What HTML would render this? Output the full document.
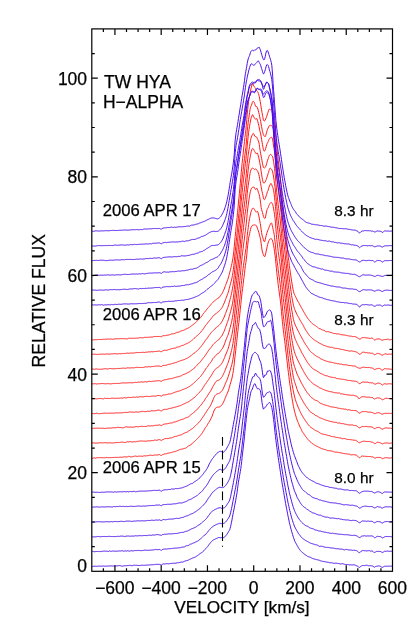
<!DOCTYPE html>
<html><head><meta charset="utf-8"><title>TW HYA H-ALPHA</title>
<style>html,body{margin:0;padding:0;background:#fff;}body{width:420px;height:630px;position:relative;overflow:hidden;font-family:"Liberation Sans",sans-serif;}</style>
</head><body>
<svg width="420" height="630" viewBox="0 0 420 630" style="position:absolute;left:0;top:0;will-change:transform">
<defs><clipPath id="c"><rect x="91.8" y="28.9" width="300.7" height="542.4"/></clipPath></defs>
<g clip-path="url(#c)" fill="none" stroke-width="1" stroke-linejoin="round">
<path d="M91.8,566.45 L92.3,566.53 L92.7,566.52 L93.2,566.38 L93.7,566.24 L94.1,566.18 L94.6,566.19 L95.0,566.21 L95.5,566.24 L96.0,566.29 L96.4,566.33 L96.9,566.32 L97.4,566.25 L97.8,566.18 L98.3,566.14 L98.7,566.14 L99.2,566.14 L99.7,566.14 L100.1,566.13 L100.6,566.13 L101.1,566.13 L101.5,566.13 L102.0,566.14 L102.4,566.12 L102.9,566.08 L103.4,566.04 L103.8,566.05 L104.3,566.12 L104.8,566.18 L105.2,566.19 L105.7,566.15 L106.1,566.11 L106.6,566.09 L107.1,566.10 L107.5,566.11 L108.0,566.08 L108.5,566.01 L108.9,565.93 L109.4,565.91 L109.8,565.93 L110.3,565.95 L110.8,565.97 L111.2,565.98 L111.7,565.99 L112.2,566.00 L112.6,566.02 L113.1,566.04 L113.5,566.03 L114.0,565.99 L114.5,565.95 L114.9,565.91 L115.4,565.89 L115.9,565.86 L116.3,565.85 L116.8,565.86 L117.2,565.87 L117.7,565.83 L118.2,565.73 L118.6,565.63 L119.1,565.58 L119.6,565.59 L120.0,565.59 L120.5,565.69 L120.9,565.90 L121.4,566.10 L121.9,566.19 L122.3,566.13 L122.8,566.08 L123.3,566.00 L123.7,565.89 L124.2,565.78 L124.6,565.73 L125.1,565.73 L125.6,565.74 L126.0,565.72 L126.5,565.68 L127.0,565.63 L127.4,565.60 L127.9,565.59 L128.3,565.58 L128.8,565.52 L129.3,565.40 L129.7,565.28 L130.2,565.30 L130.7,565.48 L131.1,565.65 L131.6,565.72 L132.0,565.67 L132.5,565.62 L133.0,565.52 L133.4,565.37 L133.9,565.22 L134.4,565.17 L134.8,565.24 L135.3,565.31 L135.7,565.34 L136.2,565.32 L136.7,565.31 L137.1,565.33 L137.6,565.38 L138.1,565.44 L138.5,565.49 L139.0,565.54 L139.4,565.59 L139.9,565.56 L140.4,565.44 L140.8,565.32 L141.3,565.24 L141.8,565.23 L142.2,565.21 L142.7,565.23 L143.2,565.29 L143.6,565.35 L144.1,565.35 L144.5,565.30 L145.0,565.25 L145.5,565.19 L145.9,565.13 L146.4,565.08 L146.9,565.06 L147.3,565.08 L147.8,565.11 L148.2,565.09 L148.7,565.02 L149.2,564.94 L149.6,564.89 L150.1,564.85 L150.6,564.81 L151.0,564.78 L151.5,564.76 L151.9,564.74 L152.4,564.72 L152.9,564.73 L153.3,564.73 L153.8,564.69 L154.3,564.60 L154.7,564.51 L155.2,564.44 L155.6,564.39 L156.1,564.34 L156.6,564.32 L157.0,564.32 L157.5,564.32 L158.0,564.34 L158.4,564.38 L158.9,564.42 L159.3,564.40 L159.8,564.37 L160.3,564.50 L160.7,564.80 L161.2,565.02 L161.7,564.88 L162.1,564.50 L162.6,564.15 L163.0,563.94 L163.5,563.90 L164.0,563.98 L164.4,564.06 L164.9,564.03 L165.4,563.89 L165.8,563.74 L166.3,563.67 L166.7,563.69 L167.2,563.71 L167.7,563.74 L168.1,563.78 L168.6,563.81 L169.1,563.79 L169.5,563.70 L170.0,563.61 L170.4,563.53 L170.9,563.47 L171.4,563.41 L171.8,563.35 L172.3,563.30 L172.8,563.24 L173.2,563.23 L173.7,563.25 L174.1,563.28 L174.6,563.27 L175.1,563.23 L175.5,563.18 L176.0,563.10 L176.5,562.97 L176.9,562.84 L177.4,562.76 L177.8,562.74 L178.3,562.71 L178.8,562.65 L179.2,562.55 L179.7,562.44 L180.2,562.33 L180.6,562.23 L181.1,562.11 L181.5,562.07 L182.0,562.10 L182.5,562.14 L182.9,562.04 L183.4,561.81 L183.9,561.58 L184.3,561.36 L184.8,561.16 L185.2,560.96 L185.7,560.82 L186.2,560.75 L186.6,560.67 L187.1,560.56 L187.6,560.42 L188.0,560.27 L188.5,560.06 L188.9,559.78 L189.4,559.50 L189.9,559.26 L190.3,559.09 L190.8,558.92 L191.3,558.71 L191.7,558.46 L192.2,558.21 L192.7,558.00 L193.1,557.85 L193.6,557.70 L194.0,557.55 L194.5,557.39 L195.0,557.22 L195.4,556.98 L195.9,556.65 L196.4,556.31 L196.8,556.00 L197.3,555.73 L197.7,555.45 L198.2,555.12 L198.7,554.73 L199.1,554.33 L199.6,553.97 L200.1,553.65 L200.5,553.32 L201.0,553.02 L201.4,552.75 L201.9,552.47 L202.4,552.13 L202.8,551.71 L203.3,551.28 L203.8,550.80 L204.2,550.27 L204.7,549.73 L205.1,549.24 L205.6,548.78 L206.1,548.28 L206.5,547.77 L207.0,547.27 L207.5,546.76 L207.9,546.17 L208.4,545.52 L208.8,544.87 L209.3,544.22 L209.8,543.60 L210.2,543.00 L210.7,542.44 L211.2,541.92 L211.6,541.45 L212.1,541.01 L212.5,540.61 L213.0,540.26 L213.5,539.95 L213.9,539.70 L214.4,539.46 L214.9,539.23 L215.3,539.01 L215.8,538.80 L216.2,538.59 L216.7,538.39 L217.2,538.20 L217.6,537.98 L218.1,537.73 L218.6,537.50 L219.0,537.43 L219.5,537.54 L219.9,537.70 L220.4,537.76 L220.9,537.68 L221.3,537.63 L221.8,537.63 L222.3,537.68 L222.7,537.68 L223.2,537.66 L223.6,537.60 L224.1,537.45 L224.6,537.13 L225.0,536.63 L225.5,536.05 L226.0,535.48 L226.4,534.94 L226.9,534.36 L227.3,533.69 L227.8,532.91 L228.3,532.12 L228.7,531.37 L229.2,530.67 L229.7,529.74 L230.1,528.35 L230.6,526.57 L231.0,524.50 L231.5,522.23 L232.0,519.80 L232.4,517.28 L232.9,514.78 L233.4,512.36 L233.8,510.05 L234.3,507.78 L234.7,505.43 L235.2,502.99 L235.7,500.45 L236.1,497.82 L236.6,495.11 L237.1,492.17 L237.5,488.86 L238.0,485.43 L238.4,482.21 L238.9,479.39 L239.4,476.78 L239.8,474.21 L240.3,471.53 L240.8,468.68 L241.2,465.46 L241.7,461.63 L242.1,457.36 L242.6,453.04 L243.1,448.97 L243.5,445.02 L244.0,440.93 L244.5,436.54 L244.9,431.72 L245.4,426.81 L245.9,422.38 L246.3,418.27 L246.8,414.26 L247.2,410.56 L247.7,407.46 L248.2,404.90 L248.6,402.74 L249.1,400.77 L249.6,398.65 L250.0,396.20 L250.5,393.73 L250.9,391.79 L251.4,390.66 L251.9,390.03 L252.3,389.07 L252.8,387.63 L253.3,386.27 L253.7,385.16 L254.2,384.34 L254.6,383.72 L255.1,383.90 L255.6,384.96 L256.0,386.18 L256.5,387.20 L257.0,387.96 L257.4,388.79 L257.9,389.09 L258.3,388.76 L258.8,388.59 L259.3,388.85 L259.7,389.52 L260.2,390.38 L260.7,392.09 L261.1,395.15 L261.6,398.89 L262.0,402.46 L262.5,405.43 L263.0,407.84 L263.4,409.05 L263.9,408.77 L264.4,408.01 L264.8,407.40 L265.3,407.18 L265.7,406.89 L266.2,406.25 L266.7,405.37 L267.1,404.57 L267.6,404.01 L268.1,403.61 L268.5,403.26 L269.0,402.91 L269.4,402.60 L269.9,402.63 L270.4,403.28 L270.8,404.46 L271.3,405.79 L271.8,407.51 L272.2,409.86 L272.7,412.72 L273.1,415.85 L273.6,419.42 L274.1,423.52 L274.5,427.93 L275.0,432.37 L275.5,436.59 L275.9,440.33 L276.4,443.83 L276.8,447.25 L277.3,450.68 L277.8,454.11 L278.2,457.46 L278.7,460.66 L279.2,463.71 L279.6,466.72 L280.1,469.77 L280.5,472.89 L281.0,475.98 L281.5,478.98 L281.9,481.90 L282.4,484.77 L282.9,487.52 L283.3,490.13 L283.8,492.71 L284.2,495.38 L284.7,498.17 L285.2,500.90 L285.6,503.52 L286.1,506.02 L286.6,508.47 L287.0,510.85 L287.5,513.18 L287.9,515.47 L288.4,517.76 L288.9,520.02 L289.3,522.21 L289.8,524.27 L290.3,526.17 L290.7,527.96 L291.2,529.65 L291.6,531.30 L292.1,532.91 L292.6,534.49 L293.0,536.02 L293.5,537.47 L294.0,538.86 L294.4,540.19 L294.9,541.39 L295.4,542.36 L295.8,543.13 L296.3,543.88 L296.7,544.69 L297.2,545.58 L297.7,546.44 L298.1,547.24 L298.6,547.99 L299.1,548.70 L299.5,549.37 L300.0,549.98 L300.4,550.56 L300.9,551.11 L301.4,551.60 L301.8,552.07 L302.3,552.46 L302.8,552.77 L303.2,553.05 L303.7,553.42 L304.1,553.91 L304.6,554.39 L305.1,554.74 L305.5,554.96 L306.0,555.17 L306.5,555.47 L306.9,555.87 L307.4,556.27 L307.8,556.53 L308.3,556.65 L308.8,556.77 L309.2,556.91 L309.7,557.08 L310.2,557.24 L310.6,557.45 L311.1,557.72 L311.5,557.98 L312.0,558.21 L312.5,558.42 L312.9,558.62 L313.4,558.78 L313.9,558.89 L314.3,559.00 L314.8,559.12 L315.2,559.24 L315.7,559.36 L316.2,559.49 L316.6,559.63 L317.1,559.77 L317.6,559.87 L318.0,559.92 L318.5,559.97 L318.9,560.10 L319.4,560.32 L319.9,560.53 L320.3,560.72 L320.8,560.88 L321.3,561.04 L321.7,561.16 L322.2,561.23 L322.6,561.31 L323.1,561.39 L323.6,561.49 L324.0,561.58 L324.5,561.67 L325.0,561.75 L325.4,561.82 L325.9,561.91 L326.3,562.00 L326.8,562.09 L327.3,562.17 L327.7,562.24 L328.2,562.30 L328.7,562.42 L329.1,562.59 L329.6,562.77 L330.0,562.83 L330.5,562.75 L331.0,562.67 L331.4,562.69 L331.9,562.83 L332.4,562.97 L332.8,563.09 L333.3,563.18 L333.7,563.27 L334.2,563.30 L334.7,563.25 L335.1,563.20 L335.6,563.18 L336.1,563.20 L336.5,563.21 L337.0,563.26 L337.4,563.36 L337.9,563.46 L338.4,563.55 L338.8,563.62 L339.3,563.69 L339.8,563.78 L340.2,563.89 L340.7,564.00 L341.1,563.98 L341.6,563.81 L342.1,563.64 L342.5,563.63 L343.0,563.79 L343.5,563.95 L343.9,564.11 L344.4,564.27 L344.9,564.43 L345.3,564.52 L345.8,564.54 L346.2,564.57 L346.7,564.57 L347.2,564.56 L347.6,564.55 L348.1,564.61 L348.6,564.74 L349.0,564.88 L349.5,564.92 L349.9,564.86 L350.4,564.79 L350.9,564.79 L351.3,564.86 L351.8,564.93 L352.3,564.94 L352.7,564.87 L353.2,564.81 L353.6,564.80 L354.1,564.84 L354.6,564.89 L355.0,565.03 L355.5,565.29 L356.0,565.58 L356.4,565.75 L356.9,565.80 L357.3,565.94 L357.8,566.28 L358.3,566.79 L358.7,567.25 L359.2,567.46 L359.7,567.32 L360.1,566.98 L360.6,566.59 L361.0,566.27 L361.5,565.98 L362.0,565.75 L362.4,565.56 L362.9,565.46 L363.4,565.45 L363.8,565.54 L364.3,565.64 L364.7,565.63 L365.2,565.48 L365.7,565.33 L366.1,565.25 L366.6,565.25 L367.1,565.26 L367.5,565.35 L368.0,565.54 L368.4,565.74 L368.9,565.81 L369.4,565.74 L369.8,565.67 L370.3,565.67 L370.8,565.75 L371.2,565.84 L371.7,565.89 L372.1,565.94 L372.6,566.05 L373.1,566.30 L373.5,566.67 L374.0,567.03 L374.5,567.18 L374.9,567.01 L375.4,566.67 L375.8,566.38 L376.3,566.27 L376.8,566.22 L377.2,566.17 L377.7,566.08 L378.2,566.02 L378.6,565.99 L379.1,565.97 L379.5,565.97 L380.0,566.09 L380.5,566.34 L380.9,566.67 L381.4,567.00 L381.9,567.23 L382.3,567.31 L382.8,567.22 L383.2,567.00 L383.7,566.73 L384.2,566.48 L384.6,566.29 L385.1,566.17 L385.6,566.15 L386.0,566.20 L386.5,566.26 L386.9,566.27 L387.4,566.24 L387.9,566.20 L388.3,566.17 L388.8,566.16 L389.3,566.15 L389.7,566.15 L390.2,566.16 L390.6,566.17 L391.1,566.17 L391.6,566.15 L392.0,566.12 L392.5,566.12" stroke="#4a10e8"/>
<path d="M91.8,551.30 L92.3,551.35 L92.7,551.39 L93.2,551.46 L93.7,551.58 L94.1,551.70 L94.6,551.78 L95.0,551.68 L95.5,551.58 L96.0,551.49 L96.4,551.52 L96.9,551.55 L97.4,551.56 L97.8,551.50 L98.3,551.45 L98.7,551.42 L99.2,551.51 L99.7,551.60 L100.1,551.66 L100.6,551.54 L101.1,551.43 L101.5,551.33 L102.0,551.32 L102.4,551.31 L102.9,551.29 L103.4,551.20 L103.8,551.11 L104.3,551.05 L104.8,551.11 L105.2,551.18 L105.7,551.22 L106.1,551.20 L106.6,551.18 L107.1,551.18 L107.5,551.29 L108.0,551.39 L108.5,551.44 L108.9,551.22 L109.4,550.99 L109.8,550.84 L110.3,551.07 L110.8,551.30 L111.2,551.46 L111.7,551.28 L112.2,551.10 L112.6,550.96 L113.1,551.03 L113.5,551.10 L114.0,551.17 L114.5,551.19 L114.9,551.21 L115.4,551.22 L115.9,551.20 L116.3,551.18 L116.8,551.16 L117.2,551.15 L117.7,551.14 L118.2,551.12 L118.6,551.05 L119.1,550.98 L119.6,550.93 L120.0,550.95 L120.5,550.97 L120.9,550.97 L121.4,550.87 L121.9,550.77 L122.3,550.72 L122.8,550.90 L123.3,551.08 L123.7,551.21 L124.2,551.10 L124.6,550.99 L125.1,550.90 L125.6,550.94 L126.0,550.98 L126.5,551.00 L127.0,550.90 L127.4,550.79 L127.9,550.73 L128.3,550.89 L128.8,551.05 L129.3,551.16 L129.7,551.05 L130.2,550.93 L130.7,550.83 L131.1,550.79 L131.6,550.75 L132.0,550.73 L132.5,550.82 L133.0,550.90 L133.4,550.95 L133.9,550.80 L134.4,550.64 L134.8,550.52 L135.3,550.55 L135.7,550.59 L136.2,550.61 L136.7,550.55 L137.1,550.48 L137.6,550.43 L138.1,550.42 L138.5,550.41 L139.0,550.42 L139.4,550.51 L139.9,550.61 L140.4,550.68 L140.8,550.65 L141.3,550.63 L141.8,550.59 L142.2,550.54 L142.7,550.49 L143.2,550.43 L143.6,550.36 L144.1,550.28 L144.5,550.21 L145.0,550.19 L145.5,550.16 L145.9,550.15 L146.4,550.21 L146.9,550.28 L147.3,550.33 L147.8,550.30 L148.2,550.27 L148.7,550.24 L149.2,550.23 L149.6,550.21 L150.1,550.19 L150.6,550.16 L151.0,550.12 L151.5,550.08 L151.9,550.03 L152.4,549.98 L152.9,549.94 L153.3,549.90 L153.8,549.87 L154.3,549.82 L154.7,549.66 L155.2,549.51 L155.6,549.40 L156.1,549.52 L156.6,549.63 L157.0,549.72 L157.5,549.68 L158.0,549.64 L158.4,549.59 L158.9,549.52 L159.3,549.47 L159.8,549.51 L160.3,549.81 L160.7,550.20 L161.2,550.41 L161.7,550.17 L162.1,549.76 L162.6,549.45 L163.0,549.30 L163.5,549.23 L164.0,549.17 L164.4,549.09 L164.9,549.02 L165.4,548.97 L165.8,549.06 L166.3,549.15 L166.7,549.19 L167.2,549.00 L167.7,548.81 L168.1,548.67 L168.6,548.73 L169.1,548.80 L169.5,548.84 L170.0,548.77 L170.4,548.70 L170.9,548.63 L171.4,548.55 L171.8,548.47 L172.3,548.40 L172.8,548.37 L173.2,548.34 L173.7,548.30 L174.1,548.23 L174.6,548.16 L175.1,548.10 L175.5,548.10 L176.0,548.10 L176.5,548.09 L176.9,548.04 L177.4,548.00 L177.8,547.94 L178.3,547.86 L178.8,547.78 L179.2,547.71 L179.7,547.72 L180.2,547.73 L180.6,547.69 L181.1,547.48 L181.5,547.26 L182.0,547.08 L182.5,547.08 L182.9,547.09 L183.4,547.07 L183.9,546.97 L184.3,546.86 L184.8,546.71 L185.2,546.38 L185.7,546.04 L186.2,545.74 L186.6,545.71 L187.1,545.67 L187.6,545.61 L188.0,545.49 L188.5,545.37 L188.9,545.21 L189.4,544.84 L189.9,544.47 L190.3,544.15 L190.8,544.08 L191.3,544.00 L191.7,543.88 L192.2,543.59 L192.7,543.29 L193.1,543.03 L193.6,542.92 L194.0,542.81 L194.5,542.67 L195.0,542.41 L195.4,542.15 L195.9,541.89 L196.4,541.71 L196.8,541.52 L197.3,541.31 L197.7,541.03 L198.2,540.74 L198.7,540.43 L199.1,540.05 L199.6,539.66 L200.1,539.27 L200.5,538.87 L201.0,538.45 L201.4,538.04 L201.9,537.61 L202.4,537.18 L202.8,536.74 L203.3,536.25 L203.8,535.76 L204.2,535.31 L204.7,535.10 L205.1,534.89 L205.6,534.57 L206.1,533.96 L206.5,533.31 L207.0,532.67 L207.5,532.19 L207.9,531.69 L208.4,531.16 L208.8,530.54 L209.3,529.93 L209.8,529.34 L210.2,528.87 L210.7,528.42 L211.2,527.99 L211.6,527.53 L212.1,527.13 L212.5,526.77 L213.0,526.42 L213.5,526.09 L213.9,525.79 L214.4,525.56 L214.9,525.34 L215.3,525.13 L215.8,524.84 L216.2,524.57 L216.7,524.33 L217.2,524.19 L217.6,524.07 L218.1,523.93 L218.6,523.69 L219.0,523.47 L219.5,523.31 L219.9,523.34 L220.4,523.42 L220.9,523.51 L221.3,523.58 L221.8,523.65 L222.3,523.70 L222.7,523.65 L223.2,523.54 L223.6,523.35 L224.1,523.16 L224.6,522.89 L225.0,522.54 L225.5,522.11 L226.0,521.61 L226.4,521.06 L226.9,520.44 L227.3,519.80 L227.8,519.13 L228.3,518.45 L228.7,517.74 L229.2,517.00 L229.7,515.95 L230.1,514.52 L230.6,512.77 L231.0,510.81 L231.5,508.65 L232.0,506.33 L232.4,503.94 L232.9,501.51 L233.4,499.12 L233.8,496.78 L234.3,494.47 L234.7,492.08 L235.2,489.70 L235.7,487.24 L236.1,484.69 L236.6,481.91 L237.1,479.05 L237.5,476.01 L238.0,473.07 L238.4,470.17 L238.9,467.37 L239.4,464.43 L239.8,461.56 L240.3,458.68 L240.8,455.95 L241.2,452.92 L241.7,449.37 L242.1,445.28 L242.6,441.07 L243.1,437.03 L243.5,433.07 L244.0,429.05 L244.5,424.87 L244.9,420.41 L245.4,415.77 L245.9,411.41 L246.3,407.31 L246.8,403.36 L247.2,399.74 L247.7,396.37 L248.2,393.43 L248.6,390.86 L249.1,389.00 L249.6,387.23 L250.0,385.42 L250.5,383.62 L250.9,382.03 L251.4,380.69 L251.9,379.23 L252.3,377.86 L252.8,376.73 L253.3,376.59 L253.7,376.60 L254.2,376.46 L254.6,375.05 L255.1,373.86 L255.6,373.15 L256.0,373.97 L256.5,374.92 L257.0,375.85 L257.4,376.32 L257.9,376.84 L258.3,377.29 L258.8,377.38 L259.3,377.73 L259.7,378.42 L260.2,379.84 L260.7,381.37 L261.1,383.54 L261.6,386.84 L262.0,390.40 L262.5,393.69 L263.0,395.90 L263.4,397.15 L263.9,397.17 L264.4,396.73 L264.8,396.10 L265.3,395.43 L265.7,394.67 L266.2,393.75 L266.7,392.90 L267.1,392.63 L267.6,392.58 L268.1,392.59 L268.5,392.22 L269.0,391.93 L269.4,391.74 L269.9,391.71 L270.4,392.09 L270.8,392.84 L271.3,394.16 L271.8,396.04 L272.2,398.67 L272.7,401.51 L273.1,404.51 L273.6,407.84 L274.1,411.82 L274.5,416.08 L275.0,420.41 L275.5,424.73 L275.9,428.63 L276.4,432.32 L276.8,435.69 L277.3,438.98 L277.8,442.26 L278.2,445.66 L278.7,448.98 L279.2,452.15 L279.6,454.92 L280.1,457.65 L280.5,460.38 L281.0,463.15 L281.5,465.90 L281.9,468.69 L282.4,471.72 L282.9,474.70 L283.3,477.57 L283.8,480.09 L284.2,482.57 L284.7,485.05 L285.2,487.62 L285.6,490.15 L286.1,492.63 L286.6,495.09 L287.0,497.50 L287.5,499.86 L287.9,502.13 L288.4,504.35 L288.9,506.50 L289.3,508.58 L289.8,510.55 L290.3,512.43 L290.7,514.24 L291.2,515.97 L291.6,517.66 L292.1,519.24 L292.6,520.76 L293.0,522.21 L293.5,523.61 L294.0,524.91 L294.4,526.10 L294.9,527.15 L295.4,528.06 L295.8,528.90 L296.3,529.72 L296.7,530.52 L297.2,531.31 L297.7,532.15 L298.1,532.97 L298.6,533.72 L299.1,534.30 L299.5,534.84 L300.0,535.39 L300.4,536.05 L300.9,536.69 L301.4,537.27 L301.8,537.71 L302.3,538.13 L302.8,538.51 L303.2,538.86 L303.7,539.17 L304.1,539.47 L304.6,539.80 L305.1,540.12 L305.5,540.42 L306.0,540.71 L306.5,540.98 L306.9,541.24 L307.4,541.47 L307.8,541.70 L308.3,541.92 L308.8,542.20 L309.2,542.47 L309.7,542.72 L310.2,542.94 L310.6,543.15 L311.1,543.34 L311.5,543.50 L312.0,543.66 L312.5,543.80 L312.9,543.91 L313.4,544.01 L313.9,544.12 L314.3,544.34 L314.8,544.55 L315.2,544.73 L315.7,544.75 L316.2,544.78 L316.6,544.83 L317.1,545.06 L317.6,545.28 L318.0,545.52 L318.5,545.82 L318.9,546.12 L319.4,546.37 L319.9,546.33 L320.3,546.30 L320.8,546.26 L321.3,546.25 L321.7,546.23 L322.2,546.25 L322.6,546.44 L323.1,546.64 L323.6,546.81 L324.0,546.93 L324.5,547.05 L325.0,547.16 L325.4,547.27 L325.9,547.38 L326.3,547.46 L326.8,547.41 L327.3,547.36 L327.7,547.34 L328.2,547.43 L328.7,547.52 L329.1,547.61 L329.6,547.69 L330.0,547.78 L330.5,547.86 L331.0,547.94 L331.4,548.01 L331.9,548.07 L332.4,548.07 L332.8,548.07 L333.3,548.08 L333.7,548.17 L334.2,548.26 L334.7,548.36 L335.1,548.53 L335.6,548.70 L336.1,548.84 L336.5,548.77 L337.0,548.71 L337.4,548.67 L337.9,548.76 L338.4,548.84 L338.8,548.92 L339.3,548.99 L339.8,549.05 L340.2,549.10 L340.7,549.10 L341.1,549.10 L341.6,549.11 L342.1,549.20 L342.5,549.29 L343.0,549.40 L343.5,549.61 L343.9,549.82 L344.4,549.97 L344.9,549.75 L345.3,549.53 L345.8,549.37 L346.2,549.44 L346.7,549.51 L347.2,549.58 L347.6,549.69 L348.1,549.79 L348.6,549.89 L349.0,549.94 L349.5,549.99 L349.9,550.03 L350.4,550.03 L350.9,550.03 L351.3,550.05 L351.8,550.17 L352.3,550.29 L352.7,550.38 L353.2,550.32 L353.6,550.26 L354.1,550.22 L354.6,550.28 L355.0,550.35 L355.5,550.42 L356.0,550.51 L356.4,550.64 L356.9,550.86 L357.3,551.19 L357.8,551.60 L358.3,552.04 L358.7,552.40 L359.2,552.61 L359.7,552.60 L360.1,552.31 L360.6,551.88 L361.0,551.41 L361.5,551.06 L362.0,550.79 L362.4,550.62 L362.9,550.59 L363.4,550.60 L363.8,550.64 L364.3,550.68 L364.7,550.72 L365.2,550.77 L365.7,550.84 L366.1,550.90 L366.6,550.94 L367.1,550.86 L367.5,550.79 L368.0,550.72 L368.4,550.68 L368.9,550.65 L369.4,550.65 L369.8,550.85 L370.3,551.05 L370.8,551.20 L371.2,551.06 L371.7,550.94 L372.1,550.92 L372.6,551.26 L373.1,551.69 L373.5,552.13 L374.0,552.32 L374.5,552.40 L374.9,552.32 L375.4,552.12 L375.8,551.80 L376.3,551.51 L376.8,551.41 L377.2,551.39 L377.7,551.42 L378.2,551.41 L378.6,551.42 L379.1,551.44 L379.5,551.40 L380.0,551.40 L380.5,551.50 L380.9,551.73 L381.4,551.99 L381.9,552.23 L382.3,552.41 L382.8,552.40 L383.2,552.21 L383.7,551.82 L384.2,551.46 L384.6,551.23 L385.1,551.26 L385.6,551.34 L386.0,551.41 L386.5,551.26 L386.9,551.12 L387.4,551.02 L387.9,551.12 L388.3,551.22 L388.8,551.30 L389.3,551.29 L389.7,551.29 L390.2,551.28 L390.6,551.26 L391.1,551.24 L391.6,551.23 L392.0,551.25 L392.5,551.26" stroke="#4a10e8"/>
<path d="M91.8,536.87 L92.3,536.90 L92.7,536.91 L93.2,536.88 L93.7,536.84 L94.1,536.82 L94.6,536.84 L95.0,536.86 L95.5,536.87 L96.0,536.80 L96.4,536.73 L96.9,536.66 L97.4,536.57 L97.8,536.49 L98.3,536.43 L98.7,536.52 L99.2,536.62 L99.7,536.70 L100.1,536.70 L100.6,536.70 L101.1,536.69 L101.5,536.61 L102.0,536.54 L102.4,536.47 L102.9,536.47 L103.4,536.47 L103.8,536.47 L104.3,536.47 L104.8,536.48 L105.2,536.49 L105.7,536.54 L106.1,536.59 L106.6,536.62 L107.1,536.56 L107.5,536.50 L108.0,536.44 L108.5,536.39 L108.9,536.34 L109.4,536.30 L109.8,536.41 L110.3,536.52 L110.8,536.60 L111.2,536.54 L111.7,536.48 L112.2,536.44 L112.6,536.51 L113.1,536.59 L113.5,536.64 L114.0,536.60 L114.5,536.55 L114.9,536.52 L115.4,536.54 L115.9,536.56 L116.3,536.57 L116.8,536.47 L117.2,536.36 L117.7,536.28 L118.2,536.33 L118.6,536.38 L119.1,536.42 L119.6,536.32 L120.0,536.22 L120.5,536.14 L120.9,536.13 L121.4,536.13 L121.9,536.13 L122.3,536.14 L122.8,536.15 L123.3,536.18 L123.7,536.31 L124.2,536.43 L124.6,536.53 L125.1,536.40 L125.6,536.28 L126.0,536.17 L126.5,536.13 L127.0,536.09 L127.4,536.06 L127.9,536.04 L128.3,536.02 L128.8,536.02 L129.3,536.10 L129.7,536.19 L130.2,536.25 L130.7,536.18 L131.1,536.11 L131.6,536.05 L132.0,536.07 L132.5,536.09 L133.0,536.10 L133.4,536.08 L133.9,536.06 L134.4,536.03 L134.8,535.91 L135.3,535.79 L135.7,535.69 L136.2,535.79 L136.7,535.88 L137.1,535.96 L137.6,535.90 L138.1,535.84 L138.5,535.78 L139.0,535.71 L139.4,535.65 L139.9,535.59 L140.4,535.66 L140.8,535.73 L141.3,535.78 L141.8,535.74 L142.2,535.69 L142.7,535.65 L143.2,535.61 L143.6,535.58 L144.1,535.55 L144.5,535.53 L145.0,535.51 L145.5,535.50 L145.9,535.56 L146.4,535.61 L146.9,535.64 L147.3,535.54 L147.8,535.44 L148.2,535.34 L148.7,535.24 L149.2,535.15 L149.6,535.08 L150.1,535.22 L150.6,535.36 L151.0,535.46 L151.5,535.30 L151.9,535.13 L152.4,534.99 L152.9,535.00 L153.3,535.02 L153.8,535.03 L154.3,535.05 L154.7,535.06 L155.2,535.05 L155.6,534.87 L156.1,534.69 L156.6,534.54 L157.0,534.58 L157.5,534.62 L158.0,534.66 L158.4,534.75 L158.9,534.83 L159.3,534.91 L159.8,534.90 L160.3,535.04 L160.7,535.29 L161.2,535.41 L161.7,535.17 L162.1,534.77 L162.6,534.54 L163.0,534.46 L163.5,534.44 L164.0,534.35 L164.4,534.27 L164.9,534.20 L165.4,534.21 L165.8,534.22 L166.3,534.23 L166.7,534.15 L167.2,534.07 L167.7,534.00 L168.1,533.92 L168.6,533.84 L169.1,533.78 L169.5,533.87 L170.0,533.95 L170.4,534.01 L170.9,533.92 L171.4,533.83 L171.8,533.75 L172.3,533.75 L172.8,533.74 L173.2,533.73 L173.7,533.65 L174.1,533.57 L174.6,533.50 L175.1,533.53 L175.5,533.55 L176.0,533.56 L176.5,533.47 L176.9,533.38 L177.4,533.29 L177.8,533.21 L178.3,533.12 L178.8,533.03 L179.2,532.90 L179.7,532.77 L180.2,532.65 L180.6,532.55 L181.1,532.46 L181.5,532.37 L182.0,532.41 L182.5,532.44 L182.9,532.45 L183.4,532.30 L183.9,532.14 L184.3,531.97 L184.8,531.74 L185.2,531.52 L185.7,531.31 L186.2,531.30 L186.6,531.29 L187.1,531.24 L187.6,530.98 L188.0,530.71 L188.5,530.45 L188.9,530.24 L189.4,530.03 L189.9,529.80 L190.3,529.52 L190.8,529.24 L191.3,528.97 L191.7,528.79 L192.2,528.61 L192.7,528.43 L193.1,528.27 L193.6,528.10 L194.0,527.93 L194.5,527.70 L195.0,527.48 L195.4,527.24 L195.9,526.98 L196.4,526.71 L196.8,526.42 L197.3,526.03 L197.7,525.63 L198.2,525.24 L198.7,525.03 L199.1,524.82 L199.6,524.57 L200.1,524.21 L200.5,523.85 L201.0,523.47 L201.4,523.06 L201.9,522.64 L202.4,522.22 L202.8,521.85 L203.3,521.47 L203.8,521.08 L204.2,520.68 L204.7,520.26 L205.1,519.84 L205.6,519.42 L206.1,518.96 L206.5,518.45 L207.0,517.82 L207.5,517.16 L207.9,516.50 L208.4,515.91 L208.8,515.31 L209.3,514.72 L209.8,514.03 L210.2,513.36 L210.7,512.73 L211.2,512.25 L211.6,511.80 L212.1,511.41 L212.5,511.07 L213.0,510.78 L213.5,510.50 L213.9,510.17 L214.4,509.86 L214.9,509.57 L215.3,509.39 L215.8,509.21 L216.2,509.03 L216.7,508.74 L217.2,508.46 L217.6,508.21 L218.1,508.10 L218.6,508.01 L219.0,507.93 L219.5,507.82 L219.9,507.75 L220.4,507.74 L220.9,507.90 L221.3,508.08 L221.8,508.24 L222.3,508.19 L222.7,508.11 L223.2,507.98 L223.6,507.95 L224.1,507.83 L224.6,507.62 L225.0,507.24 L225.5,506.78 L226.0,506.24 L226.4,505.53 L226.9,504.79 L227.3,504.03 L227.8,503.37 L228.3,502.70 L228.7,501.98 L229.2,501.15 L229.7,500.08 L230.1,498.59 L230.6,496.69 L231.0,494.51 L231.5,492.14 L232.0,489.89 L232.4,487.56 L232.9,485.17 L233.4,482.64 L233.8,480.22 L234.3,477.82 L234.7,475.28 L235.2,472.65 L235.7,469.94 L236.1,467.17 L236.6,464.33 L237.1,461.41 L237.5,458.33 L238.0,455.16 L238.4,452.01 L238.9,448.98 L239.4,446.16 L239.8,443.42 L240.3,440.54 L240.8,437.48 L241.2,434.12 L241.7,430.31 L242.1,426.05 L242.6,421.71 L243.1,417.71 L243.5,413.84 L244.0,409.91 L244.5,405.48 L244.9,400.61 L245.4,395.52 L245.9,390.86 L246.3,386.50 L246.8,382.33 L247.2,378.79 L247.7,375.89 L248.2,373.41 L248.6,370.70 L249.1,368.17 L249.6,365.77 L250.0,363.89 L250.5,362.03 L250.9,360.28 L251.4,358.15 L251.9,356.49 L252.3,355.02 L252.8,354.31 L253.3,353.71 L253.7,353.22 L254.2,352.70 L254.6,352.38 L255.1,352.31 L255.6,352.61 L256.0,353.07 L256.5,353.62 L257.0,353.95 L257.4,354.36 L257.9,354.92 L258.3,356.14 L258.8,357.50 L259.3,358.99 L259.7,359.96 L260.2,361.09 L260.7,362.33 L261.1,363.97 L261.6,366.38 L262.0,369.25 L262.5,372.87 L263.0,375.87 L263.4,377.69 L263.9,377.15 L264.4,376.11 L264.8,375.04 L265.3,375.08 L265.7,375.05 L266.2,374.72 L266.7,373.30 L267.1,371.96 L267.6,370.95 L268.1,370.99 L268.5,371.06 L269.0,371.13 L269.4,370.63 L269.9,370.48 L270.4,370.82 L270.8,371.95 L271.3,373.24 L271.8,375.14 L272.2,378.08 L272.7,381.49 L273.1,384.91 L273.6,387.86 L274.1,391.42 L274.5,395.40 L275.0,399.84 L275.5,404.06 L275.9,407.91 L276.4,411.81 L276.8,415.60 L277.3,419.27 L277.8,422.72 L278.2,426.10 L278.7,429.40 L279.2,432.61 L279.6,435.76 L280.1,438.88 L280.5,442.03 L281.0,445.14 L281.5,448.19 L281.9,450.99 L282.4,453.76 L282.9,456.54 L283.3,459.54 L283.8,462.48 L284.2,465.35 L284.7,468.04 L285.2,470.67 L285.6,473.26 L286.1,475.86 L286.6,478.40 L287.0,480.88 L287.5,483.28 L287.9,485.63 L288.4,487.95 L288.9,490.24 L289.3,492.44 L289.8,494.52 L290.3,496.32 L290.7,498.00 L291.2,499.62 L291.6,501.43 L292.1,503.19 L292.6,504.87 L293.0,506.36 L293.5,507.76 L294.0,509.08 L294.4,510.39 L294.9,511.58 L295.4,512.62 L295.8,513.56 L296.3,514.46 L296.7,515.33 L297.2,516.12 L297.7,516.87 L298.1,517.60 L298.6,518.33 L299.1,519.03 L299.5,519.70 L300.0,520.29 L300.4,520.85 L300.9,521.38 L301.4,521.93 L301.8,522.45 L302.3,522.93 L302.8,523.35 L303.2,523.74 L303.7,524.10 L304.1,524.49 L304.6,524.87 L305.1,525.23 L305.5,525.49 L306.0,525.74 L306.5,525.97 L306.9,526.10 L307.4,526.22 L307.8,526.37 L308.3,526.74 L308.8,527.12 L309.2,527.46 L309.7,527.71 L310.2,527.95 L310.6,528.16 L311.1,528.28 L311.5,528.40 L312.0,528.51 L312.5,528.63 L312.9,528.75 L313.4,528.88 L313.9,529.21 L314.3,529.54 L314.8,529.83 L315.2,529.91 L315.7,529.98 L316.2,530.07 L316.6,530.23 L317.1,530.39 L317.6,530.55 L318.0,530.74 L318.5,530.93 L318.9,531.09 L319.4,531.07 L319.9,531.04 L320.3,531.03 L320.8,531.19 L321.3,531.34 L321.7,531.48 L322.2,531.58 L322.6,531.68 L323.1,531.78 L323.6,531.93 L324.0,532.07 L324.5,532.19 L325.0,532.22 L325.4,532.23 L325.9,532.27 L326.3,532.41 L326.8,532.55 L327.3,532.68 L327.7,532.73 L328.2,532.78 L328.7,532.84 L329.1,532.97 L329.6,533.10 L330.0,533.21 L330.5,533.29 L331.0,533.36 L331.4,533.41 L331.9,533.32 L332.4,533.23 L332.8,533.17 L333.3,533.33 L333.7,533.50 L334.2,533.64 L334.7,533.65 L335.1,533.66 L335.6,533.68 L336.1,533.75 L336.5,533.82 L337.0,533.89 L337.4,533.97 L337.9,534.04 L338.4,534.12 L338.8,534.17 L339.3,534.23 L339.8,534.27 L340.2,534.26 L340.7,534.24 L341.1,534.24 L341.6,534.34 L342.1,534.44 L342.5,534.53 L343.0,534.57 L343.5,534.61 L343.9,534.64 L344.4,534.68 L344.9,534.71 L345.3,534.74 L345.8,534.71 L346.2,534.69 L346.7,534.68 L347.2,534.75 L347.6,534.81 L348.1,534.88 L348.6,534.94 L349.0,534.99 L349.5,535.05 L349.9,535.14 L350.4,535.23 L350.9,535.32 L351.3,535.40 L351.8,535.48 L352.3,535.54 L352.7,535.44 L353.2,535.34 L353.6,535.25 L354.1,535.28 L354.6,535.31 L355.0,535.36 L355.5,535.47 L356.0,535.61 L356.4,535.79 L356.9,535.96 L357.3,536.21 L357.8,536.56 L358.3,536.96 L358.7,537.32 L359.2,537.53 L359.7,537.55 L360.1,537.36 L360.6,537.03 L361.0,536.65 L361.5,536.30 L362.0,536.05 L362.4,535.97 L362.9,535.96 L363.4,535.98 L363.8,535.86 L364.3,535.76 L364.7,535.69 L365.2,535.87 L365.7,536.04 L366.1,536.18 L366.6,536.08 L367.1,535.97 L367.5,535.88 L368.0,535.92 L368.4,535.96 L368.9,535.99 L369.4,535.98 L369.8,535.98 L370.3,535.97 L370.8,535.93 L371.2,535.89 L371.7,535.89 L372.1,535.99 L372.6,536.16 L373.1,536.44 L373.5,536.89 L374.0,537.33 L374.5,537.66 L374.9,537.70 L375.4,537.57 L375.8,537.31 L376.3,536.89 L376.8,536.54 L377.2,536.31 L377.7,536.36 L378.2,536.45 L378.6,536.54 L379.1,536.51 L379.5,536.50 L380.0,536.55 L380.5,536.69 L380.9,536.91 L381.4,537.19 L381.9,537.58 L382.3,537.83 L382.8,537.87 L383.2,537.66 L383.7,537.40 L384.2,537.16 L384.6,536.85 L385.1,536.63 L385.6,536.47 L386.0,536.47 L386.5,536.48 L386.9,536.50 L387.4,536.52 L387.9,536.54 L388.3,536.56 L388.8,536.55 L389.3,536.53 L389.7,536.53 L390.2,536.58 L390.6,536.64 L391.1,536.69 L391.6,536.73 L392.0,536.77 L392.5,536.79" stroke="#4a10e8"/>
<path d="M91.8,522.12 L92.3,522.05 L92.7,521.98 L93.2,521.92 L93.7,521.94 L94.1,521.96 L94.6,521.97 L95.0,521.94 L95.5,521.91 L96.0,521.87 L96.4,521.82 L96.9,521.77 L97.4,521.73 L97.8,521.72 L98.3,521.71 L98.7,521.70 L99.2,521.71 L99.7,521.72 L100.1,521.74 L100.6,521.78 L101.1,521.82 L101.5,521.86 L102.0,521.87 L102.4,521.88 L102.9,521.88 L103.4,521.88 L103.8,521.87 L104.3,521.86 L104.8,521.82 L105.2,521.79 L105.7,521.75 L106.1,521.73 L106.6,521.70 L107.1,521.68 L107.5,521.72 L108.0,521.77 L108.5,521.80 L108.9,521.80 L109.4,521.80 L109.8,521.79 L110.3,521.70 L110.8,521.60 L111.2,521.54 L111.7,521.65 L112.2,521.77 L112.6,521.85 L113.1,521.75 L113.5,521.64 L114.0,521.54 L114.5,521.50 L114.9,521.45 L115.4,521.42 L115.9,521.50 L116.3,521.57 L116.8,521.63 L117.2,521.63 L117.7,521.63 L118.2,521.62 L118.6,521.59 L119.1,521.56 L119.6,521.52 L120.0,521.44 L120.5,521.35 L120.9,521.27 L121.4,521.31 L121.9,521.34 L122.3,521.39 L122.8,521.48 L123.3,521.57 L123.7,521.64 L124.2,521.55 L124.6,521.46 L125.1,521.36 L125.6,521.27 L126.0,521.18 L126.5,521.10 L127.0,521.09 L127.4,521.09 L127.9,521.08 L128.3,521.09 L128.8,521.10 L129.3,521.12 L129.7,521.16 L130.2,521.20 L130.7,521.24 L131.1,521.33 L131.6,521.41 L132.0,521.46 L132.5,521.34 L133.0,521.21 L133.4,521.10 L133.9,521.11 L134.4,521.12 L134.8,521.12 L135.3,521.09 L135.7,521.07 L136.2,521.03 L136.7,520.93 L137.1,520.83 L137.6,520.76 L138.1,520.82 L138.5,520.88 L139.0,520.94 L139.4,520.92 L139.9,520.89 L140.4,520.87 L140.8,520.83 L141.3,520.80 L141.8,520.77 L142.2,520.80 L142.7,520.83 L143.2,520.86 L143.6,520.86 L144.1,520.86 L144.5,520.86 L145.0,520.84 L145.5,520.83 L145.9,520.79 L146.4,520.69 L146.9,520.58 L147.3,520.48 L147.8,520.47 L148.2,520.46 L148.7,520.45 L149.2,520.49 L149.6,520.52 L150.1,520.53 L150.6,520.41 L151.0,520.29 L151.5,520.18 L151.9,520.21 L152.4,520.24 L152.9,520.27 L153.3,520.33 L153.8,520.39 L154.3,520.42 L154.7,520.28 L155.2,520.14 L155.6,520.02 L156.1,520.03 L156.6,520.04 L157.0,520.06 L157.5,520.09 L158.0,520.13 L158.4,520.14 L158.9,520.01 L159.3,519.89 L159.8,519.87 L160.3,520.13 L160.7,520.50 L161.2,520.68 L161.7,520.48 L162.1,520.10 L162.6,519.82 L163.0,519.63 L163.5,519.52 L164.0,519.46 L164.4,519.59 L164.9,519.71 L165.4,519.81 L165.8,519.73 L166.3,519.64 L166.7,519.55 L167.2,519.47 L167.7,519.38 L168.1,519.30 L168.6,519.23 L169.1,519.15 L169.5,519.08 L170.0,519.10 L170.4,519.11 L170.9,519.12 L171.4,519.09 L171.8,519.07 L172.3,519.04 L172.8,519.00 L173.2,518.95 L173.7,518.90 L174.1,518.80 L174.6,518.69 L175.1,518.59 L175.5,518.48 L176.0,518.38 L176.5,518.30 L176.9,518.36 L177.4,518.42 L177.8,518.47 L178.3,518.44 L178.8,518.41 L179.2,518.36 L179.7,518.18 L180.2,518.00 L180.6,517.83 L181.1,517.74 L181.5,517.65 L182.0,517.55 L182.5,517.46 L182.9,517.37 L183.4,517.26 L183.9,517.03 L184.3,516.80 L184.8,516.57 L185.2,516.40 L185.7,516.22 L186.2,516.05 L186.6,515.96 L187.1,515.85 L187.6,515.73 L188.0,515.52 L188.5,515.31 L188.9,515.08 L189.4,514.82 L189.9,514.55 L190.3,514.30 L190.8,514.13 L191.3,513.96 L191.7,513.78 L192.2,513.60 L192.7,513.41 L193.1,513.21 L193.6,512.88 L194.0,512.55 L194.5,512.24 L195.0,512.03 L195.4,511.81 L195.9,511.56 L196.4,511.19 L196.8,510.81 L197.3,510.42 L197.7,510.13 L198.2,509.83 L198.7,509.50 L199.1,509.10 L199.6,508.69 L200.1,508.27 L200.5,507.82 L201.0,507.35 L201.4,506.88 L201.9,506.48 L202.4,506.06 L202.8,505.63 L203.3,505.18 L203.8,504.73 L204.2,504.27 L204.7,503.79 L205.1,503.30 L205.6,502.74 L206.1,501.97 L206.5,501.16 L207.0,500.34 L207.5,499.66 L207.9,498.96 L208.4,498.27 L208.8,497.67 L209.3,497.08 L209.8,496.47 L210.2,495.73 L210.7,495.02 L211.2,494.32 L211.6,493.62 L212.1,492.96 L212.5,492.38 L213.0,491.99 L213.5,491.62 L213.9,491.25 L214.4,490.82 L214.9,490.39 L215.3,489.98 L215.8,489.56 L216.2,489.16 L216.7,488.77 L217.2,488.47 L217.6,488.19 L218.1,487.91 L218.6,487.64 L219.0,487.39 L219.5,487.32 L219.9,487.31 L220.4,487.35 L220.9,487.43 L221.3,487.50 L221.8,487.58 L222.3,487.63 L222.7,487.64 L223.2,487.56 L223.6,487.37 L224.1,487.04 L224.6,486.60 L225.0,486.08 L225.5,485.58 L226.0,484.99 L226.4,484.35 L226.9,483.69 L227.3,483.01 L227.8,482.29 L228.3,481.43 L228.7,480.56 L229.2,479.67 L229.7,478.63 L230.1,477.18 L230.6,475.36 L231.0,473.30 L231.5,471.00 L232.0,468.52 L232.4,465.78 L232.9,463.01 L233.4,460.28 L233.8,457.68 L234.3,455.10 L234.7,452.44 L235.2,449.85 L235.7,447.17 L236.1,444.38 L236.6,441.31 L237.1,438.14 L237.5,434.76 L238.0,431.47 L238.4,428.22 L238.9,425.13 L239.4,422.14 L239.8,419.23 L240.3,416.30 L240.8,413.31 L241.2,410.00 L241.7,406.07 L242.1,401.24 L242.6,396.25 L243.1,391.48 L243.5,387.39 L244.0,383.26 L244.5,378.92 L244.9,373.85 L245.4,368.54 L245.9,363.57 L246.3,359.29 L246.8,355.20 L247.2,351.55 L247.7,348.48 L248.2,345.93 L248.6,343.58 L249.1,340.59 L249.6,337.65 L250.0,334.78 L250.5,333.02 L250.9,331.48 L251.4,330.21 L251.9,328.34 L252.3,326.56 L252.8,325.01 L253.3,324.68 L253.7,324.51 L254.2,324.36 L254.6,323.41 L255.1,322.71 L255.6,322.40 L256.0,323.41 L256.5,324.56 L257.0,325.75 L257.4,326.66 L257.9,327.63 L258.3,328.47 L258.8,328.54 L259.3,328.89 L259.7,329.60 L260.2,331.32 L260.7,333.15 L261.1,335.52 L261.6,338.47 L262.0,341.73 L262.5,344.83 L263.0,347.13 L263.4,348.39 L263.9,348.40 L264.4,348.48 L264.8,348.37 L265.3,348.19 L265.7,347.62 L266.2,346.90 L266.7,346.13 L267.1,345.34 L267.6,344.78 L268.1,344.40 L268.5,344.20 L269.0,344.09 L269.4,344.12 L269.9,344.42 L270.4,345.15 L270.8,346.15 L271.3,347.20 L271.8,348.85 L272.2,351.40 L272.7,354.51 L273.1,357.80 L273.6,361.42 L274.1,365.59 L274.5,370.09 L275.0,374.67 L275.5,379.20 L275.9,383.29 L276.4,387.19 L276.8,390.78 L277.3,394.30 L277.8,397.77 L278.2,401.19 L278.7,404.55 L279.2,407.88 L279.6,411.33 L280.1,414.71 L280.5,418.02 L281.0,421.17 L281.5,424.30 L281.9,427.41 L282.4,430.63 L282.9,433.80 L283.3,436.90 L283.8,439.78 L284.2,442.61 L284.7,445.41 L285.2,448.21 L285.6,450.97 L286.1,453.67 L286.6,456.38 L287.0,459.04 L287.5,461.66 L287.9,464.22 L288.4,466.73 L288.9,469.15 L289.3,471.36 L289.8,473.47 L290.3,475.48 L290.7,477.41 L291.2,479.26 L291.6,481.08 L292.1,482.78 L292.6,484.44 L293.0,486.04 L293.5,487.73 L294.0,489.31 L294.4,490.76 L294.9,491.87 L295.4,492.84 L295.8,493.84 L296.3,495.12 L296.7,496.35 L297.2,497.51 L297.7,498.32 L298.1,499.10 L298.6,499.86 L299.1,500.70 L299.5,501.49 L300.0,502.25 L300.4,502.96 L300.9,503.63 L301.4,504.26 L301.8,504.86 L302.3,505.43 L302.8,505.95 L303.2,506.39 L303.7,506.80 L304.1,507.16 L304.6,507.44 L305.1,507.71 L305.5,508.00 L306.0,508.45 L306.5,508.89 L306.9,509.29 L307.4,509.53 L307.8,509.76 L308.3,510.00 L308.8,510.36 L309.2,510.71 L309.7,511.04 L310.2,511.29 L310.6,511.53 L311.1,511.78 L311.5,512.16 L312.0,512.52 L312.5,512.85 L312.9,512.92 L313.4,512.99 L313.9,513.06 L314.3,513.23 L314.8,513.39 L315.2,513.56 L315.7,513.83 L316.2,514.11 L316.6,514.36 L317.1,514.49 L317.6,514.62 L318.0,514.75 L318.5,514.91 L318.9,515.07 L319.4,515.21 L319.9,515.18 L320.3,515.15 L320.8,515.16 L321.3,515.47 L321.7,515.77 L322.2,516.05 L322.6,516.16 L323.1,516.27 L323.6,516.39 L324.0,516.61 L324.5,516.84 L325.0,517.04 L325.4,517.08 L325.9,517.12 L326.3,517.16 L326.8,517.15 L327.3,517.15 L327.7,517.17 L328.2,517.34 L328.7,517.52 L329.1,517.69 L329.6,517.85 L330.0,518.02 L330.5,518.16 L331.0,518.09 L331.4,518.03 L331.9,517.98 L332.4,518.02 L332.8,518.07 L333.3,518.12 L333.7,518.18 L334.2,518.24 L334.7,518.29 L335.1,518.35 L335.6,518.41 L336.1,518.48 L336.5,518.60 L337.0,518.72 L337.4,518.81 L337.9,518.68 L338.4,518.54 L338.8,518.46 L339.3,518.71 L339.8,518.97 L340.2,519.18 L340.7,519.18 L341.1,519.19 L341.6,519.21 L342.1,519.36 L342.5,519.51 L343.0,519.65 L343.5,519.66 L343.9,519.68 L344.4,519.71 L344.9,519.81 L345.3,519.91 L345.8,520.00 L346.2,519.95 L346.7,519.90 L347.2,519.86 L347.6,519.95 L348.1,520.03 L348.6,520.11 L349.0,520.19 L349.5,520.27 L349.9,520.35 L350.4,520.44 L350.9,520.54 L351.3,520.61 L351.8,520.51 L352.3,520.40 L352.7,520.31 L353.2,520.33 L353.6,520.35 L354.1,520.38 L354.6,520.41 L355.0,520.45 L355.5,520.51 L356.0,520.65 L356.4,520.83 L356.9,521.08 L357.3,521.34 L357.8,521.68 L358.3,522.06 L358.7,522.42 L359.2,522.64 L359.7,522.65 L360.1,522.49 L360.6,522.19 L361.0,521.83 L361.5,521.44 L362.0,521.13 L362.4,520.94 L362.9,520.95 L363.4,521.01 L363.8,521.08 L364.3,521.07 L364.7,521.06 L365.2,521.08 L365.7,521.19 L366.1,521.31 L366.6,521.39 L367.1,521.20 L367.5,521.01 L368.0,520.87 L368.4,521.05 L368.9,521.23 L369.4,521.38 L369.8,521.34 L370.3,521.29 L370.8,521.26 L371.2,521.27 L371.7,521.29 L372.1,521.37 L372.6,521.60 L373.1,521.92 L373.5,522.29 L374.0,522.54 L374.5,522.69 L374.9,522.66 L375.4,522.45 L375.8,522.14 L376.3,521.84 L376.8,521.68 L377.2,521.61 L377.7,521.59 L378.2,521.59 L378.6,521.61 L379.1,521.64 L379.5,521.70 L380.0,521.81 L380.5,522.00 L380.9,522.29 L381.4,522.62 L381.9,522.89 L382.3,522.96 L382.8,522.84 L383.2,522.58 L383.7,522.26 L384.2,521.98 L384.6,521.79 L385.1,521.69 L385.6,521.65 L386.0,521.63 L386.5,521.59 L386.9,521.56 L387.4,521.54 L387.9,521.61 L388.3,521.67 L388.8,521.73 L389.3,521.76 L389.7,521.80 L390.2,521.82 L390.6,521.74 L391.1,521.67 L391.6,521.61 L392.0,521.64 L392.5,521.66" stroke="#4a10e8"/>
<path d="M91.8,507.05 L92.3,507.09 L92.7,507.14 L93.2,507.13 L93.7,507.05 L94.1,506.96 L94.6,506.93 L95.0,506.98 L95.5,507.02 L96.0,507.01 L96.4,506.92 L96.9,506.82 L97.4,506.81 L97.8,506.90 L98.3,506.99 L98.7,507.06 L99.2,507.08 L99.7,507.10 L100.1,507.08 L100.6,507.01 L101.1,506.94 L101.5,506.89 L102.0,506.89 L102.4,506.89 L102.9,506.90 L103.4,506.94 L103.8,506.98 L104.3,506.99 L104.8,506.97 L105.2,506.96 L105.7,506.92 L106.1,506.86 L106.6,506.79 L107.1,506.75 L107.5,506.74 L108.0,506.73 L108.5,506.75 L108.9,506.81 L109.4,506.87 L109.8,506.89 L110.3,506.88 L110.8,506.86 L111.2,506.88 L111.7,506.95 L112.2,507.03 L112.6,506.98 L113.1,506.77 L113.5,506.56 L114.0,506.48 L114.5,506.58 L114.9,506.68 L115.4,506.70 L115.9,506.60 L116.3,506.50 L116.8,506.46 L117.2,506.50 L117.7,506.54 L118.2,506.53 L118.6,506.43 L119.1,506.34 L119.6,506.28 L120.0,506.30 L120.5,506.31 L120.9,506.35 L121.4,506.41 L121.9,506.47 L122.3,506.48 L122.8,506.40 L123.3,506.33 L123.7,506.33 L124.2,506.47 L124.6,506.60 L125.1,506.62 L125.6,506.48 L126.0,506.35 L126.5,506.33 L127.0,506.48 L127.4,506.62 L127.9,506.67 L128.3,506.55 L128.8,506.44 L129.3,506.35 L129.7,506.30 L130.2,506.25 L130.7,506.23 L131.1,506.27 L131.6,506.31 L132.0,506.34 L132.5,506.36 L133.0,506.39 L133.4,506.40 L133.9,506.42 L134.4,506.43 L134.8,506.42 L135.3,506.39 L135.7,506.35 L136.2,506.28 L136.7,506.19 L137.1,506.10 L137.6,506.04 L138.1,506.03 L138.5,506.03 L139.0,506.05 L139.4,506.10 L139.9,506.15 L140.4,506.19 L140.8,506.23 L141.3,506.27 L141.8,506.24 L142.2,506.11 L142.7,505.98 L143.2,505.94 L143.6,506.05 L144.1,506.15 L144.5,506.18 L145.0,506.10 L145.5,506.03 L145.9,505.98 L146.4,505.97 L146.9,505.95 L147.3,505.90 L147.8,505.79 L148.2,505.68 L148.7,505.62 L149.2,505.62 L149.6,505.62 L150.1,505.61 L150.6,505.57 L151.0,505.53 L151.5,505.50 L151.9,505.48 L152.4,505.46 L152.9,505.46 L153.3,505.49 L153.8,505.51 L154.3,505.49 L154.7,505.39 L155.2,505.29 L155.6,505.20 L156.1,505.12 L156.6,505.03 L157.0,505.01 L157.5,505.06 L158.0,505.11 L158.4,505.11 L158.9,505.04 L159.3,505.00 L159.8,505.05 L160.3,505.31 L160.7,505.66 L161.2,505.81 L161.7,505.53 L162.1,505.08 L162.6,504.78 L163.0,504.67 L163.5,504.63 L164.0,504.61 L164.4,504.56 L164.9,504.51 L165.4,504.49 L165.8,504.48 L166.3,504.48 L166.7,504.43 L167.2,504.32 L167.7,504.21 L168.1,504.17 L168.6,504.25 L169.1,504.33 L169.5,504.36 L170.0,504.31 L170.4,504.27 L170.9,504.23 L171.4,504.20 L171.8,504.17 L172.3,504.11 L172.8,503.99 L173.2,503.87 L173.7,503.81 L174.1,503.83 L174.6,503.85 L175.1,503.84 L175.5,503.78 L176.0,503.72 L176.5,503.63 L176.9,503.49 L177.4,503.35 L177.8,503.22 L178.3,503.13 L178.8,503.04 L179.2,502.96 L179.7,502.92 L180.2,502.88 L180.6,502.89 L181.1,502.98 L181.5,503.06 L182.0,503.02 L182.5,502.80 L182.9,502.58 L183.4,502.39 L183.9,502.25 L184.3,502.11 L184.8,501.96 L185.2,501.80 L185.7,501.64 L186.2,501.45 L186.6,501.22 L187.1,500.98 L187.6,500.70 L188.0,500.37 L188.5,500.04 L188.9,499.80 L189.4,499.70 L189.9,499.60 L190.3,499.45 L190.8,499.24 L191.3,499.02 L191.7,498.76 L192.2,498.43 L192.7,498.09 L193.1,497.80 L193.6,497.57 L194.0,497.34 L194.5,497.10 L195.0,496.82 L195.4,496.53 L195.9,496.25 L196.4,495.98 L196.8,495.70 L197.3,495.37 L197.7,494.97 L198.2,494.55 L198.7,494.13 L199.1,493.70 L199.6,493.26 L200.1,492.87 L200.5,492.57 L201.0,492.25 L201.4,491.86 L201.9,491.36 L202.4,490.86 L202.8,490.28 L203.3,489.62 L203.8,488.95 L204.2,488.33 L204.7,487.80 L205.1,487.26 L205.6,486.70 L206.1,486.12 L206.5,485.49 L207.0,484.81 L207.5,484.06 L207.9,483.30 L208.4,482.49 L208.8,481.63 L209.3,480.76 L209.8,479.95 L210.2,479.23 L210.7,478.53 L211.2,477.81 L211.6,477.08 L212.1,476.40 L212.5,475.76 L213.0,475.12 L213.5,474.50 L213.9,473.98 L214.4,473.60 L214.9,473.23 L215.3,472.81 L215.8,472.32 L216.2,471.83 L216.7,471.41 L217.2,471.08 L217.6,470.77 L218.1,470.42 L218.6,470.02 L219.0,469.66 L219.5,469.52 L219.9,469.43 L220.4,469.40 L220.9,469.50 L221.3,469.77 L221.8,470.04 L222.3,470.21 L222.7,470.19 L223.2,470.09 L223.6,469.89 L224.1,469.61 L224.6,469.23 L225.0,468.73 L225.5,468.12 L226.0,467.43 L226.4,466.65 L226.9,465.80 L227.3,464.91 L227.8,464.07 L228.3,463.28 L228.7,462.49 L229.2,461.70 L229.7,460.70 L230.1,459.27 L230.6,457.39 L231.0,455.08 L231.5,452.53 L232.0,449.85 L232.4,447.15 L232.9,444.42 L233.4,441.72 L233.8,439.11 L234.3,436.53 L234.7,433.77 L235.2,430.77 L235.7,427.67 L236.1,424.65 L236.6,421.82 L237.1,418.91 L237.5,415.63 L238.0,412.03 L238.4,408.46 L238.9,405.14 L239.4,402.17 L239.8,399.29 L240.3,396.27 L240.8,392.90 L241.2,389.18 L241.7,384.95 L242.1,380.38 L242.6,375.69 L243.1,371.19 L243.5,366.80 L244.0,362.36 L244.5,357.72 L244.9,352.62 L245.4,347.30 L245.9,342.20 L246.3,337.25 L246.8,332.45 L247.2,328.35 L247.7,325.38 L248.2,322.97 L248.6,320.68 L249.1,318.25 L249.6,315.91 L250.0,313.57 L250.5,311.34 L250.9,309.33 L251.4,307.38 L251.9,305.45 L252.3,303.62 L252.8,302.35 L253.3,301.94 L253.7,301.68 L254.2,301.49 L254.6,301.35 L255.1,301.45 L255.6,301.61 L256.0,301.67 L256.5,301.88 L257.0,301.91 L257.4,301.61 L257.9,301.38 L258.3,301.89 L258.8,303.57 L259.3,305.50 L259.7,307.21 L260.2,308.47 L260.7,309.86 L261.1,312.02 L261.6,315.21 L262.0,318.72 L262.5,322.09 L263.0,324.85 L263.4,326.51 L263.9,326.80 L264.4,326.59 L264.8,326.17 L265.3,325.63 L265.7,324.86 L266.2,323.92 L266.7,322.98 L267.1,322.20 L267.6,321.66 L268.1,321.46 L268.5,321.59 L269.0,321.82 L269.4,321.52 L269.9,320.59 L270.4,320.13 L270.8,320.66 L271.3,322.32 L271.8,324.61 L272.2,327.72 L272.7,331.25 L273.1,334.93 L273.6,338.90 L274.1,343.41 L274.5,348.23 L275.0,353.11 L275.5,357.76 L275.9,361.97 L276.4,365.88 L276.8,369.52 L277.3,373.09 L277.8,376.75 L278.2,380.54 L278.7,384.25 L279.2,387.81 L279.6,391.18 L280.1,394.51 L280.5,397.90 L281.0,401.40 L281.5,404.85 L281.9,408.13 L282.4,411.18 L282.9,414.21 L283.3,417.20 L283.8,420.16 L284.2,423.07 L284.7,426.05 L285.2,429.14 L285.6,432.17 L286.1,435.03 L286.6,437.69 L287.0,440.29 L287.5,442.91 L287.9,445.56 L288.4,448.16 L288.9,450.63 L289.3,452.95 L289.8,455.16 L290.3,457.28 L290.7,459.30 L291.2,461.24 L291.6,463.17 L292.1,465.10 L292.6,466.96 L293.0,468.75 L293.5,470.43 L294.0,472.01 L294.4,473.43 L294.9,474.68 L295.4,475.77 L295.8,476.91 L296.3,478.05 L296.7,479.15 L297.2,480.23 L297.7,481.28 L298.1,482.29 L298.6,483.22 L299.1,484.05 L299.5,484.85 L300.0,485.62 L300.4,486.40 L300.9,487.13 L301.4,487.85 L301.8,488.57 L302.3,489.25 L302.8,489.84 L303.2,490.31 L303.7,490.73 L304.1,491.06 L304.6,491.30 L305.1,491.53 L305.5,491.86 L306.0,492.36 L306.5,492.84 L306.9,493.28 L307.4,493.67 L307.8,494.04 L308.3,494.33 L308.8,494.50 L309.2,494.66 L309.7,494.94 L310.2,495.39 L310.6,495.84 L311.1,496.25 L311.5,496.62 L312.0,496.99 L312.5,497.28 L312.9,497.48 L313.4,497.67 L313.9,497.86 L314.3,498.05 L314.8,498.23 L315.2,498.38 L315.7,498.47 L316.2,498.55 L316.6,498.66 L317.1,498.79 L317.6,498.92 L318.0,499.14 L318.5,499.49 L318.9,499.83 L319.4,500.01 L319.9,499.98 L320.3,499.94 L320.8,500.03 L321.3,500.31 L321.7,500.58 L322.2,500.77 L322.6,500.81 L323.1,500.86 L323.6,500.93 L324.0,501.05 L324.5,501.16 L325.0,501.27 L325.4,501.39 L325.9,501.50 L326.3,501.62 L326.8,501.76 L327.3,501.89 L327.7,502.00 L328.2,502.09 L328.7,502.18 L329.1,502.29 L329.6,502.46 L330.0,502.63 L330.5,502.72 L331.0,502.73 L331.4,502.73 L331.9,502.74 L332.4,502.78 L332.8,502.81 L333.3,502.86 L333.7,502.94 L334.2,503.02 L334.7,503.05 L335.1,503.03 L335.6,503.00 L336.1,503.05 L336.5,503.21 L337.0,503.37 L337.4,503.49 L337.9,503.58 L338.4,503.67 L338.8,503.73 L339.3,503.74 L339.8,503.75 L340.2,503.82 L340.7,503.96 L341.1,504.11 L341.6,504.25 L342.1,504.40 L342.5,504.55 L343.0,504.68 L343.5,504.80 L343.9,504.91 L344.4,504.92 L344.9,504.77 L345.3,504.62 L345.8,504.57 L346.2,504.67 L346.7,504.76 L347.2,504.83 L347.6,504.86 L348.1,504.90 L348.6,504.96 L349.0,505.08 L349.5,505.20 L349.9,505.27 L350.4,505.27 L350.9,505.28 L351.3,505.26 L351.8,505.22 L352.3,505.17 L352.7,505.19 L353.2,505.32 L353.6,505.45 L354.1,505.58 L354.6,505.70 L355.0,505.83 L355.5,505.92 L356.0,505.96 L356.4,506.06 L356.9,506.20 L357.3,506.40 L357.8,506.68 L358.3,507.10 L358.7,507.62 L359.2,507.99 L359.7,508.14 L360.1,508.04 L360.6,507.81 L361.0,507.48 L361.5,507.12 L362.0,506.86 L362.4,506.67 L362.9,506.53 L363.4,506.45 L363.8,506.36 L364.3,506.25 L364.7,506.14 L365.2,506.11 L365.7,506.17 L366.1,506.23 L366.6,506.29 L367.1,506.36 L367.5,506.43 L368.0,506.49 L368.4,506.54 L368.9,506.59 L369.4,506.60 L369.8,506.55 L370.3,506.50 L370.8,506.48 L371.2,506.51 L371.7,506.56 L372.1,506.66 L372.6,506.83 L373.1,507.09 L373.5,507.40 L374.0,507.68 L374.5,507.85 L374.9,507.87 L375.4,507.74 L375.8,507.50 L376.3,507.19 L376.8,506.83 L377.2,506.57 L377.7,506.52 L378.2,506.75 L378.6,507.00 L379.1,507.11 L379.5,507.02 L380.0,506.99 L380.5,507.12 L380.9,507.45 L381.4,507.82 L381.9,508.07 L382.3,508.08 L382.8,507.90 L383.2,507.63 L383.7,507.39 L384.2,507.20 L384.6,507.05 L385.1,506.93 L385.6,506.85 L386.0,506.82 L386.5,506.81 L386.9,506.81 L387.4,506.81 L387.9,506.84 L388.3,506.86 L388.8,506.86 L389.3,506.82 L389.7,506.77 L390.2,506.81 L390.6,506.95 L391.1,507.08 L391.6,507.11 L392.0,506.98 L392.5,506.84" stroke="#4a10e8"/>
<path d="M91.8,492.23 L92.3,492.22 L92.7,492.19 L93.2,492.14 L93.7,492.08 L94.1,492.08 L94.6,492.20 L95.0,492.31 L95.5,492.38 L96.0,492.31 L96.4,492.25 L96.9,492.22 L97.4,492.26 L97.8,492.30 L98.3,492.35 L98.7,492.40 L99.2,492.45 L99.7,492.47 L100.1,492.42 L100.6,492.37 L101.1,492.31 L101.5,492.26 L102.0,492.20 L102.4,492.17 L102.9,492.22 L103.4,492.27 L103.8,492.29 L104.3,492.24 L104.8,492.19 L105.2,492.13 L105.7,492.04 L106.1,491.96 L106.6,491.90 L107.1,491.93 L107.5,491.95 L108.0,491.96 L108.5,491.95 L108.9,491.94 L109.4,491.93 L109.8,491.94 L110.3,491.94 L110.8,491.95 L111.2,491.97 L111.7,491.99 L112.2,492.03 L112.6,492.12 L113.1,492.20 L113.5,492.21 L114.0,492.04 L114.5,491.86 L114.9,491.78 L115.4,491.92 L115.9,492.05 L116.3,492.11 L116.8,492.00 L117.2,491.89 L117.7,491.82 L118.2,491.83 L118.6,491.84 L119.1,491.84 L119.6,491.82 L120.0,491.79 L120.5,491.77 L120.9,491.76 L121.4,491.74 L121.9,491.74 L122.3,491.77 L122.8,491.79 L123.3,491.78 L123.7,491.70 L124.2,491.63 L124.6,491.60 L125.1,491.72 L125.6,491.84 L126.0,491.88 L126.5,491.75 L127.0,491.62 L127.4,491.57 L127.9,491.71 L128.3,491.84 L128.8,491.88 L129.3,491.71 L129.7,491.53 L130.2,491.44 L130.7,491.52 L131.1,491.61 L131.6,491.65 L132.0,491.59 L132.5,491.53 L133.0,491.46 L133.4,491.39 L133.9,491.31 L134.4,491.32 L134.8,491.51 L135.3,491.71 L135.7,491.82 L136.2,491.70 L136.7,491.58 L137.1,491.47 L137.6,491.41 L138.1,491.34 L138.5,491.29 L139.0,491.25 L139.4,491.22 L139.9,491.18 L140.4,491.14 L140.8,491.09 L141.3,491.07 L141.8,491.09 L142.2,491.12 L142.7,491.13 L143.2,491.12 L143.6,491.10 L144.1,491.09 L144.5,491.09 L145.0,491.09 L145.5,491.08 L145.9,491.05 L146.4,491.02 L146.9,490.99 L147.3,490.98 L147.8,490.96 L148.2,490.93 L148.7,490.85 L149.2,490.77 L149.6,490.72 L150.1,490.74 L150.6,490.77 L151.0,490.76 L151.5,490.71 L151.9,490.65 L152.4,490.58 L152.9,490.50 L153.3,490.41 L153.8,490.35 L154.3,490.35 L154.7,490.34 L155.2,490.36 L155.6,490.41 L156.1,490.47 L156.6,490.50 L157.0,490.45 L157.5,490.40 L158.0,490.35 L158.4,490.27 L158.9,490.19 L159.3,490.17 L159.8,490.31 L160.3,490.60 L160.7,490.99 L161.2,491.20 L161.7,491.05 L162.1,490.71 L162.6,490.38 L163.0,490.21 L163.5,490.09 L164.0,489.96 L164.4,489.84 L164.9,489.76 L165.4,489.76 L165.8,489.77 L166.3,489.77 L166.7,489.74 L167.2,489.71 L167.7,489.66 L168.1,489.56 L168.6,489.46 L169.1,489.40 L169.5,489.47 L170.0,489.53 L170.4,489.50 L170.9,489.27 L171.4,489.03 L171.8,488.89 L172.3,488.97 L172.8,489.05 L173.2,489.10 L173.7,489.06 L174.1,489.03 L174.6,488.95 L175.1,488.76 L175.5,488.56 L176.0,488.46 L176.5,488.58 L176.9,488.69 L177.4,488.74 L177.8,488.64 L178.3,488.53 L178.8,488.43 L179.2,488.33 L179.7,488.23 L180.2,488.14 L180.6,488.10 L181.1,488.06 L181.5,487.97 L182.0,487.82 L182.5,487.66 L182.9,487.49 L183.4,487.29 L183.9,487.09 L184.3,486.91 L184.8,486.77 L185.2,486.62 L185.7,486.46 L186.2,486.29 L186.6,486.11 L187.1,485.90 L187.6,485.64 L188.0,485.37 L188.5,485.09 L188.9,484.81 L189.4,484.53 L189.9,484.26 L190.3,484.04 L190.8,483.81 L191.3,483.64 L191.7,483.59 L192.2,483.54 L192.7,483.36 L193.1,482.88 L193.6,482.41 L194.0,482.00 L194.5,481.74 L195.0,481.49 L195.4,481.22 L195.9,480.92 L196.4,480.61 L196.8,480.29 L197.3,480.00 L197.7,479.70 L198.2,479.35 L198.7,478.90 L199.1,478.44 L199.6,477.97 L200.1,477.49 L200.5,477.00 L201.0,476.53 L201.4,476.09 L201.9,475.65 L202.4,475.12 L202.8,474.43 L203.3,473.73 L203.8,473.06 L204.2,472.51 L204.7,471.94 L205.1,471.37 L205.6,470.76 L206.1,470.09 L206.5,469.38 L207.0,468.62 L207.5,467.83 L207.9,466.96 L208.4,465.95 L208.8,464.92 L209.3,463.94 L209.8,463.09 L210.2,462.27 L210.7,461.44 L211.2,460.61 L211.6,459.82 L212.1,459.11 L212.5,458.55 L213.0,458.04 L213.5,457.47 L213.9,456.74 L214.4,456.02 L214.9,455.42 L215.3,455.04 L215.8,454.68 L216.2,454.24 L216.7,453.61 L217.2,453.00 L217.6,452.50 L218.1,452.27 L218.6,452.06 L219.0,451.77 L219.5,451.54 L219.9,451.38 L220.4,451.33 L220.9,451.43 L221.3,451.57 L221.8,451.77 L222.3,452.04 L222.7,452.27 L223.2,452.32 L223.6,452.07 L224.1,451.69 L224.6,451.25 L225.0,450.79 L225.5,450.22 L226.0,449.55 L226.4,448.80 L226.9,448.01 L227.3,447.18 L227.8,446.30 L228.3,445.42 L228.7,444.55 L229.2,443.71 L229.7,442.65 L230.1,441.15 L230.6,439.22 L231.0,437.01 L231.5,434.60 L232.0,432.10 L232.4,429.50 L232.9,426.88 L233.4,424.32 L233.8,421.88 L234.3,419.47 L234.7,417.01 L235.2,414.47 L235.7,411.80 L236.1,408.98 L236.6,406.08 L237.1,403.04 L237.5,399.68 L238.0,396.20 L238.4,392.84 L238.9,389.92 L239.4,387.23 L239.8,384.56 L240.3,381.69 L240.8,378.63 L241.2,375.28 L241.7,371.45 L242.1,367.18 L242.6,362.73 L243.1,358.32 L243.5,354.01 L244.0,349.66 L244.5,345.19 L244.9,340.29 L245.4,335.18 L245.9,330.42 L246.3,325.99 L246.8,321.74 L247.2,317.95 L247.7,314.79 L248.2,312.08 L248.6,309.55 L249.1,307.21 L249.6,305.05 L250.0,303.07 L250.5,301.10 L250.9,299.19 L251.4,297.32 L251.9,295.93 L252.3,294.87 L252.8,294.41 L253.3,294.06 L253.7,293.60 L254.2,292.70 L254.6,291.99 L255.1,291.55 L255.6,291.40 L256.0,291.41 L256.5,291.80 L257.0,292.90 L257.4,294.06 L257.9,294.94 L258.3,295.04 L258.8,295.30 L259.3,296.04 L259.7,297.47 L260.2,299.06 L260.7,300.86 L261.1,303.42 L261.6,306.71 L262.0,310.19 L262.5,313.33 L263.0,315.90 L263.4,317.41 L263.9,317.56 L264.4,317.21 L264.8,316.63 L265.3,315.92 L265.7,315.14 L266.2,314.14 L266.7,312.99 L267.1,311.92 L267.6,311.17 L268.1,310.83 L268.5,310.54 L269.0,310.25 L269.4,309.93 L269.9,309.95 L270.4,310.41 L270.8,311.16 L271.3,312.09 L271.8,313.91 L272.2,317.22 L272.7,320.99 L273.1,324.80 L273.6,328.72 L274.1,333.18 L274.5,337.78 L275.0,342.16 L275.5,346.33 L275.9,350.16 L276.4,353.95 L276.8,357.65 L277.3,361.20 L277.8,364.51 L278.2,367.76 L278.7,371.01 L279.2,374.31 L279.6,377.54 L280.1,380.68 L280.5,383.67 L281.0,386.64 L281.5,389.72 L281.9,393.06 L282.4,396.35 L282.9,399.49 L283.3,402.34 L283.8,405.16 L284.2,407.96 L284.7,410.79 L285.2,413.56 L285.6,416.28 L286.1,418.93 L286.6,421.53 L287.0,424.07 L287.5,426.62 L287.9,429.12 L288.4,431.51 L288.9,433.70 L289.3,435.81 L289.8,437.91 L290.3,440.12 L290.7,442.20 L291.2,444.16 L291.6,445.98 L292.1,447.76 L292.6,449.48 L293.0,451.12 L293.5,452.68 L294.0,454.17 L294.4,455.60 L294.9,456.90 L295.4,458.04 L295.8,459.22 L296.3,460.35 L296.7,461.53 L297.2,462.85 L297.7,464.13 L298.1,465.30 L298.6,466.27 L299.1,467.18 L299.5,468.08 L300.0,468.99 L300.4,469.85 L300.9,470.66 L301.4,471.39 L301.8,472.07 L302.3,472.69 L302.8,473.25 L303.2,473.75 L303.7,474.26 L304.1,474.81 L304.6,475.35 L305.1,475.87 L305.5,476.38 L306.0,476.86 L306.5,477.28 L306.9,477.55 L307.4,477.81 L307.8,478.11 L308.3,478.53 L308.8,478.93 L309.2,479.28 L309.7,479.50 L310.2,479.71 L310.6,479.95 L311.1,480.26 L311.5,480.57 L312.0,480.82 L312.5,480.98 L312.9,481.12 L313.4,481.32 L313.9,481.65 L314.3,481.97 L314.8,482.28 L315.2,482.58 L315.7,482.87 L316.2,483.11 L316.6,483.24 L317.1,483.36 L317.6,483.49 L318.0,483.63 L318.5,483.77 L318.9,483.94 L319.4,484.16 L319.9,484.39 L320.3,484.60 L320.8,484.76 L321.3,484.93 L321.7,485.09 L322.2,485.25 L322.6,485.41 L323.1,485.57 L323.6,485.72 L324.0,485.86 L324.5,486.01 L325.0,486.17 L325.4,486.33 L325.9,486.44 L326.3,486.44 L326.8,486.43 L327.3,486.47 L327.7,486.63 L328.2,486.79 L328.7,486.96 L329.1,487.17 L329.6,487.37 L330.0,487.50 L330.5,487.45 L331.0,487.40 L331.4,487.41 L331.9,487.55 L332.4,487.70 L332.8,487.82 L333.3,487.89 L333.7,487.96 L334.2,488.03 L334.7,488.11 L335.1,488.20 L335.6,488.26 L336.1,488.28 L336.5,488.30 L337.0,488.39 L337.4,488.66 L337.9,488.93 L338.4,489.10 L338.8,489.05 L339.3,488.99 L339.8,488.96 L340.2,489.00 L340.7,489.04 L341.1,489.09 L341.6,489.20 L342.1,489.31 L342.5,489.43 L343.0,489.58 L343.5,489.73 L343.9,489.85 L344.4,489.89 L344.9,489.93 L345.3,489.94 L345.8,489.92 L346.2,489.89 L346.7,489.87 L347.2,489.85 L347.6,489.84 L348.1,489.90 L348.6,490.15 L349.0,490.39 L349.5,490.56 L349.9,490.53 L350.4,490.50 L350.9,490.48 L351.3,490.47 L351.8,490.47 L352.3,490.48 L352.7,490.53 L353.2,490.57 L353.6,490.61 L354.1,490.64 L354.6,490.66 L355.0,490.69 L355.5,490.71 L356.0,490.76 L356.4,490.88 L356.9,491.11 L357.3,491.44 L357.8,491.89 L358.3,492.44 L358.7,492.95 L359.2,493.25 L359.7,493.21 L360.1,492.96 L360.6,492.61 L361.0,492.28 L361.5,491.99 L362.0,491.76 L362.4,491.54 L362.9,491.40 L363.4,491.30 L363.8,491.21 L364.3,491.14 L364.7,491.10 L365.2,491.15 L365.7,491.20 L366.1,491.22 L366.6,491.17 L367.1,491.11 L367.5,491.10 L368.0,491.17 L368.4,491.25 L368.9,491.31 L369.4,491.34 L369.8,491.38 L370.3,491.41 L370.8,491.44 L371.2,491.47 L371.7,491.55 L372.1,491.73 L372.6,491.98 L373.1,492.28 L373.5,492.55 L374.0,492.82 L374.5,492.98 L374.9,492.95 L375.4,492.75 L375.8,492.45 L376.3,492.17 L376.8,491.96 L377.2,491.83 L377.7,491.79 L378.2,491.79 L378.6,491.83 L379.1,491.95 L379.5,492.09 L380.0,492.27 L380.5,492.46 L380.9,492.74 L381.4,493.05 L381.9,493.31 L382.3,493.42 L382.8,493.29 L383.2,492.88 L383.7,492.42 L384.2,492.09 L384.6,492.03 L385.1,492.06 L385.6,492.08 L386.0,492.02 L386.5,491.97 L386.9,491.95 L387.4,492.01 L387.9,492.06 L388.3,492.10 L388.8,492.12 L389.3,492.13 L389.7,492.14 L390.2,492.14 L390.6,492.15 L391.1,492.16 L391.6,492.17 L392.0,492.18 L392.5,492.17" stroke="#4a10e8"/>
<path d="M91.8,458.02 L92.3,458.15 L92.7,458.27 L93.2,458.13 L93.7,457.97 L94.1,457.81 L94.6,457.93 L95.0,458.07 L95.5,458.21 L96.0,458.06 L96.4,457.88 L96.9,457.69 L97.4,457.69 L97.8,457.70 L98.3,457.71 L98.7,457.69 L99.2,457.67 L99.7,457.65 L100.1,457.64 L100.6,457.63 L101.1,457.62 L101.5,457.64 L102.0,457.66 L102.4,457.68 L102.9,457.72 L103.4,457.75 L103.8,457.79 L104.3,457.77 L104.8,457.75 L105.2,457.72 L105.7,457.61 L106.1,457.50 L106.6,457.38 L107.1,457.47 L107.5,457.58 L108.0,457.69 L108.5,457.67 L108.9,457.63 L109.4,457.60 L109.8,457.61 L110.3,457.63 L110.8,457.64 L111.2,457.62 L111.7,457.59 L112.2,457.57 L112.6,457.54 L113.1,457.52 L113.5,457.49 L114.0,457.45 L114.5,457.40 L114.9,457.35 L115.4,457.37 L115.9,457.38 L116.3,457.40 L116.8,457.39 L117.2,457.37 L117.7,457.36 L118.2,457.35 L118.6,457.35 L119.1,457.34 L119.6,457.29 L120.0,457.23 L120.5,457.16 L120.9,457.21 L121.4,457.27 L121.9,457.33 L122.3,457.24 L122.8,457.14 L123.3,457.04 L123.7,456.94 L124.2,456.84 L124.6,456.75 L125.1,456.83 L125.6,456.92 L126.0,457.02 L126.5,456.97 L127.0,456.90 L127.4,456.84 L127.9,456.66 L128.3,456.47 L128.8,456.29 L129.3,456.45 L129.7,456.65 L130.2,456.84 L130.7,456.87 L131.1,456.88 L131.6,456.90 L132.0,456.81 L132.5,456.72 L133.0,456.63 L133.4,456.48 L133.9,456.32 L134.4,456.17 L134.8,456.12 L135.3,456.09 L135.7,456.05 L136.2,456.19 L136.7,456.36 L137.1,456.52 L137.6,456.41 L138.1,456.28 L138.5,456.15 L139.0,456.15 L139.4,456.15 L139.9,456.16 L140.4,456.17 L140.8,456.17 L141.3,456.18 L141.8,456.23 L142.2,456.28 L142.7,456.33 L143.2,456.15 L143.6,455.95 L144.1,455.75 L144.5,455.81 L145.0,455.89 L145.5,455.97 L145.9,455.89 L146.4,455.79 L146.9,455.69 L147.3,455.67 L147.8,455.65 L148.2,455.63 L148.7,455.50 L149.2,455.36 L149.6,455.23 L150.1,455.22 L150.6,455.22 L151.0,455.22 L151.5,455.31 L151.9,455.40 L152.4,455.49 L152.9,455.42 L153.3,455.32 L153.8,455.22 L154.3,455.11 L154.7,454.98 L155.2,454.86 L155.6,454.93 L156.1,455.02 L156.6,455.11 L157.0,455.02 L157.5,454.92 L158.0,454.81 L158.4,454.72 L158.9,454.64 L159.3,454.57 L159.8,454.71 L160.3,455.01 L160.7,455.41 L161.2,455.52 L161.7,455.26 L162.1,454.84 L162.6,454.56 L163.0,454.43 L163.5,454.38 L164.0,454.21 L164.4,454.03 L164.9,453.84 L165.4,453.81 L165.8,453.78 L166.3,453.75 L166.7,453.59 L167.2,453.42 L167.7,453.24 L168.1,453.18 L168.6,453.13 L169.1,453.07 L169.5,452.94 L170.0,452.80 L170.4,452.66 L170.9,452.58 L171.4,452.49 L171.8,452.41 L172.3,452.24 L172.8,452.06 L173.2,451.88 L173.7,451.79 L174.1,451.70 L174.6,451.61 L175.1,451.52 L175.5,451.42 L176.0,451.33 L176.5,451.07 L176.9,450.80 L177.4,450.53 L177.8,450.37 L178.3,450.23 L178.8,450.09 L179.2,449.87 L179.7,449.64 L180.2,449.40 L180.6,449.36 L181.1,449.33 L181.5,449.30 L182.0,449.16 L182.5,449.00 L182.9,448.84 L183.4,448.70 L183.9,448.55 L184.3,448.40 L184.8,448.32 L185.2,448.25 L185.7,448.16 L186.2,447.81 L186.6,447.43 L187.1,447.04 L187.6,446.68 L188.0,446.31 L188.5,445.94 L188.9,445.71 L189.4,445.49 L189.9,445.26 L190.3,445.03 L190.8,444.80 L191.3,444.55 L191.7,444.03 L192.2,443.48 L192.7,442.92 L193.1,442.58 L193.6,442.25 L194.0,441.91 L194.5,441.49 L195.0,441.05 L195.4,440.60 L195.9,440.15 L196.4,439.70 L196.8,439.24 L197.3,438.76 L197.7,438.26 L198.2,437.75 L198.7,437.22 L199.1,436.68 L199.6,436.14 L200.1,435.73 L200.5,435.32 L201.0,434.86 L201.4,434.16 L201.9,433.42 L202.4,432.65 L202.8,431.95 L203.3,431.24 L203.8,430.53 L204.2,429.71 L204.7,428.88 L205.1,428.05 L205.6,427.44 L206.1,426.87 L206.5,426.30 L207.0,425.47 L207.5,424.62 L207.9,423.76 L208.4,423.08 L208.8,422.41 L209.3,421.72 L209.8,420.88 L210.2,419.98 L210.7,419.01 L211.2,418.14 L211.6,417.21 L212.1,416.19 L212.5,414.90 L213.0,413.56 L213.5,412.23 L213.9,411.06 L214.4,409.99 L214.9,409.07 L215.3,408.41 L215.8,407.94 L216.2,407.67 L216.7,407.39 L217.2,407.22 L217.6,407.12 L218.1,407.13 L218.6,407.13 L219.0,407.06 L219.5,406.94 L219.9,406.75 L220.4,406.48 L220.9,406.08 L221.3,405.59 L221.8,405.00 L222.3,404.37 L222.7,403.64 L223.2,402.83 L223.6,401.86 L224.1,400.83 L224.6,399.69 L225.0,398.49 L225.5,397.29 L226.0,396.15 L226.4,395.17 L226.9,394.21 L227.3,393.21 L227.8,392.13 L228.3,390.92 L228.7,389.56 L229.2,387.89 L229.7,386.17 L230.1,384.44 L230.6,383.00 L231.0,381.54 L231.5,379.96 L232.0,378.06 L232.4,375.89 L232.9,373.43 L233.4,370.67 L233.8,367.44 L234.3,363.37 L234.7,359.00 L235.2,354.86 L235.7,350.80 L236.1,346.64 L236.6,342.45 L237.1,338.26 L237.5,334.26 L238.0,330.29 L238.4,326.34 L238.9,322.31 L239.4,318.22 L239.8,313.90 L240.3,309.34 L240.8,304.59 L241.2,300.20 L241.7,296.13 L242.1,292.26 L242.6,288.55 L243.1,284.75 L243.5,281.00 L244.0,277.28 L244.5,273.37 L244.9,269.39 L245.4,265.52 L245.9,262.46 L246.3,259.14 L246.8,254.98 L247.2,249.86 L247.7,245.29 L248.2,241.08 L248.6,238.20 L249.1,235.79 L249.6,233.72 L250.0,231.57 L250.5,229.55 L250.9,227.85 L251.4,226.90 L251.9,226.08 L252.3,225.54 L252.8,225.06 L253.3,225.02 L253.7,225.17 L254.2,225.05 L254.6,224.90 L255.1,224.65 L255.6,225.01 L256.0,225.46 L256.5,225.98 L257.0,226.97 L257.4,228.19 L257.9,229.68 L258.3,230.90 L258.8,232.40 L259.3,234.22 L259.7,235.88 L260.2,237.77 L260.7,239.91 L261.1,243.23 L261.6,246.66 L262.0,249.95 L262.5,252.03 L263.0,253.61 L263.4,254.63 L263.9,255.90 L264.4,256.59 L264.8,256.68 L265.3,255.31 L265.7,253.43 L266.2,251.24 L266.7,249.05 L267.1,246.82 L267.6,244.65 L268.1,243.03 L268.5,241.65 L269.0,240.53 L269.4,239.67 L269.9,239.10 L270.4,238.81 L270.8,238.65 L271.3,238.76 L271.8,239.19 L272.2,239.99 L272.7,241.09 L273.1,242.96 L273.6,245.54 L274.1,248.37 L274.5,251.61 L275.0,255.02 L275.5,258.84 L275.9,263.41 L276.4,268.32 L276.8,272.71 L277.3,276.85 L277.8,280.93 L278.2,284.82 L278.7,288.51 L279.2,292.00 L279.6,295.11 L280.1,298.37 L280.5,302.06 L281.0,306.68 L281.5,311.65 L281.9,316.43 L282.4,321.30 L282.9,325.96 L283.3,330.12 L283.8,333.76 L284.2,337.17 L284.7,340.76 L285.2,344.67 L285.6,348.84 L286.1,352.85 L286.6,356.82 L287.0,360.81 L287.5,364.86 L287.9,368.81 L288.4,372.54 L288.9,376.40 L289.3,380.15 L289.8,383.75 L290.3,386.91 L290.7,389.92 L291.2,392.88 L291.6,395.81 L292.1,398.68 L292.6,401.41 L293.0,404.16 L293.5,406.68 L294.0,408.90 L294.4,410.83 L294.9,412.64 L295.4,414.35 L295.8,415.92 L296.3,417.41 L296.7,418.80 L297.2,420.12 L297.7,421.37 L298.1,422.54 L298.6,423.72 L299.1,424.87 L299.5,425.97 L300.0,426.91 L300.4,427.79 L300.9,428.64 L301.4,429.67 L301.8,430.69 L302.3,431.68 L302.8,432.34 L303.2,432.94 L303.7,433.52 L304.1,434.22 L304.6,434.92 L305.1,435.61 L305.5,436.30 L306.0,436.97 L306.5,437.62 L306.9,438.20 L307.4,438.76 L307.8,439.29 L308.3,439.85 L308.8,440.38 L309.2,440.90 L309.7,441.30 L310.2,441.66 L310.6,442.00 L311.1,442.47 L311.5,442.93 L312.0,443.37 L312.5,443.68 L312.9,443.96 L313.4,444.23 L313.9,444.58 L314.3,444.93 L314.8,445.27 L315.2,445.51 L315.7,445.74 L316.2,445.97 L316.6,446.15 L317.1,446.33 L317.6,446.50 L318.0,446.79 L318.5,447.09 L318.9,447.39 L319.4,447.58 L319.9,447.76 L320.3,447.93 L320.8,448.16 L321.3,448.39 L321.7,448.62 L322.2,448.77 L322.6,448.92 L323.1,449.05 L323.6,449.19 L324.0,449.32 L324.5,449.44 L325.0,449.55 L325.4,449.64 L325.9,449.73 L326.3,450.01 L326.8,450.30 L327.3,450.59 L327.7,450.63 L328.2,450.64 L328.7,450.65 L329.1,450.69 L329.6,450.74 L330.0,450.78 L330.5,450.85 L331.0,450.92 L331.4,450.98 L331.9,451.07 L332.4,451.16 L332.8,451.25 L333.3,451.49 L333.7,451.74 L334.2,451.99 L334.7,452.04 L335.1,452.08 L335.6,452.11 L336.1,452.13 L336.5,452.15 L337.0,452.18 L337.4,452.24 L337.9,452.30 L338.4,452.36 L338.8,452.47 L339.3,452.60 L339.8,452.71 L340.2,452.80 L340.7,452.88 L341.1,452.96 L341.6,453.04 L342.1,453.12 L342.5,453.20 L343.0,453.34 L343.5,453.47 L343.9,453.61 L344.4,453.64 L344.9,453.66 L345.3,453.68 L345.8,453.72 L346.2,453.75 L346.7,453.79 L347.2,453.91 L347.6,454.05 L348.1,454.19 L348.6,454.18 L349.0,454.16 L349.5,454.14 L349.9,454.42 L350.4,454.71 L350.9,455.01 L351.3,454.96 L351.8,454.87 L352.3,454.79 L352.7,454.73 L353.2,454.68 L353.6,454.62 L354.1,454.71 L354.6,454.82 L355.0,454.93 L355.5,454.98 L356.0,455.05 L356.4,455.17 L356.9,455.47 L357.3,455.86 L357.8,456.34 L358.3,456.86 L358.7,457.33 L359.2,457.66 L359.7,457.68 L360.1,457.48 L360.6,457.14 L361.0,456.68 L361.5,456.25 L362.0,455.90 L362.4,455.94 L362.9,456.07 L363.4,456.26 L363.8,456.25 L364.3,456.24 L364.7,456.23 L365.2,456.30 L365.7,456.39 L366.1,456.48 L366.6,456.46 L367.1,456.44 L367.5,456.41 L368.0,456.44 L368.4,456.48 L368.9,456.51 L369.4,456.50 L369.8,456.48 L370.3,456.47 L370.8,456.58 L371.2,456.71 L371.7,456.86 L372.1,456.84 L372.6,456.86 L373.1,456.97 L373.5,457.34 L374.0,457.72 L374.5,458.00 L374.9,458.10 L375.4,458.02 L375.8,457.84 L376.3,457.62 L376.8,457.46 L377.2,457.39 L377.7,457.39 L378.2,457.42 L378.6,457.48 L379.1,457.44 L379.5,457.43 L380.0,457.46 L380.5,457.56 L380.9,457.74 L381.4,457.96 L381.9,458.33 L382.3,458.58 L382.8,458.63 L383.2,458.47 L383.7,458.25 L384.2,458.07 L384.6,457.87 L385.1,457.74 L385.6,457.67 L386.0,457.69 L386.5,457.73 L386.9,457.78 L387.4,457.82 L387.9,457.87 L388.3,457.91 L388.8,457.98 L389.3,458.05 L389.7,458.13 L390.2,458.05 L390.6,457.96 L391.1,457.87 L391.6,457.79 L392.0,457.72 L392.5,457.64" stroke="#ff1a1a"/>
<path d="M91.8,442.86 L92.3,442.83 L92.7,442.83 L93.2,442.84 L93.7,442.85 L94.1,442.90 L94.6,443.00 L95.0,443.09 L95.5,443.13 L96.0,443.10 L96.4,443.07 L96.9,443.06 L97.4,443.07 L97.8,443.07 L98.3,443.02 L98.7,442.92 L99.2,442.82 L99.7,442.78 L100.1,442.80 L100.6,442.82 L101.1,442.84 L101.5,442.88 L102.0,442.92 L102.4,442.91 L102.9,442.86 L103.4,442.82 L103.8,442.77 L104.3,442.72 L104.8,442.67 L105.2,442.67 L105.7,442.72 L106.1,442.76 L106.6,442.82 L107.1,442.89 L107.5,442.96 L108.0,442.96 L108.5,442.89 L108.9,442.82 L109.4,442.79 L109.8,442.80 L110.3,442.80 L110.8,442.84 L111.2,442.89 L111.7,442.94 L112.2,442.97 L112.6,442.99 L113.1,443.00 L113.5,442.93 L114.0,442.79 L114.5,442.65 L114.9,442.61 L115.4,442.67 L115.9,442.72 L116.3,442.69 L116.8,442.59 L117.2,442.49 L117.7,442.47 L118.2,442.52 L118.6,442.57 L119.1,442.54 L119.6,442.42 L120.0,442.31 L120.5,442.24 L120.9,442.21 L121.4,442.19 L121.9,442.18 L122.3,442.18 L122.8,442.19 L123.3,442.23 L123.7,442.30 L124.2,442.36 L124.6,442.41 L125.1,442.43 L125.6,442.46 L126.0,442.33 L126.5,442.07 L127.0,441.80 L127.4,441.73 L127.9,441.83 L128.3,441.94 L128.8,441.91 L129.3,441.77 L129.7,441.62 L130.2,441.61 L130.7,441.72 L131.1,441.83 L131.6,441.90 L132.0,441.93 L132.5,441.96 L133.0,441.92 L133.4,441.83 L133.9,441.74 L134.4,441.72 L134.8,441.76 L135.3,441.81 L135.7,441.78 L136.2,441.68 L136.7,441.58 L137.1,441.47 L137.6,441.35 L138.1,441.24 L138.5,441.19 L139.0,441.21 L139.4,441.22 L139.9,441.15 L140.4,441.00 L140.8,440.84 L141.3,440.84 L141.8,440.97 L142.2,441.10 L142.7,441.14 L143.2,441.12 L143.6,441.09 L144.1,441.10 L144.5,441.15 L145.0,441.19 L145.5,441.19 L145.9,441.17 L146.4,441.14 L146.9,441.07 L147.3,440.97 L147.8,440.87 L148.2,440.84 L148.7,440.87 L149.2,440.90 L149.6,440.88 L150.1,440.81 L150.6,440.74 L151.0,440.69 L151.5,440.65 L151.9,440.61 L152.4,440.59 L152.9,440.60 L153.3,440.60 L153.8,440.48 L154.3,440.23 L154.7,439.98 L155.2,439.97 L155.6,440.17 L156.1,440.36 L156.6,440.37 L157.0,440.20 L157.5,440.03 L158.0,439.89 L158.4,439.79 L158.9,439.70 L159.3,439.64 L159.8,439.67 L160.3,439.86 L160.7,440.19 L161.2,440.41 L161.7,440.27 L162.1,439.92 L162.6,439.66 L163.0,439.54 L163.5,439.37 L164.0,439.10 L164.4,438.83 L164.9,438.67 L165.4,438.62 L165.8,438.56 L166.3,438.54 L166.7,438.58 L167.2,438.61 L167.7,438.58 L168.1,438.49 L168.6,438.39 L169.1,438.29 L169.5,438.18 L170.0,438.06 L170.4,437.98 L170.9,437.94 L171.4,437.89 L171.8,437.76 L172.3,437.57 L172.8,437.38 L173.2,437.18 L173.7,436.98 L174.1,436.78 L174.6,436.62 L175.1,436.50 L175.5,436.38 L176.0,436.29 L176.5,436.25 L176.9,436.20 L177.4,436.04 L177.8,435.79 L178.3,435.54 L178.8,435.39 L179.2,435.33 L179.7,435.26 L180.2,435.17 L180.6,435.05 L181.1,434.93 L181.5,434.72 L182.0,434.43 L182.5,434.13 L182.9,433.88 L183.4,433.68 L183.9,433.47 L184.3,433.23 L184.8,432.98 L185.2,432.71 L185.7,432.54 L186.2,432.45 L186.6,432.35 L187.1,432.11 L187.6,431.75 L188.0,431.38 L188.5,431.07 L188.9,430.81 L189.4,430.54 L189.9,430.26 L190.3,429.95 L190.8,429.64 L191.3,429.32 L191.7,429.01 L192.2,428.69 L192.7,428.32 L193.1,427.93 L193.6,427.52 L194.0,427.09 L194.5,426.63 L195.0,426.16 L195.4,425.71 L195.9,425.28 L196.4,424.84 L196.8,424.43 L197.3,424.05 L197.7,423.67 L198.2,423.21 L198.7,422.68 L199.1,422.15 L199.6,421.61 L200.1,421.07 L200.5,420.50 L201.0,419.87 L201.4,419.19 L201.9,418.48 L202.4,417.79 L202.8,417.12 L203.3,416.44 L203.8,415.75 L204.2,415.06 L204.7,414.36 L205.1,413.67 L205.6,412.97 L206.1,412.30 L206.5,411.57 L207.0,410.78 L207.5,409.98 L207.9,409.31 L208.4,408.73 L208.8,408.15 L209.3,407.49 L209.8,406.75 L210.2,405.98 L210.7,405.13 L211.2,404.20 L211.6,403.19 L212.1,402.12 L212.5,400.98 L213.0,399.82 L213.5,398.71 L213.9,397.68 L214.4,396.74 L214.9,395.92 L215.3,395.25 L215.8,394.74 L216.2,394.36 L216.7,394.09 L217.2,393.93 L217.6,393.79 L218.1,393.66 L218.6,393.50 L219.0,393.33 L219.5,393.11 L219.9,392.82 L220.4,392.47 L220.9,392.06 L221.3,391.56 L221.8,391.01 L222.3,390.41 L222.7,389.70 L223.2,388.85 L223.6,387.87 L224.1,386.83 L224.6,385.67 L225.0,384.44 L225.5,383.21 L226.0,382.13 L226.4,381.21 L226.9,380.29 L227.3,379.20 L227.8,377.90 L228.3,376.47 L228.7,375.01 L229.2,373.58 L229.7,372.10 L230.1,370.56 L230.6,368.98 L231.0,367.36 L231.5,365.71 L232.0,363.94 L232.4,361.91 L232.9,359.43 L233.4,356.46 L233.8,352.99 L234.3,348.82 L234.7,344.46 L235.2,340.35 L235.7,336.25 L236.1,332.09 L236.6,327.93 L237.1,323.77 L237.5,319.60 L238.0,315.43 L238.4,311.25 L238.9,307.10 L239.4,302.90 L239.8,298.64 L240.3,294.06 L240.8,289.26 L241.2,284.65 L241.7,280.35 L242.1,276.24 L242.6,272.39 L243.1,268.76 L243.5,265.22 L244.0,261.87 L244.5,258.65 L244.9,255.44 L245.4,252.18 L245.9,248.78 L246.3,245.04 L246.8,240.49 L247.2,235.78 L247.7,231.74 L248.2,227.88 L248.6,224.37 L249.1,221.20 L249.6,218.47 L250.0,216.16 L250.5,214.00 L250.9,212.19 L251.4,210.83 L251.9,209.59 L252.3,208.57 L252.8,208.06 L253.3,208.04 L253.7,208.43 L254.2,209.13 L254.6,209.81 L255.1,210.52 L255.6,211.27 L256.0,212.03 L256.5,212.11 L257.0,211.62 L257.4,211.33 L257.9,212.08 L258.3,213.83 L258.8,215.89 L259.3,218.14 L259.7,220.55 L260.2,223.24 L260.7,226.21 L261.1,229.34 L261.6,232.50 L262.0,235.01 L262.5,236.78 L263.0,238.13 L263.4,239.61 L263.9,241.06 L264.4,241.88 L264.8,241.34 L265.3,239.59 L265.7,237.42 L266.2,235.52 L266.7,233.94 L267.1,232.31 L267.6,230.89 L268.1,229.74 L268.5,228.79 L269.0,227.59 L269.4,226.23 L269.9,225.15 L270.4,224.19 L270.8,223.37 L271.3,222.82 L271.8,223.49 L272.2,225.27 L272.7,227.33 L273.1,229.41 L273.6,231.64 L274.1,234.13 L274.5,237.44 L275.0,241.47 L275.5,245.88 L275.9,250.55 L276.4,254.96 L276.8,258.89 L277.3,262.66 L277.8,266.33 L278.2,269.84 L278.7,273.48 L279.2,277.06 L279.6,280.23 L280.1,283.41 L280.5,287.24 L281.0,292.01 L281.5,297.13 L281.9,302.06 L282.4,307.06 L282.9,311.84 L283.3,315.99 L283.8,319.61 L284.2,323.01 L284.7,326.49 L285.2,330.30 L285.6,334.33 L286.1,338.42 L286.6,342.48 L287.0,346.58 L287.5,350.75 L287.9,354.82 L288.4,358.79 L288.9,362.65 L289.3,366.35 L289.8,369.80 L290.3,373.01 L290.7,376.08 L291.2,378.97 L291.6,381.72 L292.1,384.39 L292.6,387.05 L293.0,389.63 L293.5,391.95 L294.0,394.03 L294.4,396.01 L294.9,397.87 L295.4,399.52 L295.8,400.97 L296.3,402.33 L296.7,403.62 L297.2,404.86 L297.7,406.03 L298.1,407.13 L298.6,408.20 L299.1,409.23 L299.5,410.26 L300.0,411.28 L300.4,412.27 L300.9,413.20 L301.4,414.07 L301.8,414.92 L302.3,415.76 L302.8,416.59 L303.2,417.39 L303.7,418.12 L304.1,418.78 L304.6,419.42 L305.1,420.12 L305.5,420.84 L306.0,421.56 L306.5,422.24 L306.9,422.88 L307.4,423.50 L307.8,424.10 L308.3,424.67 L308.8,425.22 L309.2,425.75 L309.7,426.26 L310.2,426.74 L310.6,427.14 L311.1,427.45 L311.5,427.74 L312.0,428.07 L312.5,428.43 L312.9,428.78 L313.4,429.10 L313.9,429.40 L314.3,429.68 L314.8,429.98 L315.2,430.27 L315.7,430.56 L316.2,430.80 L316.6,430.98 L317.1,431.16 L317.6,431.38 L318.0,431.64 L318.5,431.90 L318.9,432.19 L319.4,432.50 L319.9,432.81 L320.3,433.11 L320.8,433.41 L321.3,433.70 L321.7,433.88 L322.2,433.97 L322.6,434.05 L323.1,434.17 L323.6,434.32 L324.0,434.47 L324.5,434.56 L325.0,434.58 L325.4,434.60 L325.9,434.70 L326.3,434.87 L326.8,435.04 L327.3,435.20 L327.7,435.36 L328.2,435.51 L328.7,435.59 L329.1,435.61 L329.6,435.62 L330.0,435.77 L330.5,436.05 L331.0,436.32 L331.4,436.48 L331.9,436.53 L332.4,436.58 L332.8,436.63 L333.3,436.69 L333.7,436.74 L334.2,436.83 L334.7,436.97 L335.1,437.11 L335.6,437.22 L336.1,437.32 L336.5,437.41 L337.0,437.48 L337.4,437.53 L337.9,437.58 L338.4,437.67 L338.8,437.78 L339.3,437.90 L339.8,437.96 L340.2,437.96 L340.7,437.97 L341.1,438.11 L341.6,438.37 L342.1,438.63 L342.5,438.72 L343.0,438.66 L343.5,438.60 L343.9,438.57 L344.4,438.57 L344.9,438.57 L345.3,438.68 L345.8,438.89 L346.2,439.10 L346.7,439.24 L347.2,439.33 L347.6,439.41 L348.1,439.45 L348.6,439.45 L349.0,439.46 L349.5,439.50 L349.9,439.59 L350.4,439.67 L350.9,439.73 L351.3,439.77 L351.8,439.80 L352.3,439.88 L352.7,440.00 L353.2,440.11 L353.6,440.18 L354.1,440.19 L354.6,440.21 L355.0,440.23 L355.5,440.29 L356.0,440.36 L356.4,440.60 L356.9,441.00 L357.3,441.50 L357.8,441.92 L358.3,442.23 L358.7,442.49 L359.2,442.66 L359.7,442.68 L360.1,442.49 L360.6,442.22 L361.0,441.97 L361.5,441.76 L362.0,441.58 L362.4,441.45 L362.9,441.40 L363.4,441.33 L363.8,441.22 L364.3,441.13 L364.7,441.16 L365.2,441.30 L365.7,441.43 L366.1,441.49 L366.6,441.47 L367.1,441.46 L367.5,441.46 L368.0,441.47 L368.4,441.48 L368.9,441.51 L369.4,441.55 L369.8,441.59 L370.3,441.70 L370.8,441.89 L371.2,442.07 L371.7,442.15 L372.1,442.16 L372.6,442.22 L373.1,442.46 L373.5,442.83 L374.0,443.20 L374.5,443.48 L374.9,443.60 L375.4,443.55 L375.8,443.27 L376.3,442.87 L376.8,442.55 L377.2,442.37 L377.7,442.31 L378.2,442.28 L378.6,442.33 L379.1,442.45 L379.5,442.60 L380.0,442.73 L380.5,442.88 L380.9,443.10 L381.4,443.41 L381.9,443.69 L382.3,443.83 L382.8,443.77 L383.2,443.56 L383.7,443.30 L384.2,443.14 L384.6,443.10 L385.1,443.15 L385.6,443.11 L386.0,442.97 L386.5,442.85 L386.9,442.86 L387.4,442.99 L387.9,443.13 L388.3,443.21 L388.8,443.24 L389.3,443.27 L389.7,443.26 L390.2,443.23 L390.6,443.20 L391.1,443.13 L391.6,443.03 L392.0,442.93 L392.5,442.91" stroke="#ff1a1a"/>
<path d="M91.8,428.33 L92.3,428.32 L92.7,428.30 L93.2,428.29 L93.7,428.29 L94.1,428.31 L94.6,428.32 L95.0,428.29 L95.5,428.25 L96.0,428.22 L96.4,428.22 L96.9,428.24 L97.4,428.25 L97.8,428.22 L98.3,428.17 L98.7,428.13 L99.2,428.18 L99.7,428.24 L100.1,428.30 L100.6,428.29 L101.1,428.26 L101.5,428.23 L102.0,428.25 L102.4,428.26 L102.9,428.28 L103.4,428.32 L103.8,428.35 L104.3,428.39 L104.8,428.41 L105.2,428.43 L105.7,428.45 L106.1,428.33 L106.6,428.19 L107.1,428.05 L107.5,428.06 L108.0,428.10 L108.5,428.13 L108.9,428.13 L109.4,428.11 L109.8,428.09 L110.3,428.07 L110.8,428.05 L111.2,428.02 L111.7,427.96 L112.2,427.89 L112.6,427.82 L113.1,427.79 L113.5,427.76 L114.0,427.74 L114.5,427.72 L114.9,427.70 L115.4,427.68 L115.9,427.65 L116.3,427.62 L116.8,427.59 L117.2,427.47 L117.7,427.33 L118.2,427.20 L118.6,427.29 L119.1,427.42 L119.6,427.56 L120.0,427.57 L120.5,427.55 L120.9,427.54 L121.4,427.63 L121.9,427.75 L122.3,427.86 L122.8,427.83 L123.3,427.78 L123.7,427.72 L124.2,427.51 L124.6,427.26 L125.1,427.01 L125.6,426.93 L126.0,426.87 L126.5,426.82 L127.0,426.90 L127.4,427.01 L127.9,427.12 L128.3,427.14 L128.8,427.15 L129.3,427.16 L129.7,427.11 L130.2,427.05 L130.7,426.99 L131.1,427.09 L131.6,427.21 L132.0,427.34 L132.5,427.26 L133.0,427.15 L133.4,427.04 L133.9,427.00 L134.4,426.97 L134.8,426.93 L135.3,426.80 L135.7,426.66 L136.2,426.51 L136.7,426.60 L137.1,426.73 L137.6,426.86 L138.1,426.79 L138.5,426.69 L139.0,426.58 L139.4,426.52 L139.9,426.48 L140.4,426.43 L140.8,426.38 L141.3,426.33 L141.8,426.29 L142.2,426.33 L142.7,426.39 L143.2,426.45 L143.6,426.45 L144.1,426.43 L144.5,426.42 L145.0,426.47 L145.5,426.52 L145.9,426.58 L146.4,426.40 L146.9,426.18 L147.3,425.95 L147.8,425.89 L148.2,425.86 L148.7,425.82 L149.2,425.87 L149.6,425.93 L150.1,425.99 L150.6,425.93 L151.0,425.85 L151.5,425.77 L151.9,425.80 L152.4,425.85 L152.9,425.91 L153.3,425.82 L153.8,425.70 L154.3,425.59 L154.7,425.49 L155.2,425.39 L155.6,425.29 L156.1,425.29 L156.6,425.31 L157.0,425.33 L157.5,425.26 L158.0,425.18 L158.4,425.10 L158.9,424.99 L159.3,424.90 L159.8,424.89 L160.3,425.09 L160.7,425.42 L161.2,425.57 L161.7,425.40 L162.1,425.07 L162.6,424.84 L163.0,424.58 L163.5,424.37 L164.0,424.18 L164.4,424.08 L164.9,424.01 L165.4,423.92 L165.8,423.89 L166.3,423.85 L166.7,423.81 L167.2,423.75 L167.7,423.68 L168.1,423.61 L168.6,423.51 L169.1,423.40 L169.5,423.28 L170.0,423.16 L170.4,423.04 L170.9,422.91 L171.4,422.89 L171.8,422.89 L172.3,422.89 L172.8,422.66 L173.2,422.40 L173.7,422.13 L174.1,422.06 L174.6,422.04 L175.1,422.00 L175.5,421.83 L176.0,421.62 L176.5,421.42 L176.9,421.28 L177.4,421.14 L177.8,421.01 L178.3,420.84 L178.8,420.65 L179.2,420.46 L179.7,420.24 L180.2,420.00 L180.6,419.76 L181.1,419.65 L181.5,419.55 L182.0,419.44 L182.5,419.31 L182.9,419.16 L183.4,419.01 L183.9,418.78 L184.3,418.53 L184.8,418.28 L185.2,418.09 L185.7,417.90 L186.2,417.71 L186.6,417.56 L187.1,417.42 L187.6,417.28 L188.0,417.04 L188.5,416.78 L188.9,416.50 L189.4,416.14 L189.9,415.76 L190.3,415.37 L190.8,414.91 L191.3,414.42 L191.7,413.92 L192.2,413.65 L192.7,413.41 L193.1,413.15 L193.6,412.73 L194.0,412.28 L194.5,411.81 L195.0,411.35 L195.4,410.89 L195.9,410.41 L196.4,410.09 L196.8,409.78 L197.3,409.47 L197.7,408.89 L198.2,408.26 L198.7,407.62 L199.1,407.12 L199.6,406.65 L200.1,406.18 L200.5,405.66 L201.0,405.11 L201.4,404.51 L201.9,403.85 L202.4,403.16 L202.8,402.45 L203.3,401.89 L203.8,401.36 L204.2,400.82 L204.7,400.02 L205.1,399.19 L205.6,398.36 L206.1,397.75 L206.5,397.19 L207.0,396.62 L207.5,395.88 L207.9,395.09 L208.4,394.31 L208.8,393.64 L209.3,392.97 L209.8,392.30 L210.2,391.58 L210.7,390.83 L211.2,390.03 L211.6,389.12 L212.1,388.17 L212.5,387.20 L213.0,386.40 L213.5,385.65 L213.9,384.93 L214.4,384.07 L214.9,383.25 L215.3,382.52 L215.8,381.89 L216.2,381.34 L216.7,380.88 L217.2,380.64 L217.6,380.48 L218.1,380.33 L218.6,380.22 L219.0,380.08 L219.5,379.83 L219.9,379.38 L220.4,378.85 L220.9,378.27 L221.3,377.73 L221.8,377.13 L222.3,376.44 L222.7,375.60 L223.2,374.66 L223.6,373.66 L224.1,372.71 L224.6,371.68 L225.0,370.58 L225.5,369.30 L226.0,368.05 L226.4,366.86 L226.9,365.79 L227.3,364.70 L227.8,363.53 L228.3,362.27 L228.7,360.85 L229.2,359.33 L229.7,357.59 L230.1,355.82 L230.6,354.09 L231.0,352.39 L231.5,350.56 L232.0,348.51 L232.4,346.24 L232.9,343.66 L233.4,340.73 L233.8,337.50 L234.3,333.43 L234.7,329.05 L235.2,324.48 L235.7,319.91 L236.1,315.33 L236.6,310.94 L237.1,306.59 L237.5,302.24 L238.0,297.94 L238.4,293.67 L238.9,289.49 L239.4,285.20 L239.8,280.69 L240.3,275.66 L240.8,270.32 L241.2,265.33 L241.7,260.85 L242.1,256.61 L242.6,252.55 L243.1,248.62 L243.5,245.02 L244.0,241.52 L244.5,238.07 L244.9,234.22 L245.4,230.44 L245.9,226.72 L246.3,222.88 L246.8,218.17 L247.2,213.22 L247.7,208.99 L248.2,205.19 L248.6,201.99 L249.1,198.79 L249.6,195.85 L250.0,193.20 L250.5,191.25 L250.9,189.74 L251.4,188.72 L251.9,187.87 L252.3,187.33 L252.8,187.35 L253.3,187.22 L253.7,187.17 L254.2,187.29 L254.6,188.05 L255.1,188.82 L255.6,189.50 L256.0,189.15 L256.5,188.68 L257.0,188.34 L257.4,189.23 L257.9,190.56 L258.3,192.20 L258.8,193.50 L259.3,195.01 L259.7,196.80 L260.2,200.00 L260.7,203.62 L261.1,207.37 L261.6,209.43 L262.0,211.07 L262.5,212.44 L263.0,214.61 L263.4,216.44 L263.9,217.65 L264.4,218.34 L264.8,218.47 L265.3,218.07 L265.7,216.07 L266.2,213.56 L266.7,210.89 L267.1,209.60 L267.6,208.60 L268.1,207.72 L268.5,206.47 L269.0,205.38 L269.4,204.56 L269.9,203.70 L270.4,203.00 L270.8,202.56 L271.3,202.50 L271.8,202.79 L272.2,203.43 L272.7,204.41 L273.1,206.20 L273.6,208.84 L274.1,211.53 L274.5,214.65 L275.0,218.22 L275.5,223.11 L275.9,228.86 L276.4,234.63 L276.8,239.43 L277.3,243.88 L277.8,248.14 L278.2,251.79 L278.7,255.18 L279.2,258.27 L279.6,261.42 L280.1,264.82 L280.5,269.01 L281.0,274.00 L281.5,279.31 L281.9,284.43 L282.4,289.50 L282.9,294.34 L283.3,298.55 L283.8,302.21 L284.2,305.63 L284.7,309.15 L285.2,313.27 L285.6,317.70 L286.1,322.23 L286.6,326.57 L287.0,330.88 L287.5,335.23 L287.9,339.45 L288.4,343.42 L288.9,347.13 L289.3,350.73 L289.8,354.19 L290.3,357.49 L290.7,360.57 L291.2,363.57 L291.6,366.55 L292.1,369.56 L292.6,372.45 L293.0,375.12 L293.5,377.53 L294.0,379.58 L294.4,381.37 L294.9,382.81 L295.4,384.11 L295.8,385.33 L296.3,386.79 L296.7,388.24 L297.2,389.62 L297.7,390.84 L298.1,391.99 L298.6,393.09 L299.1,394.00 L299.5,394.86 L300.0,395.69 L300.4,396.64 L300.9,397.59 L301.4,398.51 L301.8,399.34 L302.3,400.15 L302.8,400.92 L303.2,401.74 L303.7,402.54 L304.1,403.32 L304.6,404.05 L305.1,404.76 L305.5,405.46 L306.0,406.15 L306.5,406.81 L306.9,407.46 L307.4,408.06 L307.8,408.63 L308.3,409.18 L308.8,409.89 L309.2,410.61 L309.7,411.30 L310.2,411.69 L310.6,412.00 L311.1,412.28 L311.5,412.66 L312.0,413.04 L312.5,413.40 L312.9,413.63 L313.4,413.83 L313.9,414.01 L314.3,414.43 L314.8,414.89 L315.2,415.33 L315.7,415.53 L316.2,415.68 L316.6,415.82 L317.1,416.06 L317.6,416.33 L318.0,416.59 L318.5,416.91 L318.9,417.25 L319.4,417.58 L319.9,417.76 L320.3,417.92 L320.8,418.07 L321.3,418.26 L321.7,418.46 L322.2,418.65 L322.6,418.83 L323.1,419.00 L323.6,419.16 L324.0,419.36 L324.5,419.55 L325.0,419.73 L325.4,419.93 L325.9,420.12 L326.3,420.32 L326.8,420.43 L327.3,420.52 L327.7,420.61 L328.2,420.78 L328.7,420.97 L329.1,421.15 L329.6,421.28 L330.0,421.41 L330.5,421.53 L331.0,421.61 L331.4,421.68 L331.9,421.75 L332.4,421.86 L332.8,421.97 L333.3,422.07 L333.7,422.17 L334.2,422.27 L334.7,422.37 L335.1,422.33 L335.6,422.28 L336.1,422.22 L336.5,422.45 L337.0,422.74 L337.4,423.02 L337.9,423.03 L338.4,422.99 L338.8,422.95 L339.3,423.02 L339.8,423.10 L340.2,423.18 L340.7,423.33 L341.1,423.51 L341.6,423.68 L342.1,423.65 L342.5,423.58 L343.0,423.51 L343.5,423.68 L343.9,423.90 L344.4,424.11 L344.9,424.15 L345.3,424.15 L345.8,424.16 L346.2,424.32 L346.7,424.50 L347.2,424.68 L347.6,424.75 L348.1,424.81 L348.6,424.86 L349.0,424.90 L349.5,424.93 L349.9,424.96 L350.4,424.97 L350.9,424.97 L351.3,424.97 L351.8,424.96 L352.3,424.95 L352.7,424.94 L353.2,425.12 L353.6,425.34 L354.1,425.56 L354.6,425.54 L355.0,425.49 L355.5,425.44 L356.0,425.60 L356.4,425.84 L356.9,426.15 L357.3,426.42 L357.8,426.75 L358.3,427.11 L358.7,427.50 L359.2,427.75 L359.7,427.79 L360.1,427.66 L360.6,427.39 L361.0,427.07 L361.5,426.76 L362.0,426.52 L362.4,426.38 L362.9,426.43 L363.4,426.55 L363.8,426.70 L364.3,426.63 L364.7,426.52 L365.2,426.41 L365.7,426.41 L366.1,426.42 L366.6,426.43 L367.1,426.53 L367.5,426.66 L368.0,426.78 L368.4,426.78 L368.9,426.77 L369.4,426.76 L369.8,426.79 L370.3,426.83 L370.8,426.88 L371.2,426.91 L371.7,426.95 L372.1,427.03 L372.6,427.30 L373.1,427.67 L373.5,428.11 L374.0,428.43 L374.5,428.63 L374.9,428.66 L375.4,428.45 L375.8,428.12 L376.3,427.80 L376.8,427.60 L377.2,427.50 L377.7,427.47 L378.2,427.45 L378.6,427.44 L379.1,427.44 L379.5,427.59 L380.0,427.82 L380.5,428.12 L380.9,428.41 L381.4,428.72 L381.9,428.97 L382.3,429.13 L382.8,429.10 L383.2,428.93 L383.7,428.64 L384.2,428.38 L384.6,428.20 L385.1,428.05 L385.6,427.93 L386.0,427.84 L386.5,427.91 L386.9,428.01 L387.4,428.11 L387.9,428.12 L388.3,428.11 L388.8,428.09 L389.3,428.14 L389.7,428.19 L390.2,428.24 L390.6,428.27 L391.1,428.30 L391.6,428.33 L392.0,428.33 L392.5,428.32" stroke="#ff1a1a"/>
<path d="M91.8,413.42 L92.3,413.43 L92.7,413.51 L93.2,413.58 L93.7,413.64 L94.1,413.71 L94.6,413.77 L95.0,413.69 L95.5,413.49 L96.0,413.28 L96.4,413.21 L96.9,413.27 L97.4,413.34 L97.8,413.44 L98.3,413.58 L98.7,413.72 L99.2,413.75 L99.7,413.68 L100.1,413.61 L100.6,413.56 L101.1,413.53 L101.5,413.49 L102.0,413.44 L102.4,413.38 L102.9,413.31 L103.4,413.25 L103.8,413.18 L104.3,413.11 L104.8,413.10 L105.2,413.15 L105.7,413.20 L106.1,413.24 L106.6,413.27 L107.1,413.30 L107.5,413.28 L108.0,413.21 L108.5,413.15 L108.9,413.13 L109.4,413.16 L109.8,413.19 L110.3,413.18 L110.8,413.14 L111.2,413.11 L111.7,413.11 L112.2,413.14 L112.6,413.18 L113.1,413.20 L113.5,413.22 L114.0,413.24 L114.5,413.17 L114.9,413.01 L115.4,412.85 L115.9,412.81 L116.3,412.89 L116.8,412.97 L117.2,412.98 L117.7,412.94 L118.2,412.89 L118.6,412.88 L119.1,412.90 L119.6,412.92 L120.0,412.92 L120.5,412.90 L120.9,412.87 L121.4,412.84 L121.9,412.81 L122.3,412.77 L122.8,412.72 L123.3,412.63 L123.7,412.55 L124.2,412.48 L124.6,412.43 L125.1,412.37 L125.6,412.35 L126.0,412.37 L126.5,412.38 L127.0,412.41 L127.4,412.45 L127.9,412.49 L128.3,412.40 L128.8,412.18 L129.3,411.97 L129.7,411.91 L130.2,412.00 L130.7,412.09 L131.1,412.12 L131.6,412.09 L132.0,412.06 L132.5,412.07 L133.0,412.14 L133.4,412.20 L133.9,412.21 L134.4,412.16 L134.8,412.12 L135.3,412.06 L135.7,411.99 L136.2,411.91 L136.7,411.93 L137.1,412.04 L137.6,412.15 L138.1,412.16 L138.5,412.08 L139.0,412.00 L139.4,411.91 L139.9,411.82 L140.4,411.72 L140.8,411.60 L141.3,411.46 L141.8,411.32 L142.2,411.29 L142.7,411.38 L143.2,411.47 L143.6,411.54 L144.1,411.59 L144.5,411.65 L145.0,411.67 L145.5,411.65 L145.9,411.63 L146.4,411.54 L146.9,411.38 L147.3,411.22 L147.8,411.18 L148.2,411.25 L148.7,411.32 L149.2,411.32 L149.6,411.26 L150.1,411.20 L150.6,411.08 L151.0,410.91 L151.5,410.74 L151.9,410.69 L152.4,410.76 L152.9,410.82 L153.3,410.84 L153.8,410.82 L154.3,410.80 L154.7,410.78 L155.2,410.76 L155.6,410.73 L156.1,410.63 L156.6,410.46 L157.0,410.29 L157.5,410.18 L158.0,410.13 L158.4,410.08 L158.9,410.09 L159.3,410.18 L159.8,410.34 L160.3,410.61 L160.7,410.94 L161.2,411.11 L161.7,410.86 L162.1,410.38 L162.6,410.01 L163.0,409.77 L163.5,409.60 L164.0,409.45 L164.4,409.37 L164.9,409.35 L165.4,409.33 L165.8,409.33 L166.3,409.35 L166.7,409.37 L167.2,409.28 L167.7,409.10 L168.1,408.91 L168.6,408.76 L169.1,408.63 L169.5,408.49 L170.0,408.40 L170.4,408.33 L170.9,408.26 L171.4,408.15 L171.8,408.02 L172.3,407.88 L172.8,407.75 L173.2,407.62 L173.7,407.50 L174.1,407.38 L174.6,407.27 L175.1,407.16 L175.5,407.04 L176.0,406.90 L176.5,406.77 L176.9,406.64 L177.4,406.54 L177.8,406.43 L178.3,406.29 L178.8,406.13 L179.2,405.97 L179.7,405.82 L180.2,405.69 L180.6,405.56 L181.1,405.34 L181.5,405.05 L182.0,404.75 L182.5,404.51 L182.9,404.32 L183.4,404.13 L183.9,403.95 L184.3,403.77 L184.8,403.59 L185.2,403.38 L185.7,403.14 L186.2,402.89 L186.6,402.66 L187.1,402.44 L187.6,402.22 L188.0,401.99 L188.5,401.77 L188.9,401.54 L189.4,401.24 L189.9,400.87 L190.3,400.50 L190.8,400.16 L191.3,399.85 L191.7,399.53 L192.2,399.18 L192.7,398.81 L193.1,398.42 L193.6,398.08 L194.0,397.79 L194.5,397.49 L195.0,397.08 L195.4,396.56 L195.9,396.04 L196.4,395.52 L196.8,395.02 L197.3,394.50 L197.7,394.03 L198.2,393.60 L198.7,393.17 L199.1,392.72 L199.6,392.25 L200.1,391.78 L200.5,391.29 L201.0,390.77 L201.4,390.21 L201.9,389.57 L202.4,388.86 L202.8,388.12 L203.3,387.34 L203.8,386.52 L204.2,385.69 L204.7,384.99 L205.1,384.42 L205.6,383.86 L206.1,383.20 L206.5,382.45 L207.0,381.70 L207.5,381.05 L207.9,380.48 L208.4,379.91 L208.8,379.25 L209.3,378.50 L209.8,377.74 L210.2,377.06 L210.7,376.44 L211.2,375.79 L211.6,375.04 L212.1,374.21 L212.5,373.37 L213.0,372.56 L213.5,371.80 L213.9,371.07 L214.4,370.40 L214.9,369.79 L215.3,369.24 L215.8,368.81 L216.2,368.48 L216.7,368.19 L217.2,367.88 L217.6,367.53 L218.1,367.20 L218.6,366.89 L219.0,366.61 L219.5,366.18 L219.9,365.70 L220.4,365.16 L220.9,364.57 L221.3,363.96 L221.8,363.31 L222.3,362.58 L222.7,361.75 L223.2,360.83 L223.6,359.84 L224.1,358.76 L224.6,357.55 L225.0,356.27 L225.5,355.06 L226.0,353.99 L226.4,352.97 L226.9,351.91 L227.3,350.75 L227.8,349.51 L228.3,348.14 L228.7,346.60 L229.2,344.94 L229.7,343.23 L230.1,341.52 L230.6,339.85 L231.0,338.16 L231.5,336.36 L232.0,334.35 L232.4,331.98 L232.9,329.23 L233.4,326.11 L233.8,322.57 L234.3,318.21 L234.7,313.52 L235.2,308.92 L235.7,304.23 L236.1,299.52 L236.6,295.00 L237.1,290.67 L237.5,286.36 L238.0,281.91 L238.4,277.34 L238.9,272.85 L239.4,268.49 L239.8,264.09 L240.3,259.20 L240.8,253.88 L241.2,248.74 L241.7,244.13 L242.1,239.74 L242.6,235.55 L243.1,231.49 L243.5,227.41 L244.0,223.27 L244.5,219.12 L244.9,215.24 L245.4,211.84 L245.9,208.53 L246.3,204.54 L246.8,199.25 L247.2,193.69 L247.7,189.28 L248.2,185.75 L248.6,182.89 L249.1,179.81 L249.6,176.48 L250.0,173.43 L250.5,171.22 L250.9,170.03 L251.4,169.34 L251.9,168.61 L252.3,168.01 L252.8,167.99 L253.3,168.34 L253.7,168.76 L254.2,169.36 L254.6,169.56 L255.1,169.29 L255.6,168.92 L256.0,169.00 L256.5,169.54 L257.0,170.20 L257.4,170.91 L257.9,171.74 L258.3,172.89 L258.8,174.48 L259.3,176.49 L259.7,178.79 L260.2,181.21 L260.7,183.75 L261.1,186.42 L261.6,189.03 L262.0,191.44 L262.5,193.58 L263.0,195.76 L263.4,197.81 L263.9,199.25 L264.4,199.72 L264.8,199.30 L265.3,198.36 L265.7,197.18 L266.2,195.84 L266.7,194.33 L267.1,192.86 L267.6,191.52 L268.1,190.30 L268.5,188.86 L269.0,187.31 L269.4,186.03 L269.9,184.98 L270.4,184.09 L270.8,183.46 L271.3,183.68 L271.8,184.77 L272.2,186.19 L272.7,187.19 L273.1,188.34 L273.6,190.38 L274.1,193.34 L274.5,197.31 L275.0,201.68 L275.5,206.28 L275.9,211.48 L276.4,216.78 L276.8,221.44 L277.3,225.79 L277.8,229.96 L278.2,234.06 L278.7,238.04 L279.2,241.67 L279.6,244.80 L280.1,248.05 L280.5,252.12 L281.0,257.13 L281.5,262.44 L281.9,267.55 L282.4,272.95 L282.9,278.27 L283.3,282.91 L283.8,286.84 L284.2,290.41 L284.7,294.06 L285.2,298.13 L285.6,302.55 L286.1,307.07 L286.6,311.45 L287.0,315.76 L287.5,320.11 L287.9,324.30 L288.4,328.17 L288.9,331.79 L289.3,335.42 L289.8,339.04 L290.3,342.50 L290.7,345.82 L291.2,349.06 L291.6,352.27 L292.1,355.33 L292.6,358.19 L293.0,360.82 L293.5,363.06 L294.0,364.83 L294.4,366.31 L294.9,367.76 L295.4,369.17 L295.8,370.50 L296.3,371.80 L296.7,373.07 L297.2,374.28 L297.7,375.33 L298.1,376.25 L298.6,377.13 L299.1,378.09 L299.5,379.10 L300.0,380.10 L300.4,381.04 L300.9,381.93 L301.4,382.80 L301.8,383.66 L302.3,384.50 L302.8,385.32 L303.2,386.11 L303.7,386.87 L304.1,387.61 L304.6,388.40 L305.1,389.23 L305.5,390.05 L306.0,390.82 L306.5,391.53 L306.9,392.23 L307.4,392.83 L307.8,393.35 L308.3,393.85 L308.8,394.42 L309.2,395.07 L309.7,395.69 L310.2,396.26 L310.6,396.79 L311.1,397.29 L311.5,397.68 L312.0,397.97 L312.5,398.25 L312.9,398.59 L313.4,398.97 L313.9,399.35 L314.3,399.66 L314.8,399.91 L315.2,400.15 L315.7,400.33 L316.2,400.43 L316.6,400.54 L317.1,400.76 L317.6,401.09 L318.0,401.43 L318.5,401.78 L318.9,402.16 L319.4,402.53 L319.9,402.86 L320.3,403.14 L320.8,403.42 L321.3,403.63 L321.7,403.78 L322.2,403.93 L322.6,404.13 L323.1,404.38 L323.6,404.63 L324.0,404.80 L324.5,404.91 L325.0,405.00 L325.4,405.12 L325.9,405.26 L326.3,405.40 L326.8,405.52 L327.3,405.63 L327.7,405.74 L328.2,405.87 L328.7,406.03 L329.1,406.19 L329.6,406.36 L330.0,406.55 L330.5,406.73 L331.0,406.84 L331.4,406.87 L331.9,406.90 L332.4,406.95 L332.8,407.04 L333.3,407.12 L333.7,407.20 L334.2,407.28 L334.7,407.36 L335.1,407.42 L335.6,407.45 L336.1,407.48 L336.5,407.61 L337.0,407.83 L337.4,408.04 L337.9,408.16 L338.4,408.20 L338.8,408.23 L339.3,408.30 L339.8,408.41 L340.2,408.52 L340.7,408.62 L341.1,408.72 L341.6,408.82 L342.1,408.86 L342.5,408.85 L343.0,408.85 L343.5,408.92 L343.9,409.07 L344.4,409.22 L344.9,409.26 L345.3,409.19 L345.8,409.11 L346.2,409.25 L346.7,409.58 L347.2,409.91 L347.6,409.98 L348.1,409.82 L348.6,409.66 L349.0,409.67 L349.5,409.84 L349.9,410.00 L350.4,410.15 L350.9,410.27 L351.3,410.39 L351.8,410.44 L352.3,410.42 L352.7,410.40 L353.2,410.42 L353.6,410.48 L354.1,410.55 L354.6,410.58 L355.0,410.60 L355.5,410.62 L356.0,410.70 L356.4,410.83 L356.9,411.05 L357.3,411.42 L357.8,411.95 L358.3,412.50 L358.7,412.93 L359.2,413.14 L359.7,413.14 L360.1,412.95 L360.6,412.63 L361.0,412.26 L361.5,411.94 L362.0,411.72 L362.4,411.59 L362.9,411.56 L363.4,411.58 L363.8,411.63 L364.3,411.63 L364.7,411.58 L365.2,411.52 L365.7,411.55 L366.1,411.65 L366.6,411.76 L367.1,411.88 L367.5,412.01 L368.0,412.15 L368.4,412.19 L368.9,412.14 L369.4,412.09 L369.8,412.10 L370.3,412.17 L370.8,412.24 L371.2,412.31 L371.7,412.38 L372.1,412.49 L372.6,412.63 L373.1,412.82 L373.5,413.08 L374.0,413.37 L374.5,413.60 L374.9,413.64 L375.4,413.52 L375.8,413.29 L376.3,413.06 L376.8,412.88 L377.2,412.77 L377.7,412.73 L378.2,412.72 L378.6,412.72 L379.1,412.74 L379.5,412.85 L380.0,413.07 L380.5,413.36 L380.9,413.66 L381.4,413.95 L381.9,414.18 L382.3,414.24 L382.8,414.11 L383.2,413.83 L383.7,413.58 L384.2,413.46 L384.6,413.41 L385.1,413.39 L385.6,413.36 L386.0,413.35 L386.5,413.37 L386.9,413.40 L387.4,413.43 L387.9,413.40 L388.3,413.33 L388.8,413.25 L389.3,413.27 L389.7,413.37 L390.2,413.48 L390.6,413.49 L391.1,413.41 L391.6,413.34 L392.0,413.35 L392.5,413.45" stroke="#ff1a1a"/>
<path d="M91.8,398.57 L92.3,398.59 L92.7,398.54 L93.2,398.50 L93.7,398.46 L94.1,398.53 L94.6,398.61 L95.0,398.69 L95.5,398.76 L96.0,398.84 L96.4,398.92 L96.9,398.83 L97.4,398.75 L97.8,398.66 L98.3,398.62 L98.7,398.58 L99.2,398.55 L99.7,398.54 L100.1,398.54 L100.6,398.53 L101.1,398.58 L101.5,398.63 L102.0,398.68 L102.4,398.75 L102.9,398.82 L103.4,398.90 L103.8,398.65 L104.3,398.40 L104.8,398.15 L105.2,398.26 L105.7,398.36 L106.1,398.47 L106.6,398.44 L107.1,398.40 L107.5,398.36 L108.0,398.41 L108.5,398.46 L108.9,398.51 L109.4,398.51 L109.8,398.51 L110.3,398.50 L110.8,398.41 L111.2,398.31 L111.7,398.21 L112.2,398.18 L112.6,398.15 L113.1,398.12 L113.5,398.21 L114.0,398.31 L114.5,398.40 L114.9,398.37 L115.4,398.33 L115.9,398.29 L116.3,398.28 L116.8,398.28 L117.2,398.27 L117.7,398.27 L118.2,398.27 L118.6,398.28 L119.1,398.24 L119.6,398.21 L120.0,398.17 L120.5,398.11 L120.9,398.04 L121.4,397.98 L121.9,398.05 L122.3,398.12 L122.8,398.19 L123.3,397.95 L123.7,397.70 L124.2,397.45 L124.6,397.63 L125.1,397.81 L125.6,397.99 L126.0,397.91 L126.5,397.83 L127.0,397.75 L127.4,397.60 L127.9,397.45 L128.3,397.30 L128.8,397.41 L129.3,397.51 L129.7,397.61 L130.2,397.56 L130.7,397.51 L131.1,397.46 L131.6,397.41 L132.0,397.35 L132.5,397.29 L133.0,397.21 L133.4,397.12 L133.9,397.03 L134.4,397.16 L134.8,397.28 L135.3,397.41 L135.7,397.25 L136.2,397.08 L136.7,396.92 L137.1,397.04 L137.6,397.16 L138.1,397.29 L138.5,397.09 L139.0,396.89 L139.4,396.69 L139.9,396.71 L140.4,396.72 L140.8,396.74 L141.3,396.75 L141.8,396.75 L142.2,396.76 L142.7,396.78 L143.2,396.81 L143.6,396.83 L144.1,396.69 L144.5,396.55 L145.0,396.42 L145.5,396.42 L145.9,396.43 L146.4,396.44 L146.9,396.39 L147.3,396.34 L147.8,396.29 L148.2,396.40 L148.7,396.51 L149.2,396.63 L149.6,396.52 L150.1,396.41 L150.6,396.29 L151.0,396.24 L151.5,396.18 L151.9,396.12 L152.4,396.06 L152.9,396.00 L153.3,395.94 L153.8,396.03 L154.3,396.11 L154.7,396.19 L155.2,396.15 L155.6,396.10 L156.1,396.05 L156.6,395.88 L157.0,395.70 L157.5,395.53 L158.0,395.53 L158.4,395.53 L158.9,395.54 L159.3,395.47 L159.8,395.48 L160.3,395.63 L160.7,396.00 L161.2,396.20 L161.7,396.05 L162.1,395.58 L162.6,395.21 L163.0,394.98 L163.5,394.96 L164.0,394.95 L164.4,394.94 L164.9,394.89 L165.4,394.83 L165.8,394.78 L166.3,394.70 L166.7,394.61 L167.2,394.53 L167.7,394.35 L168.1,394.16 L168.6,393.98 L169.1,393.99 L169.5,393.99 L170.0,394.00 L170.4,393.90 L170.9,393.79 L171.4,393.67 L171.8,393.50 L172.3,393.32 L172.8,393.14 L173.2,392.94 L173.7,392.74 L174.1,392.53 L174.6,392.37 L175.1,392.21 L175.5,392.05 L176.0,391.90 L176.5,391.76 L176.9,391.61 L177.4,391.45 L177.8,391.28 L178.3,391.11 L178.8,391.05 L179.2,390.98 L179.7,390.91 L180.2,390.75 L180.6,390.58 L181.1,390.41 L181.5,390.12 L182.0,389.83 L182.5,389.54 L182.9,389.45 L183.4,389.36 L183.9,389.27 L184.3,389.04 L184.8,388.81 L185.2,388.58 L185.7,388.43 L186.2,388.28 L186.6,388.12 L187.1,387.80 L187.6,387.47 L188.0,387.13 L188.5,386.96 L188.9,386.78 L189.4,386.58 L189.9,386.23 L190.3,385.87 L190.8,385.50 L191.3,385.15 L191.7,384.79 L192.2,384.42 L192.7,384.05 L193.1,383.67 L193.6,383.28 L194.0,382.84 L194.5,382.39 L195.0,381.93 L195.4,381.49 L195.9,381.05 L196.4,380.60 L196.8,380.15 L197.3,379.68 L197.7,379.21 L198.2,378.80 L198.7,378.37 L199.1,377.94 L199.6,377.49 L200.1,377.03 L200.5,376.55 L201.0,375.96 L201.4,375.33 L201.9,374.68 L202.4,374.05 L202.8,373.40 L203.3,372.74 L203.8,372.07 L204.2,371.40 L204.7,370.73 L205.1,369.91 L205.6,369.09 L206.1,368.30 L206.5,367.82 L207.0,367.35 L207.5,366.88 L207.9,366.13 L208.4,365.38 L208.8,364.63 L209.3,364.06 L209.8,363.49 L210.2,362.92 L210.7,362.33 L211.2,361.72 L211.6,361.11 L212.1,360.20 L212.5,359.30 L213.0,358.41 L213.5,357.91 L213.9,357.46 L214.4,357.04 L214.9,356.55 L215.3,356.10 L215.8,355.69 L216.2,355.07 L216.7,354.47 L217.2,353.89 L217.6,353.68 L218.1,353.48 L218.6,353.29 L219.0,352.91 L219.5,352.37 L219.9,351.82 L220.4,351.20 L220.9,350.54 L221.3,349.84 L221.8,349.31 L222.3,348.71 L222.7,348.02 L223.2,347.10 L223.6,346.10 L224.1,345.05 L224.6,343.77 L225.0,342.43 L225.5,341.08 L226.0,339.91 L226.4,338.80 L226.9,337.71 L227.3,336.64 L227.8,335.48 L228.3,334.18 L228.7,332.68 L229.2,331.06 L229.7,329.39 L230.1,327.68 L230.6,326.00 L231.0,324.28 L231.5,322.30 L232.0,320.09 L232.4,317.59 L232.9,314.85 L233.4,311.72 L233.8,308.06 L234.3,303.53 L234.7,298.65 L235.2,294.04 L235.7,289.56 L236.1,285.10 L236.6,280.64 L237.1,276.11 L237.5,271.59 L238.0,267.06 L238.4,262.82 L238.9,258.69 L239.4,254.52 L239.8,249.60 L240.3,244.13 L240.8,238.37 L241.2,233.32 L241.7,228.81 L242.1,224.54 L242.6,220.08 L243.1,215.72 L243.5,211.44 L244.0,207.80 L244.5,204.19 L244.9,200.59 L245.4,196.78 L245.9,193.04 L246.3,188.91 L246.8,183.88 L247.2,178.59 L247.7,174.03 L248.2,169.85 L248.6,166.27 L249.1,163.09 L249.6,160.31 L250.0,157.85 L250.5,155.57 L250.9,153.19 L251.4,151.29 L251.9,149.49 L252.3,148.70 L252.8,148.53 L253.3,148.90 L253.7,149.61 L254.2,150.54 L254.6,151.45 L255.1,152.28 L255.6,153.00 L256.0,153.73 L256.5,153.39 L257.0,153.15 L257.4,153.11 L257.9,154.37 L258.3,155.96 L258.8,157.85 L259.3,160.02 L259.7,162.46 L260.2,165.17 L260.7,168.07 L261.1,171.11 L261.6,174.16 L262.0,177.03 L262.5,179.64 L263.0,181.83 L263.4,182.77 L263.9,183.10 L264.4,182.83 L264.8,182.58 L265.3,181.84 L265.7,180.68 L266.2,179.51 L266.7,178.18 L267.1,176.78 L267.6,175.16 L268.1,173.65 L268.5,172.32 L269.0,170.72 L269.4,169.39 L269.9,168.34 L270.4,168.28 L270.8,168.50 L271.3,168.97 L271.8,169.64 L272.2,170.64 L272.7,171.96 L273.1,174.07 L273.6,177.02 L274.1,180.22 L274.5,183.36 L275.0,186.96 L275.5,191.04 L275.9,196.29 L276.4,201.65 L276.8,206.42 L277.3,211.22 L277.8,215.80 L278.2,220.16 L278.7,224.17 L279.2,227.83 L279.6,231.06 L280.1,233.91 L280.5,237.61 L281.0,242.37 L281.5,247.87 L281.9,253.17 L282.4,258.55 L282.9,263.65 L283.3,268.08 L283.8,271.94 L284.2,275.63 L284.7,279.39 L285.2,283.51 L285.6,288.07 L286.1,292.73 L286.6,297.34 L287.0,301.54 L287.5,305.79 L287.9,309.93 L288.4,314.12 L288.9,318.03 L289.3,321.78 L289.8,325.14 L290.3,328.34 L290.7,331.38 L291.2,334.54 L291.6,337.65 L292.1,340.65 L292.6,343.45 L293.0,346.01 L293.5,348.27 L294.0,350.15 L294.4,351.71 L294.9,353.18 L295.4,354.47 L295.8,355.68 L296.3,356.82 L296.7,357.88 L297.2,358.89 L297.7,359.85 L298.1,360.85 L298.6,361.84 L299.1,362.81 L299.5,363.66 L300.0,364.50 L300.4,365.33 L300.9,366.31 L301.4,367.27 L301.8,368.22 L302.3,369.05 L302.8,369.87 L303.2,370.67 L303.7,371.52 L304.1,372.36 L304.6,373.20 L305.1,373.96 L305.5,374.72 L306.0,375.46 L306.5,376.18 L306.9,376.88 L307.4,377.56 L307.8,378.24 L308.3,378.90 L308.8,379.53 L309.2,380.00 L309.7,380.44 L310.2,380.84 L310.6,381.30 L311.1,381.72 L311.5,382.12 L312.0,382.65 L312.5,383.16 L312.9,383.65 L313.4,383.99 L313.9,384.31 L314.3,384.62 L314.8,384.84 L315.2,385.05 L315.7,385.24 L316.2,385.56 L316.6,385.88 L317.1,386.19 L317.6,386.45 L318.0,386.70 L318.5,386.95 L318.9,387.31 L319.4,387.67 L319.9,388.03 L320.3,388.10 L320.8,388.17 L321.3,388.23 L321.7,388.54 L322.2,388.85 L322.6,389.15 L323.1,389.36 L323.6,389.56 L324.0,389.75 L324.5,389.96 L325.0,390.17 L325.4,390.36 L325.9,390.50 L326.3,390.64 L326.8,390.77 L327.3,390.90 L327.7,391.03 L328.2,391.16 L328.7,391.29 L329.1,391.42 L329.6,391.54 L330.0,391.62 L330.5,391.70 L331.0,391.77 L331.4,391.84 L331.9,391.91 L332.4,391.98 L332.8,392.16 L333.3,392.34 L333.7,392.51 L334.2,392.58 L334.7,392.65 L335.1,392.72 L335.6,392.75 L336.1,392.78 L336.5,392.82 L337.0,392.92 L337.4,393.02 L337.9,393.13 L338.4,393.06 L338.8,392.99 L339.3,392.92 L339.8,393.24 L340.2,393.56 L340.7,393.88 L341.1,393.87 L341.6,393.86 L342.1,393.85 L342.5,393.98 L343.0,394.12 L343.5,394.25 L343.9,394.32 L344.4,394.39 L344.9,394.46 L345.3,394.53 L345.8,394.60 L346.2,394.68 L346.7,394.75 L347.2,394.82 L347.6,394.90 L348.1,394.92 L348.6,394.94 L349.0,394.95 L349.5,395.05 L349.9,395.14 L350.4,395.23 L350.9,395.26 L351.3,395.28 L351.8,395.31 L352.3,395.26 L352.7,395.21 L353.2,395.16 L353.6,395.32 L354.1,395.49 L354.6,395.66 L355.0,395.79 L355.5,395.93 L356.0,396.09 L356.4,396.17 L356.9,396.32 L357.3,396.56 L357.8,397.20 L358.3,397.88 L358.7,398.52 L359.2,398.53 L359.7,398.33 L360.1,397.93 L360.6,397.59 L361.0,397.22 L361.5,396.88 L362.0,396.75 L362.4,396.72 L362.9,396.77 L363.4,396.74 L363.8,396.75 L364.3,396.76 L364.7,396.83 L365.2,396.91 L365.7,396.99 L366.1,397.08 L366.6,397.17 L367.1,397.26 L367.5,397.21 L368.0,397.15 L368.4,397.10 L368.9,397.15 L369.4,397.20 L369.8,397.25 L370.3,397.35 L370.8,397.44 L371.2,397.54 L371.7,397.51 L372.1,397.52 L372.6,397.60 L373.1,397.98 L373.5,398.44 L374.0,398.89 L374.5,398.99 L374.9,398.91 L375.4,398.65 L375.8,398.41 L376.3,398.18 L376.8,398.01 L377.2,397.92 L377.7,397.90 L378.2,397.91 L378.6,397.95 L379.1,398.00 L379.5,398.08 L380.0,398.21 L380.5,398.42 L380.9,398.72 L381.4,399.13 L381.9,399.50 L382.3,399.72 L382.8,399.71 L383.2,399.55 L383.7,399.33 L384.2,398.97 L384.6,398.69 L385.1,398.49 L385.6,398.38 L386.0,398.30 L386.5,398.22 L386.9,398.32 L387.4,398.41 L387.9,398.51 L388.3,398.52 L388.8,398.52 L389.3,398.53 L389.7,398.54 L390.2,398.56 L390.6,398.58 L391.1,398.59 L391.6,398.61 L392.0,398.62 L392.5,398.64" stroke="#ff1a1a"/>
<path d="M91.8,383.83 L92.3,383.79 L92.7,383.78 L93.2,383.80 L93.7,383.82 L94.1,383.80 L94.6,383.73 L95.0,383.66 L95.5,383.71 L96.0,383.86 L96.4,384.01 L96.9,384.01 L97.4,383.88 L97.8,383.76 L98.3,383.72 L98.7,383.76 L99.2,383.80 L99.7,383.77 L100.1,383.69 L100.6,383.62 L101.1,383.58 L101.5,383.57 L102.0,383.56 L102.4,383.56 L102.9,383.57 L103.4,383.58 L103.8,383.63 L104.3,383.70 L104.8,383.77 L105.2,383.80 L105.7,383.78 L106.1,383.77 L106.6,383.74 L107.1,383.68 L107.5,383.63 L108.0,383.62 L108.5,383.65 L108.9,383.67 L109.4,383.72 L109.8,383.79 L110.3,383.86 L110.8,383.87 L111.2,383.83 L111.7,383.79 L112.2,383.71 L112.6,383.59 L113.1,383.47 L113.5,383.46 L114.0,383.52 L114.5,383.59 L114.9,383.59 L115.4,383.53 L115.9,383.48 L116.3,383.43 L116.8,383.40 L117.2,383.37 L117.7,383.38 L118.2,383.44 L118.6,383.50 L119.1,383.49 L119.6,383.41 L120.0,383.34 L120.5,383.23 L120.9,383.11 L121.4,382.99 L121.9,382.92 L122.3,382.90 L122.8,382.87 L123.3,382.87 L123.7,382.90 L124.2,382.93 L124.6,382.93 L125.1,382.90 L125.6,382.88 L126.0,382.87 L126.5,382.89 L127.0,382.91 L127.4,382.90 L127.9,382.86 L128.3,382.82 L128.8,382.77 L129.3,382.70 L129.7,382.64 L130.2,382.66 L130.7,382.77 L131.1,382.88 L131.6,382.89 L132.0,382.80 L132.5,382.71 L133.0,382.66 L133.4,382.63 L133.9,382.60 L134.4,382.54 L134.8,382.45 L135.3,382.36 L135.7,382.36 L136.2,382.44 L136.7,382.52 L137.1,382.45 L137.6,382.26 L138.1,382.06 L138.5,382.04 L139.0,382.16 L139.4,382.29 L139.9,382.24 L140.4,382.06 L140.8,381.87 L141.3,381.84 L141.8,381.93 L142.2,382.02 L142.7,382.04 L143.2,382.00 L143.6,381.97 L144.1,381.89 L144.5,381.77 L145.0,381.66 L145.5,381.69 L145.9,381.86 L146.4,382.02 L146.9,382.00 L147.3,381.83 L147.8,381.66 L148.2,381.53 L148.7,381.44 L149.2,381.35 L149.6,381.37 L150.1,381.48 L150.6,381.59 L151.0,381.57 L151.5,381.44 L151.9,381.30 L152.4,381.26 L152.9,381.29 L153.3,381.32 L153.8,381.27 L154.3,381.14 L154.7,381.01 L155.2,380.96 L155.6,380.98 L156.1,381.00 L156.6,380.94 L157.0,380.81 L157.5,380.68 L158.0,380.64 L158.4,380.67 L158.9,380.71 L159.3,380.73 L159.8,380.77 L160.3,380.97 L160.7,381.26 L161.2,381.37 L161.7,381.12 L162.1,380.74 L162.6,380.48 L163.0,380.36 L163.5,380.22 L164.0,380.02 L164.4,379.81 L164.9,379.71 L165.4,379.68 L165.8,379.65 L166.3,379.57 L166.7,379.45 L167.2,379.33 L167.7,379.23 L168.1,379.14 L168.6,379.05 L169.1,378.94 L169.5,378.82 L170.0,378.69 L170.4,378.65 L170.9,378.67 L171.4,378.69 L171.8,378.59 L172.3,378.38 L172.8,378.17 L173.2,378.02 L173.7,377.91 L174.1,377.80 L174.6,377.67 L175.1,377.52 L175.5,377.37 L176.0,377.22 L176.5,377.08 L176.9,376.93 L177.4,376.83 L177.8,376.77 L178.3,376.71 L178.8,376.60 L179.2,376.44 L179.7,376.28 L180.2,376.14 L180.6,376.03 L181.1,375.91 L181.5,375.65 L182.0,375.29 L182.5,374.92 L182.9,374.69 L183.4,374.57 L183.9,374.44 L184.3,374.30 L184.8,374.14 L185.2,373.98 L185.7,373.75 L186.2,373.48 L186.6,373.19 L187.1,372.96 L187.6,372.77 L188.0,372.56 L188.5,372.32 L188.9,372.05 L189.4,371.77 L189.9,371.45 L190.3,371.10 L190.8,370.75 L191.3,370.40 L191.7,370.04 L192.2,369.68 L192.7,369.33 L193.1,368.99 L193.6,368.65 L194.0,368.28 L194.5,367.89 L195.0,367.50 L195.4,367.04 L195.9,366.55 L196.4,366.04 L196.8,365.48 L197.3,364.89 L197.7,364.28 L198.2,363.84 L198.7,363.53 L199.1,363.21 L199.6,362.75 L200.1,362.18 L200.5,361.58 L201.0,360.99 L201.4,360.41 L201.9,359.80 L202.4,359.21 L202.8,358.63 L203.3,358.05 L203.8,357.45 L204.2,356.86 L204.7,356.26 L205.1,355.59 L205.6,354.87 L206.1,354.17 L206.5,353.48 L207.0,352.81 L207.5,352.14 L207.9,351.47 L208.4,350.80 L208.8,350.13 L209.3,349.53 L209.8,348.97 L210.2,348.42 L210.7,347.86 L211.2,347.27 L211.6,346.70 L212.1,346.04 L212.5,345.32 L213.0,344.62 L213.5,344.09 L213.9,343.70 L214.4,343.33 L214.9,342.94 L215.3,342.52 L215.8,342.11 L216.2,341.68 L216.7,341.22 L217.2,340.77 L217.6,340.43 L218.1,340.16 L218.6,339.91 L219.0,339.49 L219.5,338.74 L219.9,338.01 L220.4,337.45 L220.9,337.03 L221.3,336.56 L221.8,335.91 L222.3,335.06 L222.7,334.13 L223.2,333.20 L223.6,332.29 L224.1,331.31 L224.6,330.14 L225.0,328.83 L225.5,327.52 L226.0,326.24 L226.4,324.99 L226.9,323.76 L227.3,322.52 L227.8,321.23 L228.3,319.79 L228.7,318.23 L229.2,316.60 L229.7,314.92 L230.1,313.22 L230.6,311.55 L231.0,309.84 L231.5,308.06 L232.0,306.12 L232.4,303.89 L232.9,301.10 L233.4,297.72 L233.8,293.79 L234.3,289.17 L234.7,284.41 L235.2,279.93 L235.7,275.40 L236.1,270.75 L236.6,266.09 L237.1,261.48 L237.5,256.90 L238.0,252.32 L238.4,247.76 L238.9,243.29 L239.4,238.77 L239.8,234.13 L240.3,229.08 L240.8,223.79 L241.2,218.69 L241.7,213.91 L242.1,209.34 L242.6,204.98 L243.1,200.78 L243.5,196.66 L244.0,192.82 L244.5,189.20 L244.9,185.58 L245.4,181.83 L245.9,177.90 L246.3,173.56 L246.8,168.44 L247.2,163.25 L247.7,158.82 L248.2,154.96 L248.6,151.86 L249.1,149.20 L249.6,146.37 L250.0,143.38 L250.5,140.54 L250.9,138.42 L251.4,137.10 L251.9,135.90 L252.3,134.66 L252.8,133.72 L253.3,133.32 L253.7,133.73 L254.2,134.88 L254.6,136.01 L255.1,136.52 L255.6,136.50 L256.0,136.50 L256.5,136.91 L257.0,137.75 L257.4,138.76 L257.9,139.75 L258.3,140.81 L258.8,142.18 L259.3,144.51 L259.7,147.68 L260.2,151.10 L260.7,153.87 L261.1,156.04 L261.6,158.25 L262.0,160.85 L262.5,163.60 L263.0,165.95 L263.4,167.41 L263.9,167.98 L264.4,167.95 L264.8,167.74 L265.3,167.33 L265.7,166.50 L266.2,165.19 L266.7,163.54 L267.1,161.84 L267.6,160.22 L268.1,158.75 L268.5,157.47 L269.0,156.33 L269.4,155.38 L269.9,154.71 L270.4,154.41 L270.8,154.57 L271.3,155.00 L271.8,155.46 L272.2,156.01 L272.7,156.89 L273.1,158.79 L273.6,161.72 L274.1,164.90 L274.5,168.52 L275.0,172.55 L275.5,177.03 L275.9,182.34 L276.4,187.78 L276.8,192.63 L277.3,196.98 L277.8,200.97 L278.2,204.79 L278.7,208.61 L279.2,212.24 L279.6,215.45 L280.1,218.79 L280.5,222.93 L281.0,228.10 L281.5,233.58 L281.9,238.79 L282.4,244.10 L282.9,249.31 L283.3,253.96 L283.8,258.02 L284.2,261.70 L284.7,265.37 L285.2,269.40 L285.6,273.77 L286.1,278.30 L286.6,282.79 L287.0,287.20 L287.5,291.58 L287.9,295.84 L288.4,299.90 L288.9,303.73 L289.3,307.40 L289.8,310.91 L290.3,314.26 L290.7,317.45 L291.2,320.50 L291.6,323.47 L292.1,326.32 L292.6,329.00 L293.0,331.43 L293.5,333.57 L294.0,335.33 L294.4,336.82 L294.9,338.20 L295.4,339.41 L295.8,340.46 L296.3,341.45 L296.7,342.46 L297.2,343.48 L297.7,344.47 L298.1,345.42 L298.6,346.34 L299.1,347.27 L299.5,348.14 L300.0,348.96 L300.4,349.77 L300.9,350.72 L301.4,351.77 L301.8,352.81 L302.3,353.69 L302.8,354.44 L303.2,355.17 L303.7,355.96 L304.1,356.79 L304.6,357.62 L305.1,358.42 L305.5,359.21 L306.0,359.99 L306.5,360.74 L306.9,361.46 L307.4,362.17 L307.8,362.88 L308.3,363.58 L308.8,364.27 L309.2,364.84 L309.7,365.31 L310.2,365.74 L310.6,366.27 L311.1,366.88 L311.5,367.46 L312.0,367.93 L312.5,368.31 L312.9,368.68 L313.4,369.02 L313.9,369.33 L314.3,369.63 L314.8,369.88 L315.2,370.06 L315.7,370.24 L316.2,370.51 L316.6,370.84 L317.1,371.18 L317.6,371.47 L318.0,371.73 L318.5,371.99 L318.9,372.31 L319.4,372.67 L319.9,373.03 L320.3,373.30 L320.8,373.48 L321.3,373.66 L321.7,373.85 L322.2,374.05 L322.6,374.24 L323.1,374.48 L323.6,374.75 L324.0,375.02 L324.5,375.24 L325.0,375.44 L325.4,375.62 L325.9,375.71 L326.3,375.71 L326.8,375.72 L327.3,375.86 L327.7,376.14 L328.2,376.41 L328.7,376.59 L329.1,376.70 L329.6,376.80 L330.0,376.91 L330.5,377.04 L331.0,377.16 L331.4,377.25 L331.9,377.30 L332.4,377.34 L332.8,377.43 L333.3,377.54 L333.7,377.65 L334.2,377.71 L334.7,377.72 L335.1,377.72 L335.6,377.88 L336.1,378.17 L336.5,378.45 L337.0,378.60 L337.4,378.63 L337.9,378.65 L338.4,378.70 L338.8,378.76 L339.3,378.82 L339.8,378.89 L340.2,378.97 L340.7,379.05 L341.1,379.13 L341.6,379.19 L342.1,379.25 L342.5,379.30 L343.0,379.35 L343.5,379.39 L343.9,379.46 L344.4,379.56 L344.9,379.65 L345.3,379.73 L345.8,379.81 L346.2,379.88 L346.7,380.02 L347.2,380.20 L347.6,380.39 L348.1,380.48 L348.6,380.47 L349.0,380.47 L349.5,380.49 L349.9,380.52 L350.4,380.55 L350.9,380.65 L351.3,380.80 L351.8,380.94 L352.3,380.99 L352.7,380.95 L353.2,380.91 L353.6,380.96 L354.1,381.08 L354.6,381.20 L355.0,381.27 L355.5,381.29 L356.0,381.34 L356.4,381.45 L356.9,381.65 L357.3,381.94 L357.8,382.35 L358.3,382.82 L358.7,383.25 L359.2,383.54 L359.7,383.64 L360.1,383.53 L360.6,383.24 L361.0,382.85 L361.5,382.50 L362.0,382.25 L362.4,382.11 L362.9,382.05 L363.4,382.03 L363.8,382.03 L364.3,382.04 L364.7,382.09 L365.2,382.15 L365.7,382.22 L366.1,382.22 L366.6,382.16 L367.1,382.11 L367.5,382.15 L368.0,382.28 L368.4,382.41 L368.9,382.52 L369.4,382.61 L369.8,382.71 L370.3,382.78 L370.8,382.84 L371.2,382.91 L371.7,382.88 L372.1,382.80 L372.6,382.78 L373.1,382.99 L373.5,383.38 L374.0,383.76 L374.5,384.05 L374.9,384.17 L375.4,384.12 L375.8,383.92 L376.3,383.70 L376.8,383.54 L377.2,383.38 L377.7,383.22 L378.2,383.09 L378.6,383.08 L379.1,383.16 L379.5,383.27 L380.0,383.43 L380.5,383.66 L380.9,383.98 L381.4,384.36 L381.9,384.72 L382.3,384.93 L382.8,384.83 L383.2,384.48 L383.7,384.08 L384.2,383.82 L384.6,383.75 L385.1,383.75 L385.6,383.85 L386.0,384.00 L386.5,384.16 L386.9,384.15 L387.4,384.00 L387.9,383.85 L388.3,383.78 L388.8,383.80 L389.3,383.81 L389.7,383.82 L390.2,383.82 L390.6,383.82 L391.1,383.86 L391.6,383.93 L392.0,383.99 L392.5,384.05" stroke="#ff1a1a"/>
<path d="M91.8,369.13 L92.3,369.10 L92.7,369.07 L93.2,369.05 L93.7,369.15 L94.1,369.25 L94.6,369.32 L95.0,369.17 L95.5,369.03 L96.0,368.91 L96.4,368.96 L96.9,369.01 L97.4,369.07 L97.8,369.13 L98.3,369.20 L98.7,369.25 L99.2,369.26 L99.7,369.26 L100.1,369.26 L100.6,369.25 L101.1,369.24 L101.5,369.22 L102.0,369.17 L102.4,369.13 L102.9,369.08 L103.4,368.96 L103.8,368.84 L104.3,368.73 L104.8,368.74 L105.2,368.74 L105.7,368.76 L106.1,368.83 L106.6,368.90 L107.1,368.96 L107.5,368.95 L108.0,368.93 L108.5,368.90 L108.9,368.75 L109.4,368.59 L109.8,368.46 L110.3,368.51 L110.8,368.56 L111.2,368.61 L111.7,368.69 L112.2,368.78 L112.6,368.84 L113.1,368.79 L113.5,368.74 L114.0,368.70 L114.5,368.70 L114.9,368.70 L115.4,368.69 L115.9,368.65 L116.3,368.60 L116.8,368.55 L117.2,368.49 L117.7,368.43 L118.2,368.38 L118.6,368.43 L119.1,368.47 L119.6,368.50 L120.0,368.45 L120.5,368.39 L120.9,368.33 L121.4,368.30 L121.9,368.26 L122.3,368.23 L122.8,368.19 L123.3,368.16 L123.7,368.14 L124.2,368.19 L124.6,368.25 L125.1,368.29 L125.6,368.25 L126.0,368.20 L126.5,368.14 L127.0,367.99 L127.4,367.84 L127.9,367.72 L128.3,367.83 L128.8,367.93 L129.3,368.01 L129.7,367.97 L130.2,367.94 L130.7,367.90 L131.1,367.85 L131.6,367.81 L132.0,367.77 L132.5,367.81 L133.0,367.84 L133.4,367.86 L133.9,367.83 L134.4,367.79 L134.8,367.74 L135.3,367.60 L135.7,367.46 L136.2,367.33 L136.7,367.33 L137.1,367.32 L137.6,367.34 L138.1,367.45 L138.5,367.56 L139.0,367.64 L139.4,367.55 L139.9,367.45 L140.4,367.38 L140.8,367.43 L141.3,367.48 L141.8,367.52 L142.2,367.51 L142.7,367.50 L143.2,367.47 L143.6,367.35 L144.1,367.24 L144.5,367.12 L145.0,367.00 L145.5,366.89 L145.9,366.80 L146.4,366.86 L146.9,366.92 L147.3,366.96 L147.8,366.83 L148.2,366.71 L148.7,366.62 L149.2,366.73 L149.6,366.84 L150.1,366.92 L150.6,366.82 L151.0,366.71 L151.5,366.61 L151.9,366.57 L152.4,366.54 L152.9,366.50 L153.3,366.45 L153.8,366.41 L154.3,366.35 L154.7,366.26 L155.2,366.16 L155.6,366.07 L156.1,366.04 L156.6,366.02 L157.0,366.00 L157.5,366.01 L158.0,366.03 L158.4,366.04 L158.9,366.03 L159.3,366.05 L159.8,366.13 L160.3,366.27 L160.7,366.52 L161.2,366.60 L161.7,366.34 L162.1,365.91 L162.6,365.58 L163.0,365.46 L163.5,365.41 L164.0,365.37 L164.4,365.36 L164.9,365.35 L165.4,365.33 L165.8,365.27 L166.3,365.20 L166.7,365.11 L167.2,364.88 L167.7,364.64 L168.1,364.42 L168.6,364.35 L169.1,364.28 L169.5,364.21 L170.0,364.15 L170.4,364.08 L170.9,364.00 L171.4,363.82 L171.8,363.63 L172.3,363.46 L172.8,363.32 L173.2,363.19 L173.7,363.06 L174.1,362.96 L174.6,362.87 L175.1,362.76 L175.5,362.64 L176.0,362.50 L176.5,362.36 L176.9,362.12 L177.4,361.88 L177.8,361.66 L178.3,361.53 L178.8,361.39 L179.2,361.25 L179.7,361.06 L180.2,360.87 L180.6,360.68 L181.1,360.54 L181.5,360.40 L182.0,360.25 L182.5,360.12 L182.9,359.98 L183.4,359.84 L183.9,359.69 L184.3,359.53 L184.8,359.36 L185.2,359.14 L185.7,358.92 L186.2,358.70 L186.6,358.48 L187.1,358.26 L187.6,358.02 L188.0,357.73 L188.5,357.42 L188.9,357.11 L189.4,356.81 L189.9,356.50 L190.3,356.18 L190.8,355.80 L191.3,355.41 L191.7,355.02 L192.2,354.65 L192.7,354.28 L193.1,353.91 L193.6,353.61 L194.0,353.29 L194.5,352.96 L195.0,352.53 L195.4,352.09 L195.9,351.65 L196.4,351.31 L196.8,350.96 L197.3,350.59 L197.7,350.11 L198.2,349.62 L198.7,349.13 L199.1,348.68 L199.6,348.23 L200.1,347.76 L200.5,347.18 L201.0,346.56 L201.4,345.93 L201.9,345.36 L202.4,344.76 L202.8,344.14 L203.3,343.49 L203.8,342.84 L204.2,342.17 L204.7,341.46 L205.1,340.75 L205.6,340.09 L206.1,339.57 L206.5,339.06 L207.0,338.53 L207.5,337.82 L207.9,337.11 L208.4,336.42 L208.8,335.78 L209.3,335.16 L209.8,334.53 L210.2,333.90 L210.7,333.26 L211.2,332.64 L211.6,332.19 L212.1,331.75 L212.5,331.31 L213.0,330.74 L213.5,330.20 L213.9,329.71 L214.4,329.37 L214.9,329.05 L215.3,328.70 L215.8,328.11 L216.2,327.52 L216.7,326.98 L217.2,326.68 L217.6,326.40 L218.1,326.11 L218.6,325.73 L219.0,325.35 L219.5,324.77 L219.9,324.30 L220.4,323.82 L220.9,323.30 L221.3,322.59 L221.8,321.82 L222.3,320.98 L222.7,320.13 L223.2,319.21 L223.6,318.22 L224.1,317.17 L224.6,316.01 L225.0,314.77 L225.5,313.49 L226.0,312.27 L226.4,311.11 L226.9,309.96 L227.3,308.76 L227.8,307.48 L228.3,306.06 L228.7,304.47 L229.2,302.76 L229.7,301.05 L230.1,299.34 L230.6,297.64 L231.0,295.66 L231.5,293.55 L232.0,291.24 L232.4,288.87 L232.9,286.17 L233.4,283.07 L233.8,279.34 L234.3,274.65 L234.7,269.60 L235.2,264.82 L235.7,260.14 L236.1,255.47 L236.6,250.82 L237.1,246.17 L237.5,241.52 L238.0,236.83 L238.4,232.15 L238.9,227.57 L239.4,222.87 L239.8,217.93 L240.3,212.46 L240.8,206.87 L241.2,201.68 L241.7,197.02 L242.1,192.29 L242.6,187.73 L243.1,183.35 L243.5,179.50 L244.0,175.72 L244.5,171.90 L244.9,167.60 L245.4,163.45 L245.9,159.46 L246.3,155.68 L246.8,150.94 L247.2,145.89 L247.7,140.92 L248.2,136.37 L248.6,132.46 L249.1,129.15 L249.6,126.19 L250.0,123.56 L250.5,121.05 L250.9,118.91 L251.4,117.29 L251.9,115.96 L252.3,114.94 L252.8,114.63 L253.3,115.52 L253.7,116.64 L254.2,117.91 L254.6,118.44 L255.1,118.86 L255.6,119.09 L256.0,118.83 L256.5,118.63 L257.0,118.74 L257.4,120.13 L257.9,121.77 L258.3,123.67 L258.8,125.66 L259.3,127.95 L259.7,130.35 L260.2,132.04 L260.7,133.97 L261.1,136.16 L261.6,139.18 L262.0,142.08 L262.5,144.76 L263.0,147.37 L263.4,149.46 L263.9,150.86 L264.4,151.09 L264.8,150.78 L265.3,149.94 L265.7,148.41 L266.2,146.59 L266.7,144.74 L267.1,143.67 L267.6,142.62 L268.1,141.62 L268.5,140.43 L269.0,139.46 L269.4,138.74 L269.9,138.23 L270.4,137.82 L270.8,137.62 L271.3,137.33 L271.8,137.39 L272.2,137.97 L272.7,139.89 L273.1,142.63 L273.6,146.04 L274.1,148.71 L274.5,151.87 L275.0,155.57 L275.5,160.16 L275.9,165.54 L276.4,171.00 L276.8,175.77 L277.3,180.27 L277.8,184.59 L278.2,188.72 L278.7,192.64 L279.2,196.22 L279.6,199.48 L280.1,202.92 L280.5,207.18 L281.0,212.36 L281.5,217.92 L281.9,223.28 L282.4,228.79 L282.9,234.06 L283.3,238.62 L283.8,242.51 L284.2,246.15 L284.7,249.93 L285.2,254.40 L285.6,259.12 L286.1,263.88 L286.6,268.23 L287.0,272.58 L287.5,276.99 L287.9,281.39 L288.4,285.52 L288.9,289.38 L289.3,293.17 L289.8,296.77 L290.3,300.17 L290.7,303.18 L291.2,306.10 L291.6,309.00 L292.1,311.96 L292.6,314.74 L293.0,317.28 L293.5,319.56 L294.0,321.42 L294.4,322.87 L294.9,324.05 L295.4,325.15 L295.8,326.17 L296.3,327.16 L296.7,328.09 L297.2,329.00 L297.7,329.94 L298.1,330.86 L298.6,331.77 L299.1,332.69 L299.5,333.62 L300.0,334.53 L300.4,335.34 L300.9,336.14 L301.4,336.95 L301.8,337.83 L302.3,338.70 L302.8,339.57 L303.2,340.46 L303.7,341.34 L304.1,342.19 L304.6,342.94 L305.1,343.69 L305.5,344.42 L306.0,345.10 L306.5,345.76 L306.9,346.42 L307.4,347.13 L307.8,347.82 L308.3,348.51 L308.8,349.26 L309.2,349.98 L309.7,350.66 L310.2,351.18 L310.6,351.67 L311.1,352.11 L311.5,352.44 L312.0,352.74 L312.5,353.05 L312.9,353.48 L313.4,353.89 L313.9,354.29 L314.3,354.66 L314.8,355.01 L315.2,355.35 L315.7,355.68 L316.2,355.99 L316.6,356.29 L317.1,356.55 L317.6,356.79 L318.0,357.04 L318.5,357.27 L318.9,357.49 L319.4,357.74 L319.9,358.18 L320.3,358.62 L320.8,359.00 L321.3,359.06 L321.7,359.12 L322.2,359.20 L322.6,359.52 L323.1,359.83 L323.6,360.12 L324.0,360.34 L324.5,360.54 L325.0,360.73 L325.4,360.85 L325.9,360.97 L326.3,361.09 L326.8,361.26 L327.3,361.42 L327.7,361.58 L328.2,361.70 L328.7,361.82 L329.1,361.93 L329.6,361.99 L330.0,362.04 L330.5,362.11 L331.0,362.24 L331.4,362.37 L331.9,362.49 L332.4,362.51 L332.8,362.53 L333.3,362.58 L333.7,362.81 L334.2,363.05 L334.7,363.25 L335.1,363.21 L335.6,363.17 L336.1,363.16 L336.5,363.36 L337.0,363.56 L337.4,363.74 L337.9,363.75 L338.4,363.76 L338.8,363.78 L339.3,363.89 L339.8,364.01 L340.2,364.10 L340.7,364.12 L341.1,364.13 L341.6,364.16 L342.1,364.37 L342.5,364.57 L343.0,364.75 L343.5,364.75 L343.9,364.76 L344.4,364.76 L344.9,364.75 L345.3,364.74 L345.8,364.75 L346.2,364.84 L346.7,364.93 L347.2,365.02 L347.6,365.18 L348.1,365.34 L348.6,365.48 L349.0,365.49 L349.5,365.49 L349.9,365.51 L350.4,365.56 L350.9,365.60 L351.3,365.66 L351.8,365.75 L352.3,365.84 L352.7,365.93 L353.2,365.95 L353.6,365.97 L354.1,365.99 L354.6,366.06 L355.0,366.14 L355.5,366.25 L356.0,366.54 L356.4,366.88 L356.9,367.24 L357.3,367.40 L357.8,367.64 L358.3,367.92 L358.7,368.15 L359.2,368.23 L359.7,368.17 L360.1,368.23 L360.6,368.15 L361.0,367.99 L361.5,367.68 L362.0,367.44 L362.4,367.31 L362.9,367.23 L363.4,367.20 L363.8,367.21 L364.3,367.30 L364.7,367.38 L365.2,367.46 L365.7,367.48 L366.1,367.50 L366.6,367.52 L367.1,367.55 L367.5,367.57 L368.0,367.59 L368.4,367.51 L368.9,367.43 L369.4,367.39 L369.8,367.56 L370.3,367.73 L370.8,367.87 L371.2,367.88 L371.7,367.90 L372.1,367.97 L372.6,368.19 L373.1,368.49 L373.5,368.85 L374.0,369.21 L374.5,369.47 L374.9,369.54 L375.4,369.38 L375.8,369.12 L376.3,368.86 L376.8,368.70 L377.2,368.63 L377.7,368.60 L378.2,368.46 L378.6,368.35 L379.1,368.28 L379.5,368.45 L380.0,368.67 L380.5,368.97 L380.9,369.32 L381.4,369.72 L381.9,370.03 L382.3,370.08 L382.8,369.93 L383.2,369.62 L383.7,369.24 L384.2,368.89 L384.6,368.65 L385.1,368.67 L385.6,368.76 L386.0,368.85 L386.5,368.88 L386.9,368.92 L387.4,368.95 L387.9,368.96 L388.3,368.96 L388.8,368.96 L389.3,369.02 L389.7,369.08 L390.2,369.13 L390.6,369.18 L391.1,369.23 L391.6,369.26 L392.0,369.14 L392.5,369.02" stroke="#ff1a1a"/>
<path d="M91.8,354.16 L92.3,354.15 L92.7,354.17 L93.2,354.18 L93.7,354.19 L94.1,354.20 L94.6,354.21 L95.0,354.25 L95.5,354.30 L96.0,354.35 L96.4,354.38 L96.9,354.41 L97.4,354.44 L97.8,354.40 L98.3,354.31 L98.7,354.22 L99.2,354.22 L99.7,354.26 L100.1,354.30 L100.6,354.26 L101.1,354.18 L101.5,354.09 L102.0,354.07 L102.4,354.10 L102.9,354.13 L103.4,354.16 L103.8,354.21 L104.3,354.25 L104.8,354.22 L105.2,354.15 L105.7,354.08 L106.1,354.03 L106.6,354.00 L107.1,353.96 L107.5,353.96 L108.0,353.97 L108.5,353.99 L108.9,354.03 L109.4,354.07 L109.8,354.11 L110.3,354.08 L110.8,354.01 L111.2,353.93 L111.7,353.89 L112.2,353.88 L112.6,353.86 L113.1,353.82 L113.5,353.78 L114.0,353.74 L114.5,353.72 L114.9,353.71 L115.4,353.71 L115.9,353.75 L116.3,353.83 L116.8,353.91 L117.2,353.91 L117.7,353.87 L118.2,353.82 L118.6,353.76 L119.1,353.67 L119.6,353.59 L120.0,353.63 L120.5,353.74 L120.9,353.85 L121.4,353.79 L121.9,353.62 L122.3,353.45 L122.8,353.44 L123.3,353.51 L123.7,353.58 L124.2,353.57 L124.6,353.52 L125.1,353.48 L125.6,353.38 L126.0,353.25 L126.5,353.12 L127.0,353.11 L127.4,353.17 L127.9,353.23 L128.3,353.25 L128.8,353.24 L129.3,353.23 L129.7,353.19 L130.2,353.14 L130.7,353.08 L131.1,353.06 L131.6,353.06 L132.0,353.05 L132.5,353.06 L133.0,353.06 L133.4,353.07 L133.9,353.03 L134.4,352.95 L134.8,352.88 L135.3,352.76 L135.7,352.63 L136.2,352.50 L136.7,352.47 L137.1,352.52 L137.6,352.56 L138.1,352.58 L138.5,352.58 L139.0,352.58 L139.4,352.57 L139.9,352.56 L140.4,352.54 L140.8,352.50 L141.3,352.44 L141.8,352.38 L142.2,352.35 L142.7,352.33 L143.2,352.31 L143.6,352.34 L144.1,352.40 L144.5,352.46 L145.0,352.41 L145.5,352.30 L145.9,352.19 L146.4,352.15 L146.9,352.15 L147.3,352.14 L147.8,352.06 L148.2,351.93 L148.7,351.80 L149.2,351.80 L149.6,351.88 L150.1,351.95 L150.6,351.90 L151.0,351.78 L151.5,351.66 L151.9,351.67 L152.4,351.77 L152.9,351.87 L153.3,351.82 L153.8,351.69 L154.3,351.56 L154.7,351.52 L155.2,351.53 L155.6,351.54 L156.1,351.52 L156.6,351.48 L157.0,351.44 L157.5,351.34 L158.0,351.19 L158.4,351.04 L158.9,351.02 L159.3,351.10 L159.8,351.24 L160.3,351.44 L160.7,351.68 L161.2,351.76 L161.7,351.53 L162.1,351.16 L162.6,350.89 L163.0,350.71 L163.5,350.56 L164.0,350.43 L164.4,350.35 L164.9,350.29 L165.4,350.22 L165.8,350.24 L166.3,350.30 L166.7,350.36 L167.2,350.22 L167.7,349.96 L168.1,349.70 L168.6,349.59 L169.1,349.56 L169.5,349.53 L170.0,349.35 L170.4,349.09 L170.9,348.82 L171.4,348.69 L171.8,348.63 L172.3,348.57 L172.8,348.46 L173.2,348.33 L173.7,348.19 L174.1,348.17 L174.6,348.22 L175.1,348.27 L175.5,348.05 L176.0,347.67 L176.5,347.29 L176.9,347.12 L177.4,347.07 L177.8,347.02 L178.3,346.96 L178.8,346.89 L179.2,346.81 L179.7,346.63 L180.2,346.37 L180.6,346.12 L181.1,345.89 L181.5,345.66 L182.0,345.43 L182.5,345.34 L182.9,345.32 L183.4,345.30 L183.9,345.08 L184.3,344.73 L184.8,344.38 L185.2,344.16 L185.7,344.03 L186.2,343.88 L186.6,343.69 L187.1,343.47 L187.6,343.24 L188.0,342.99 L188.5,342.71 L188.9,342.43 L189.4,342.15 L189.9,341.87 L190.3,341.59 L190.8,341.24 L191.3,340.85 L191.7,340.45 L192.2,340.07 L192.7,339.71 L193.1,339.34 L193.6,338.93 L194.0,338.50 L194.5,338.05 L195.0,337.62 L195.4,337.19 L195.9,336.75 L196.4,336.37 L196.8,336.03 L197.3,335.69 L197.7,335.23 L198.2,334.69 L198.7,334.15 L199.1,333.74 L199.6,333.39 L200.1,333.04 L200.5,332.52 L201.0,331.88 L201.4,331.20 L201.9,330.63 L202.4,330.10 L202.8,329.55 L203.3,328.92 L203.8,328.23 L204.2,327.53 L204.7,326.82 L205.1,326.11 L205.6,325.41 L206.1,324.82 L206.5,324.30 L207.0,323.78 L207.5,323.17 L207.9,322.51 L208.4,321.85 L208.8,321.31 L209.3,320.84 L209.8,320.38 L210.2,319.82 L210.7,319.21 L211.2,318.59 L211.6,317.96 L212.1,317.33 L212.5,316.73 L213.0,316.16 L213.5,315.64 L213.9,315.15 L214.4,314.81 L214.9,314.57 L215.3,314.35 L215.8,313.95 L216.2,313.43 L216.7,312.92 L217.2,312.57 L217.6,312.30 L218.1,312.05 L218.6,311.69 L219.0,311.27 L219.5,310.58 L219.9,310.07 L220.4,309.64 L220.9,309.19 L221.3,308.62 L221.8,307.94 L222.3,307.18 L222.7,306.30 L223.2,305.31 L223.6,304.25 L224.1,303.20 L224.6,302.09 L225.0,300.91 L225.5,299.62 L226.0,298.34 L226.4,297.12 L226.9,295.96 L227.3,294.80 L227.8,293.54 L228.3,292.08 L228.7,290.42 L229.2,288.63 L229.7,286.87 L230.1,285.17 L230.6,283.50 L231.0,281.81 L231.5,280.00 L232.0,277.95 L232.4,275.55 L232.9,272.78 L233.4,269.62 L233.8,265.89 L234.3,261.20 L234.7,256.16 L235.2,251.44 L235.7,246.86 L236.1,242.29 L236.6,237.68 L237.1,233.04 L237.5,228.39 L238.0,223.50 L238.4,218.46 L238.9,213.47 L239.4,208.86 L239.8,204.30 L240.3,199.23 L240.8,193.53 L241.2,187.98 L241.7,182.96 L242.1,178.51 L242.6,174.48 L243.1,170.62 L243.5,166.65 L244.0,162.59 L244.5,158.54 L244.9,154.64 L245.4,151.04 L245.9,147.54 L246.3,143.10 L246.8,137.30 L247.2,131.17 L247.7,126.44 L248.2,122.58 L248.6,119.40 L249.1,116.02 L249.6,112.61 L250.0,109.51 L250.5,107.40 L250.9,106.16 L251.4,105.45 L251.9,104.03 L252.3,102.41 L252.8,101.39 L253.3,101.28 L253.7,101.60 L254.2,102.23 L254.6,103.47 L255.1,104.93 L255.6,106.29 L256.0,106.69 L256.5,106.61 L257.0,106.64 L257.4,107.52 L257.9,109.03 L258.3,110.84 L258.8,112.68 L259.3,114.66 L259.7,116.92 L260.2,119.16 L260.7,121.48 L261.1,123.94 L261.6,126.53 L262.0,129.07 L262.5,131.35 L263.0,133.28 L263.4,134.73 L263.9,135.60 L264.4,136.29 L264.8,136.66 L265.3,136.55 L265.7,135.52 L266.2,133.91 L266.7,132.14 L267.1,130.61 L267.6,129.28 L268.1,128.05 L268.5,127.02 L269.0,126.23 L269.4,125.68 L269.9,125.46 L270.4,125.34 L270.8,125.46 L271.3,125.54 L271.8,125.79 L272.2,126.38 L272.7,126.92 L273.1,128.09 L273.6,130.19 L274.1,133.74 L274.5,138.37 L275.0,143.37 L275.5,148.08 L275.9,153.19 L276.4,158.43 L276.8,163.25 L277.3,167.88 L277.8,172.31 L278.2,176.25 L278.7,179.84 L279.2,183.10 L279.6,186.10 L280.1,189.39 L280.5,193.52 L281.0,198.78 L281.5,204.44 L281.9,209.88 L282.4,215.32 L282.9,220.49 L283.3,224.98 L283.8,229.03 L284.2,232.91 L284.7,236.86 L285.2,240.96 L285.6,245.23 L286.1,249.62 L286.6,254.17 L287.0,258.83 L287.5,263.51 L287.9,267.85 L288.4,271.79 L288.9,275.47 L289.3,279.07 L289.8,282.56 L290.3,285.88 L290.7,289.10 L291.2,292.27 L291.6,295.39 L292.1,298.24 L292.6,300.83 L293.0,303.16 L293.5,305.31 L294.0,307.11 L294.4,308.52 L294.9,309.79 L295.4,310.93 L295.8,312.00 L296.3,313.00 L296.7,313.95 L297.2,314.85 L297.7,315.71 L298.1,316.54 L298.6,317.37 L299.1,318.21 L299.5,319.07 L300.0,319.93 L300.4,320.76 L300.9,321.56 L301.4,322.36 L301.8,323.12 L302.3,323.86 L302.8,324.59 L303.2,325.44 L303.7,326.36 L304.1,327.27 L304.6,328.12 L305.1,328.93 L305.5,329.74 L306.0,330.46 L306.5,331.12 L306.9,331.76 L307.4,332.47 L307.8,333.21 L308.3,333.92 L308.8,334.56 L309.2,335.14 L309.7,335.70 L310.2,336.22 L310.6,336.71 L311.1,337.16 L311.5,337.60 L312.0,338.02 L312.5,338.41 L312.9,338.84 L313.4,339.27 L313.9,339.69 L314.3,340.03 L314.8,340.33 L315.2,340.62 L315.7,340.87 L316.2,341.10 L316.6,341.32 L317.1,341.62 L317.6,341.97 L318.0,342.32 L318.5,342.61 L318.9,342.87 L319.4,343.13 L319.9,343.36 L320.3,343.58 L320.8,343.80 L321.3,344.02 L321.7,344.25 L322.2,344.47 L322.6,344.72 L323.1,344.97 L323.6,345.21 L324.0,345.39 L324.5,345.52 L325.0,345.65 L325.4,345.81 L325.9,346.00 L326.3,346.18 L326.8,346.38 L327.3,346.59 L327.7,346.80 L328.2,346.89 L328.7,346.90 L329.1,346.91 L329.6,347.04 L330.0,347.24 L330.5,347.44 L331.0,347.44 L331.4,347.32 L331.9,347.19 L332.4,347.31 L332.8,347.57 L333.3,347.82 L333.7,348.00 L334.2,348.13 L334.7,348.25 L335.1,348.31 L335.6,348.34 L336.1,348.36 L336.5,348.41 L337.0,348.46 L337.4,348.51 L337.9,348.59 L338.4,348.67 L338.8,348.75 L339.3,348.88 L339.8,349.04 L340.2,349.19 L340.7,349.27 L341.1,349.31 L341.6,349.35 L342.1,349.43 L342.5,349.53 L343.0,349.63 L343.5,349.74 L343.9,349.85 L344.4,349.96 L344.9,350.11 L345.3,350.28 L345.8,350.45 L346.2,350.50 L346.7,350.48 L347.2,350.47 L347.6,350.60 L348.1,350.82 L348.6,351.04 L349.0,351.10 L349.5,351.07 L349.9,351.04 L350.4,350.99 L350.9,350.93 L351.3,350.86 L351.8,350.92 L352.3,351.05 L352.7,351.18 L353.2,351.27 L353.6,351.34 L354.1,351.41 L354.6,351.51 L355.0,351.62 L355.5,351.74 L356.0,351.87 L356.4,352.02 L356.9,352.25 L357.3,352.56 L357.8,352.96 L358.3,353.39 L358.7,353.81 L359.2,354.10 L359.7,354.18 L360.1,354.07 L360.6,353.82 L361.0,353.52 L361.5,353.11 L362.0,352.69 L362.4,352.37 L362.9,352.22 L363.4,352.17 L363.8,352.16 L364.3,352.27 L364.7,352.44 L365.2,352.61 L365.7,352.65 L366.1,352.62 L366.6,352.58 L367.1,352.66 L367.5,352.82 L368.0,352.98 L368.4,353.00 L368.9,352.95 L369.4,352.90 L369.8,352.98 L370.3,353.12 L370.8,353.26 L371.2,353.26 L371.7,353.20 L372.1,353.17 L372.6,353.33 L373.1,353.63 L373.5,354.00 L374.0,354.39 L374.5,354.68 L374.9,354.79 L375.4,354.61 L375.8,354.26 L376.3,353.91 L376.8,353.64 L377.2,353.48 L377.7,353.38 L378.2,353.43 L378.6,353.55 L379.1,353.69 L379.5,353.80 L380.0,353.93 L380.5,354.14 L380.9,354.43 L381.4,354.75 L381.9,355.02 L382.3,355.13 L382.8,355.06 L383.2,354.84 L383.7,354.52 L384.2,354.23 L384.6,354.01 L385.1,353.91 L385.6,353.89 L386.0,353.89 L386.5,354.03 L386.9,354.24 L387.4,354.46 L387.9,354.43 L388.3,354.26 L388.8,354.09 L389.3,354.09 L389.7,354.18 L390.2,354.28 L390.6,354.26 L391.1,354.16 L391.6,354.07 L392.0,354.09 L392.5,354.17" stroke="#ff1a1a"/>
<path d="M91.8,339.88 L92.3,339.88 L92.7,339.88 L93.2,339.85 L93.7,339.81 L94.1,339.78 L94.6,339.74 L95.0,339.70 L95.5,339.66 L96.0,339.64 L96.4,339.63 L96.9,339.62 L97.4,339.60 L97.8,339.58 L98.3,339.56 L98.7,339.53 L99.2,339.51 L99.7,339.49 L100.1,339.50 L100.6,339.53 L101.1,339.56 L101.5,339.52 L102.0,339.46 L102.4,339.40 L102.9,339.35 L103.4,339.31 L103.8,339.27 L104.3,339.26 L104.8,339.27 L105.2,339.28 L105.7,339.24 L106.1,339.19 L106.6,339.15 L107.1,339.09 L107.5,339.02 L108.0,338.95 L108.5,339.04 L108.9,339.16 L109.4,339.29 L109.8,339.21 L110.3,339.07 L110.8,338.93 L111.2,339.01 L111.7,339.15 L112.2,339.29 L112.6,339.26 L113.1,339.19 L113.5,339.12 L114.0,339.04 L114.5,338.97 L114.9,338.89 L115.4,338.85 L115.9,338.81 L116.3,338.78 L116.8,338.79 L117.2,338.81 L117.7,338.83 L118.2,338.82 L118.6,338.80 L119.1,338.77 L119.6,338.73 L120.0,338.67 L120.5,338.61 L120.9,338.64 L121.4,338.69 L121.9,338.73 L122.3,338.70 L122.8,338.64 L123.3,338.59 L123.7,338.62 L124.2,338.67 L124.6,338.73 L125.1,338.76 L125.6,338.79 L126.0,338.81 L126.5,338.83 L127.0,338.84 L127.4,338.85 L127.9,338.67 L128.3,338.44 L128.8,338.20 L129.3,338.17 L129.7,338.20 L130.2,338.22 L130.7,338.26 L131.1,338.31 L131.6,338.35 L132.0,338.35 L132.5,338.33 L133.0,338.32 L133.4,338.29 L133.9,338.26 L134.4,338.23 L134.8,338.24 L135.3,338.25 L135.7,338.26 L136.2,338.23 L136.7,338.18 L137.1,338.14 L137.6,338.09 L138.1,338.04 L138.5,337.99 L139.0,337.89 L139.4,337.78 L139.9,337.66 L140.4,337.65 L140.8,337.67 L141.3,337.68 L141.8,337.75 L142.2,337.83 L142.7,337.91 L143.2,337.78 L143.6,337.60 L144.1,337.42 L144.5,337.37 L145.0,337.35 L145.5,337.34 L145.9,337.35 L146.4,337.36 L146.9,337.37 L147.3,337.35 L147.8,337.32 L148.2,337.30 L148.7,337.24 L149.2,337.19 L149.6,337.13 L150.1,337.10 L150.6,337.08 L151.0,337.06 L151.5,337.07 L151.9,337.08 L152.4,337.09 L152.9,336.94 L153.3,336.75 L153.8,336.55 L154.3,336.52 L154.7,336.52 L155.2,336.53 L155.6,336.52 L156.1,336.50 L156.6,336.48 L157.0,336.49 L157.5,336.51 L158.0,336.53 L158.4,336.51 L158.9,336.47 L159.3,336.46 L159.8,336.42 L160.3,336.49 L160.7,336.67 L161.2,336.79 L161.7,336.60 L162.1,336.23 L162.6,335.93 L163.0,335.76 L163.5,335.67 L164.0,335.67 L164.4,335.69 L164.9,335.71 L165.4,335.61 L165.8,335.48 L166.3,335.34 L166.7,335.30 L167.2,335.28 L167.7,335.26 L168.1,335.15 L168.6,335.00 L169.1,334.86 L169.5,334.72 L170.0,334.59 L170.4,334.45 L170.9,334.27 L171.4,334.07 L171.8,333.86 L172.3,333.81 L172.8,333.81 L173.2,333.80 L173.7,333.71 L174.1,333.59 L174.6,333.48 L175.1,333.27 L175.5,333.03 L176.0,332.79 L176.5,332.62 L176.9,332.46 L177.4,332.31 L177.8,332.26 L178.3,332.24 L178.8,332.21 L179.2,332.00 L179.7,331.72 L180.2,331.45 L180.6,331.24 L181.1,331.04 L181.5,330.84 L182.0,330.73 L182.5,330.64 L182.9,330.54 L183.4,330.35 L183.9,330.13 L184.3,329.91 L184.8,329.67 L185.2,329.42 L185.7,329.17 L186.2,328.95 L186.6,328.73 L187.1,328.50 L187.6,328.30 L188.0,328.09 L188.5,327.87 L188.9,327.62 L189.4,327.34 L189.9,327.05 L190.3,326.72 L190.8,326.37 L191.3,326.01 L191.7,325.65 L192.2,325.29 L192.7,324.91 L193.1,324.58 L193.6,324.25 L194.0,323.91 L194.5,323.54 L195.0,323.17 L195.4,322.79 L195.9,322.32 L196.4,321.82 L196.8,321.31 L197.3,320.85 L197.7,320.39 L198.2,319.93 L198.7,319.46 L199.1,318.99 L199.6,318.52 L200.1,318.10 L200.5,317.69 L201.0,317.23 L201.4,316.60 L201.9,315.89 L202.4,315.16 L202.8,314.47 L203.3,313.78 L203.8,313.08 L204.2,312.56 L204.7,312.09 L205.1,311.63 L205.6,311.00 L206.1,310.34 L206.5,309.69 L207.0,309.08 L207.5,308.49 L207.9,307.90 L208.4,307.44 L208.8,307.02 L209.3,306.61 L209.8,306.01 L210.2,305.37 L210.7,304.72 L211.2,304.18 L211.6,303.68 L212.1,303.20 L212.5,302.67 L213.0,302.15 L213.5,301.67 L213.9,301.29 L214.4,300.95 L214.9,300.64 L215.3,300.27 L215.8,299.89 L216.2,299.52 L216.7,299.17 L217.2,298.84 L217.6,298.51 L218.1,298.23 L218.6,297.96 L219.0,297.71 L219.5,297.07 L219.9,296.42 L220.4,295.76 L220.9,295.20 L221.3,294.64 L221.8,294.02 L222.3,293.23 L222.7,292.31 L223.2,291.31 L223.6,290.29 L224.1,289.21 L224.6,288.01 L225.0,286.76 L225.5,285.50 L226.0,284.31 L226.4,283.16 L226.9,282.01 L227.3,280.82 L227.8,279.49 L228.3,278.00 L228.7,276.33 L229.2,274.59 L229.7,272.81 L230.1,271.03 L230.6,269.25 L231.0,267.42 L231.5,265.44 L232.0,263.34 L232.4,260.98 L232.9,258.29 L233.4,255.04 L233.8,251.18 L234.3,246.34 L234.7,241.23 L235.2,236.43 L235.7,231.72 L236.1,226.97 L236.6,222.20 L237.1,217.43 L237.5,212.63 L238.0,207.81 L238.4,203.02 L238.9,198.29 L239.4,193.49 L239.8,188.43 L240.3,183.17 L240.8,177.76 L241.2,172.80 L241.7,168.04 L242.1,163.40 L242.6,158.93 L243.1,154.46 L243.5,150.03 L244.0,145.63 L244.5,141.55 L244.9,137.53 L245.4,133.70 L245.9,129.67 L246.3,125.13 L246.8,119.55 L247.2,114.03 L247.7,109.39 L248.2,105.22 L248.6,101.71 L249.1,98.63 L249.6,95.95 L250.0,93.37 L250.5,90.92 L250.9,88.84 L251.4,86.98 L251.9,85.15 L252.3,83.63 L252.8,83.73 L253.3,84.68 L253.7,85.86 L254.2,86.65 L254.6,87.22 L255.1,87.67 L255.6,88.46 L256.0,89.39 L256.5,90.38 L257.0,90.89 L257.4,91.41 L257.9,92.18 L258.3,93.35 L258.8,94.84 L259.3,96.63 L259.7,98.92 L260.2,101.53 L260.7,104.35 L261.1,107.11 L261.6,109.83 L262.0,112.45 L262.5,115.26 L263.0,117.81 L263.4,119.86 L263.9,120.78 L264.4,120.97 L264.8,120.65 L265.3,120.01 L265.7,119.03 L266.2,117.77 L266.7,116.40 L267.1,115.00 L267.6,113.62 L268.1,112.04 L268.5,110.54 L269.0,109.27 L269.4,109.19 L269.9,109.64 L270.4,110.12 L270.8,109.67 L271.3,109.14 L271.8,108.97 L272.2,109.73 L272.7,110.99 L273.1,113.10 L273.6,116.50 L274.1,120.25 L274.5,124.42 L275.0,128.44 L275.5,132.76 L275.9,137.90 L276.4,143.07 L276.8,147.66 L277.3,151.98 L277.8,156.18 L278.2,160.20 L278.7,164.01 L279.2,167.87 L279.6,171.38 L280.1,175.06 L280.5,179.27 L281.0,184.46 L281.5,190.03 L281.9,195.40 L282.4,200.87 L282.9,206.10 L283.3,210.76 L283.8,214.85 L284.2,218.68 L284.7,222.41 L285.2,226.46 L285.6,230.79 L286.1,235.27 L286.6,239.72 L287.0,244.17 L287.5,248.81 L287.9,253.37 L288.4,257.64 L288.9,261.57 L289.3,265.31 L289.8,268.87 L290.3,272.13 L290.7,275.19 L291.2,278.16 L291.6,281.15 L292.1,284.05 L292.6,286.75 L293.0,289.27 L293.5,291.48 L294.0,293.24 L294.4,294.37 L294.9,295.36 L295.4,296.26 L295.8,297.23 L296.3,298.18 L296.7,299.08 L297.2,299.98 L297.7,300.86 L298.1,301.72 L298.6,302.54 L299.1,303.36 L299.5,304.19 L300.0,305.03 L300.4,305.88 L300.9,306.73 L301.4,307.58 L301.8,308.44 L302.3,309.28 L302.8,310.09 L303.2,310.88 L303.7,311.66 L304.1,312.51 L304.6,313.37 L305.1,314.23 L305.5,314.98 L306.0,315.68 L306.5,316.37 L306.9,317.09 L307.4,317.80 L307.8,318.49 L308.3,319.11 L308.8,319.68 L309.2,320.23 L309.7,320.80 L310.2,321.37 L310.6,321.90 L311.1,322.39 L311.5,322.86 L312.0,323.30 L312.5,323.71 L312.9,324.09 L313.4,324.46 L313.9,324.74 L314.3,324.98 L314.8,325.21 L315.2,325.55 L315.7,325.92 L316.2,326.28 L316.6,326.60 L317.1,326.91 L317.6,327.21 L318.0,327.59 L318.5,328.00 L318.9,328.40 L319.4,328.57 L319.9,328.66 L320.3,328.75 L320.8,329.03 L321.3,329.37 L321.7,329.70 L322.2,329.88 L322.6,330.00 L323.1,330.11 L323.6,330.28 L324.0,330.46 L324.5,330.62 L325.0,330.95 L325.4,331.31 L325.9,331.67 L326.3,331.72 L326.8,331.67 L327.3,331.62 L327.7,331.65 L328.2,331.70 L328.7,331.74 L329.1,331.94 L329.6,332.18 L330.0,332.42 L330.5,332.48 L331.0,332.48 L331.4,332.47 L331.9,332.68 L332.4,332.96 L332.8,333.23 L333.3,333.35 L333.7,333.42 L334.2,333.50 L334.7,333.52 L335.1,333.53 L335.6,333.53 L336.1,333.66 L336.5,333.83 L337.0,334.00 L337.4,333.99 L337.9,333.94 L338.4,333.89 L338.8,333.96 L339.3,334.07 L339.8,334.18 L340.2,334.35 L340.7,334.55 L341.1,334.74 L341.6,334.79 L342.1,334.81 L342.5,334.83 L343.0,334.86 L343.5,334.89 L343.9,334.93 L344.4,335.01 L344.9,335.11 L345.3,335.20 L345.8,335.27 L346.2,335.34 L346.7,335.40 L347.2,335.52 L347.6,335.66 L348.1,335.79 L348.6,335.90 L349.0,335.99 L349.5,336.08 L349.9,336.10 L350.4,336.09 L350.9,336.08 L351.3,336.22 L351.8,336.41 L352.3,336.59 L352.7,336.61 L353.2,336.58 L353.6,336.55 L354.1,336.57 L354.6,336.60 L355.0,336.63 L355.5,336.77 L356.0,336.96 L356.4,337.19 L356.9,337.43 L357.3,337.73 L357.8,338.12 L358.3,338.48 L358.7,338.76 L359.2,338.90 L359.7,339.01 L360.1,338.98 L360.6,338.81 L361.0,338.45 L361.5,338.09 L362.0,337.81 L362.4,337.67 L362.9,337.62 L363.4,337.61 L363.8,337.61 L364.3,337.63 L364.7,337.64 L365.2,337.73 L365.7,337.84 L366.1,337.95 L366.6,337.95 L367.1,337.93 L367.5,337.91 L368.0,338.01 L368.4,338.15 L368.9,338.29 L369.4,338.37 L369.8,338.43 L370.3,338.50 L370.8,338.37 L371.2,338.19 L371.7,338.03 L372.1,338.10 L372.6,338.30 L373.1,338.59 L373.5,339.07 L374.0,339.58 L374.5,339.99 L374.9,340.01 L375.4,339.79 L375.8,339.47 L376.3,339.22 L376.8,339.08 L377.2,339.01 L377.7,338.95 L378.2,338.91 L378.6,338.90 L379.1,338.93 L379.5,338.99 L380.0,339.11 L380.5,339.34 L380.9,339.66 L381.4,340.01 L381.9,340.21 L382.3,340.22 L382.8,340.05 L383.2,339.92 L383.7,339.79 L384.2,339.70 L384.6,339.59 L385.1,339.54 L385.6,339.54 L386.0,339.48 L386.5,339.41 L386.9,339.34 L387.4,339.29 L387.9,339.25 L388.3,339.21 L388.8,339.39 L389.3,339.65 L389.7,339.90 L390.2,339.81 L390.6,339.63 L391.1,339.44 L391.6,339.44 L392.0,339.48 L392.5,339.53" stroke="#ff1a1a"/>
<path d="M91.8,304.75 L92.3,304.77 L92.7,304.89 L93.2,305.02 L93.7,305.06 L94.1,304.95 L94.6,304.84 L95.0,304.80 L95.5,304.90 L96.0,305.00 L96.4,305.06 L96.9,305.01 L97.4,304.97 L97.8,304.92 L98.3,304.85 L98.7,304.78 L99.2,304.76 L99.7,304.83 L100.1,304.90 L100.6,304.90 L101.1,304.73 L101.5,304.57 L102.0,304.55 L102.4,304.82 L102.9,305.09 L103.4,305.22 L103.8,305.08 L104.3,304.94 L104.8,304.86 L105.2,304.87 L105.7,304.89 L106.1,304.89 L106.6,304.84 L107.1,304.80 L107.5,304.75 L108.0,304.72 L108.5,304.69 L108.9,304.70 L109.4,304.78 L109.8,304.87 L110.3,304.86 L110.8,304.69 L111.2,304.52 L111.7,304.45 L112.2,304.57 L112.6,304.69 L113.1,304.73 L113.5,304.61 L114.0,304.49 L114.5,304.40 L114.9,304.36 L115.4,304.32 L115.9,304.33 L116.3,304.43 L116.8,304.54 L117.2,304.56 L117.7,304.41 L118.2,304.27 L118.6,304.18 L119.1,304.21 L119.6,304.25 L120.0,304.27 L120.5,304.29 L120.9,304.31 L121.4,304.29 L121.9,304.20 L122.3,304.12 L122.8,304.04 L123.3,303.98 L123.7,303.92 L124.2,303.87 L124.6,303.87 L125.1,303.86 L125.6,303.87 L126.0,303.91 L126.5,303.95 L127.0,303.98 L127.4,304.00 L127.9,304.02 L128.3,304.03 L128.8,304.03 L129.3,304.02 L129.7,303.99 L130.2,303.89 L130.7,303.79 L131.1,303.73 L131.6,303.75 L132.0,303.77 L132.5,303.79 L133.0,303.81 L133.4,303.82 L133.9,303.83 L134.4,303.82 L134.8,303.81 L135.3,303.80 L135.7,303.79 L136.2,303.79 L136.7,303.78 L137.1,303.74 L137.6,303.71 L138.1,303.66 L138.5,303.57 L139.0,303.48 L139.4,303.44 L139.9,303.49 L140.4,303.54 L140.8,303.57 L141.3,303.56 L141.8,303.55 L142.2,303.52 L142.7,303.47 L143.2,303.42 L143.6,303.38 L144.1,303.37 L144.5,303.36 L145.0,303.34 L145.5,303.32 L145.9,303.29 L146.4,303.22 L146.9,303.08 L147.3,302.94 L147.8,302.81 L148.2,302.73 L148.7,302.64 L149.2,302.60 L149.6,302.68 L150.1,302.75 L150.6,302.79 L151.0,302.73 L151.5,302.68 L151.9,302.64 L152.4,302.64 L152.9,302.64 L153.3,302.61 L153.8,302.53 L154.3,302.46 L154.7,302.42 L155.2,302.49 L155.6,302.55 L156.1,302.55 L156.6,302.44 L157.0,302.33 L157.5,302.22 L158.0,302.11 L158.4,302.00 L158.9,301.96 L159.3,302.09 L159.8,302.29 L160.3,302.58 L160.7,302.85 L161.2,302.95 L161.7,302.71 L162.1,302.32 L162.6,302.04 L163.0,301.92 L163.5,301.91 L164.0,301.91 L164.4,301.86 L164.9,301.74 L165.4,301.61 L165.8,301.53 L166.3,301.55 L166.7,301.58 L167.2,301.55 L167.7,301.42 L168.1,301.29 L168.6,301.22 L169.1,301.27 L169.5,301.32 L170.0,301.35 L170.4,301.35 L170.9,301.35 L171.4,301.34 L171.8,301.33 L172.3,301.31 L172.8,301.29 L173.2,301.27 L173.7,301.26 L174.1,301.20 L174.6,301.05 L175.1,300.91 L175.5,300.81 L176.0,300.83 L176.5,300.84 L176.9,300.80 L177.4,300.66 L177.8,300.51 L178.3,300.42 L178.8,300.47 L179.2,300.51 L179.7,300.52 L180.2,300.44 L180.6,300.37 L181.1,300.30 L181.5,300.24 L182.0,300.19 L182.5,300.16 L182.9,300.21 L183.4,300.25 L183.9,300.22 L184.3,300.04 L184.8,299.85 L185.2,299.71 L185.7,299.66 L186.2,299.61 L186.6,299.56 L187.1,299.53 L187.6,299.49 L188.0,299.42 L188.5,299.28 L188.9,299.14 L189.4,298.99 L189.9,298.84 L190.3,298.68 L190.8,298.53 L191.3,298.40 L191.7,298.27 L192.2,298.13 L192.7,297.97 L193.1,297.81 L193.6,297.65 L194.0,297.49 L194.5,297.32 L195.0,297.14 L195.4,296.91 L195.9,296.68 L196.4,296.48 L196.8,296.34 L197.3,296.18 L197.7,295.98 L198.2,295.72 L198.7,295.45 L199.1,295.17 L199.6,294.87 L200.1,294.56 L200.5,294.24 L201.0,293.89 L201.4,293.55 L201.9,293.24 L202.4,292.99 L202.8,292.74 L203.3,292.47 L203.8,292.18 L204.2,291.89 L204.7,291.57 L205.1,291.23 L205.6,290.89 L206.1,290.49 L206.5,290.00 L207.0,289.51 L207.5,289.08 L207.9,288.79 L208.4,288.49 L208.8,288.15 L209.3,287.71 L209.8,287.27 L210.2,286.87 L210.7,286.54 L211.2,286.21 L211.6,285.87 L212.1,285.51 L212.5,285.14 L213.0,284.73 L213.5,284.23 L213.9,283.71 L214.4,283.22 L214.9,282.78 L215.3,282.35 L215.8,281.88 L216.2,281.35 L216.7,280.79 L217.2,280.26 L217.6,279.84 L218.1,279.34 L218.6,278.62 L219.0,277.60 L219.5,276.97 L219.9,276.27 L220.4,275.51 L220.9,274.64 L221.3,273.73 L221.8,272.87 L222.3,271.94 L222.7,270.87 L223.2,269.58 L223.6,268.22 L224.1,266.85 L224.6,265.51 L225.0,264.06 L225.5,262.47 L226.0,260.70 L226.4,258.80 L226.9,256.70 L227.3,254.32 L227.8,251.69 L228.3,248.81 L228.7,245.67 L229.2,242.44 L229.7,239.24 L230.1,236.17 L230.6,233.23 L231.0,230.43 L231.5,227.71 L232.0,224.90 L232.4,221.87 L232.9,218.48 L233.4,214.71 L233.8,210.37 L234.3,205.26 L234.7,197.18 L235.2,189.27 L235.7,184.77 L236.1,181.10 L236.6,178.02 L237.1,175.34 L237.5,172.70 L238.0,169.70 L238.4,166.24 L238.9,162.81 L239.4,159.55 L239.8,156.64 L240.3,153.76 L240.8,150.79 L241.2,147.69 L241.7,144.62 L242.1,141.51 L242.6,138.27 L243.1,134.99 L243.5,131.75 L244.0,128.66 L244.5,125.40 L244.9,122.04 L245.4,118.66 L245.9,115.51 L246.3,112.34 L246.8,108.87 L247.2,105.61 L247.7,102.95 L248.2,101.04 L248.6,99.32 L249.1,97.76 L249.6,96.33 L250.0,95.11 L250.5,93.90 L250.9,92.72 L251.4,91.99 L251.9,91.63 L252.3,91.81 L252.8,92.01 L253.3,92.27 L253.7,92.59 L254.2,92.88 L254.6,92.78 L255.1,91.93 L255.6,91.00 L256.0,89.90 L256.5,89.07 L257.0,88.57 L257.4,88.70 L257.9,88.82 L258.3,88.98 L258.8,89.08 L259.3,89.19 L259.7,89.26 L260.2,89.16 L260.7,89.03 L261.1,89.22 L261.6,89.81 L262.0,90.95 L262.5,92.53 L263.0,93.90 L263.4,94.29 L263.9,93.83 L264.4,92.95 L264.8,92.38 L265.3,92.02 L265.7,91.63 L266.2,91.04 L266.7,90.72 L267.1,90.92 L267.6,91.16 L268.1,91.44 L268.5,91.99 L269.0,93.55 L269.4,95.46 L269.9,97.53 L270.4,100.06 L270.8,102.86 L271.3,105.97 L271.8,109.40 L272.2,113.67 L272.7,119.98 L273.1,127.35 L273.6,134.85 L274.1,141.60 L274.5,148.56 L275.0,155.52 L275.5,162.22 L275.9,168.39 L276.4,173.63 L276.8,177.84 L277.3,181.24 L277.8,184.33 L278.2,187.46 L278.7,190.94 L279.2,194.35 L279.6,197.62 L280.1,200.69 L280.5,203.93 L281.0,207.33 L281.5,210.91 L281.9,214.47 L282.4,217.95 L282.9,221.29 L283.3,224.51 L283.8,227.55 L284.2,230.51 L284.7,233.47 L285.2,236.39 L285.6,239.21 L286.1,241.90 L286.6,244.46 L287.0,246.87 L287.5,249.02 L287.9,250.87 L288.4,252.51 L288.9,254.07 L289.3,255.47 L289.8,256.69 L290.3,257.82 L290.7,258.96 L291.2,260.20 L291.6,261.36 L292.1,262.40 L292.6,263.25 L293.0,264.05 L293.5,264.90 L294.0,265.85 L294.4,266.80 L294.9,267.70 L295.4,268.56 L295.8,269.40 L296.3,270.22 L296.7,271.01 L297.2,271.79 L297.7,272.56 L298.1,273.30 L298.6,274.03 L299.1,274.77 L299.5,275.53 L300.0,276.28 L300.4,277.13 L300.9,278.04 L301.4,278.94 L301.8,279.82 L302.3,280.69 L302.8,281.54 L303.2,282.38 L303.7,283.25 L304.1,284.08 L304.6,284.91 L305.1,285.76 L305.5,286.57 L306.0,287.30 L306.5,287.88 L306.9,288.43 L307.4,289.00 L307.8,289.61 L308.3,290.19 L308.8,290.71 L309.2,291.17 L309.7,291.58 L310.2,292.02 L310.6,292.56 L311.1,293.08 L311.5,293.48 L312.0,293.65 L312.5,293.81 L312.9,294.00 L313.4,294.26 L313.9,294.51 L314.3,294.77 L314.8,295.04 L315.2,295.31 L315.7,295.53 L316.2,295.66 L316.6,295.78 L317.1,295.97 L317.6,296.33 L318.0,296.68 L318.5,296.94 L318.9,297.01 L319.4,297.07 L319.9,297.17 L320.3,297.34 L320.8,297.50 L321.3,297.64 L321.7,297.72 L322.2,297.81 L322.6,297.95 L323.1,298.21 L323.6,298.47 L324.0,298.68 L324.5,298.77 L325.0,298.87 L325.4,298.99 L325.9,299.17 L326.3,299.35 L326.8,299.49 L327.3,299.59 L327.7,299.68 L328.2,299.78 L328.7,299.87 L329.1,299.97 L329.6,300.08 L330.0,300.24 L330.5,300.38 L331.0,300.51 L331.4,300.59 L331.9,300.66 L332.4,300.74 L332.8,300.83 L333.3,300.91 L333.7,300.98 L334.2,301.00 L334.7,301.03 L335.1,301.12 L335.6,301.35 L336.1,301.58 L336.5,301.72 L337.0,301.69 L337.4,301.66 L337.9,301.70 L338.4,301.89 L338.8,302.07 L339.3,302.21 L339.8,302.25 L340.2,302.30 L340.7,302.35 L341.1,302.43 L341.6,302.51 L342.1,302.55 L342.5,302.51 L343.0,302.46 L343.5,302.49 L343.9,302.65 L344.4,302.82 L344.9,302.89 L345.3,302.79 L345.8,302.69 L346.2,302.69 L346.7,302.87 L347.2,303.04 L347.6,303.17 L348.1,303.20 L348.6,303.23 L349.0,303.29 L349.5,303.42 L349.9,303.54 L350.4,303.62 L350.9,303.62 L351.3,303.61 L351.8,303.67 L352.3,303.85 L352.7,304.03 L353.2,304.13 L353.6,304.10 L354.1,304.06 L354.6,304.06 L355.0,304.14 L355.5,304.24 L356.0,304.31 L356.4,304.32 L356.9,304.41 L357.3,304.70 L357.8,305.28 L358.3,305.89 L358.7,306.43 L359.2,306.79 L359.7,306.94 L360.1,306.75 L360.6,306.13 L361.0,305.46 L361.5,304.96 L362.0,304.81 L362.4,304.75 L362.9,304.74 L363.4,304.73 L363.8,304.76 L364.3,304.76 L364.7,304.68 L365.2,304.61 L365.7,304.57 L366.1,304.61 L366.6,304.65 L367.1,304.70 L367.5,304.77 L368.0,304.84 L368.4,304.91 L368.9,304.98 L369.4,305.05 L369.8,305.06 L370.3,304.93 L370.8,304.80 L371.2,304.75 L371.7,304.85 L372.1,304.99 L372.6,305.20 L373.1,305.50 L373.5,305.86 L374.0,306.17 L374.5,306.31 L374.9,306.26 L375.4,306.05 L375.8,305.74 L376.3,305.42 L376.8,305.20 L377.2,305.11 L377.7,305.10 L378.2,305.10 L378.6,305.08 L379.1,305.08 L379.5,305.08 L380.0,305.07 L380.5,305.14 L380.9,305.35 L381.4,305.75 L381.9,306.08 L382.3,306.22 L382.8,306.05 L383.2,305.73 L383.7,305.39 L384.2,305.17 L384.6,305.03 L385.1,305.00 L385.6,305.09 L386.0,305.20 L386.5,305.25 L386.9,305.15 L387.4,305.05 L387.9,304.99 L388.3,305.02 L388.8,305.04 L389.3,305.10 L389.7,305.22 L390.2,305.33 L390.6,305.38 L391.1,305.30 L391.6,305.21 L392.0,305.17 L392.5,305.20" stroke="#4a10e8"/>
<path d="M91.8,289.98 L92.3,289.99 L92.7,290.00 L93.2,290.06 L93.7,290.12 L94.1,290.18 L94.6,290.17 L95.0,290.15 L95.5,290.13 L96.0,290.21 L96.4,290.29 L96.9,290.37 L97.4,290.32 L97.8,290.27 L98.3,290.22 L98.7,290.17 L99.2,290.11 L99.7,290.06 L100.1,290.03 L100.6,289.99 L101.1,289.96 L101.5,290.03 L102.0,290.11 L102.4,290.19 L102.9,290.19 L103.4,290.18 L103.8,290.17 L104.3,290.08 L104.8,289.99 L105.2,289.91 L105.7,289.88 L106.1,289.85 L106.6,289.83 L107.1,289.91 L107.5,290.01 L108.0,290.10 L108.5,290.01 L108.9,289.92 L109.4,289.82 L109.8,289.75 L110.3,289.68 L110.8,289.60 L111.2,289.66 L111.7,289.72 L112.2,289.78 L112.6,289.72 L113.1,289.66 L113.5,289.59 L114.0,289.56 L114.5,289.54 L114.9,289.52 L115.4,289.60 L115.9,289.68 L116.3,289.77 L116.8,289.74 L117.2,289.71 L117.7,289.67 L118.2,289.71 L118.6,289.74 L119.1,289.78 L119.6,289.75 L120.0,289.72 L120.5,289.69 L120.9,289.62 L121.4,289.55 L121.9,289.48 L122.3,289.41 L122.8,289.34 L123.3,289.27 L123.7,289.26 L124.2,289.25 L124.6,289.24 L125.1,289.28 L125.6,289.32 L126.0,289.35 L126.5,289.41 L127.0,289.46 L127.4,289.52 L127.9,289.41 L128.3,289.29 L128.8,289.17 L129.3,289.09 L129.7,289.02 L130.2,288.95 L130.7,288.95 L131.1,288.97 L131.6,288.98 L132.0,288.95 L132.5,288.92 L133.0,288.89 L133.4,288.79 L133.9,288.68 L134.4,288.58 L134.8,288.58 L135.3,288.59 L135.7,288.60 L136.2,288.67 L136.7,288.75 L137.1,288.82 L137.6,288.92 L138.1,289.01 L138.5,289.11 L139.0,288.90 L139.4,288.68 L139.9,288.46 L140.4,288.52 L140.8,288.60 L141.3,288.67 L141.8,288.60 L142.2,288.51 L142.7,288.43 L143.2,288.48 L143.6,288.53 L144.1,288.59 L144.5,288.49 L145.0,288.39 L145.5,288.29 L145.9,288.32 L146.4,288.36 L146.9,288.40 L147.3,288.31 L147.8,288.20 L148.2,288.09 L148.7,288.12 L149.2,288.16 L149.6,288.19 L150.1,288.15 L150.6,288.09 L151.0,288.04 L151.5,288.03 L151.9,288.02 L152.4,288.01 L152.9,287.91 L153.3,287.80 L153.8,287.70 L154.3,287.67 L154.7,287.64 L155.2,287.62 L155.6,287.58 L156.1,287.55 L156.6,287.51 L157.0,287.54 L157.5,287.57 L158.0,287.61 L158.4,287.53 L158.9,287.46 L159.3,287.40 L159.8,287.51 L160.3,287.77 L160.7,288.14 L161.2,288.24 L161.7,287.99 L162.1,287.57 L162.6,287.25 L163.0,287.09 L163.5,287.00 L164.0,286.97 L164.4,286.94 L164.9,286.91 L165.4,286.80 L165.8,286.68 L166.3,286.57 L166.7,286.61 L167.2,286.65 L167.7,286.70 L168.1,286.69 L168.6,286.68 L169.1,286.68 L169.5,286.68 L170.0,286.67 L170.4,286.67 L170.9,286.57 L171.4,286.47 L171.8,286.36 L172.3,286.38 L172.8,286.40 L173.2,286.43 L173.7,286.30 L174.1,286.17 L174.6,286.03 L175.1,286.18 L175.5,286.34 L176.0,286.51 L176.5,286.40 L176.9,286.28 L177.4,286.15 L177.8,286.14 L178.3,286.13 L178.8,286.13 L179.2,286.08 L179.7,286.04 L180.2,286.00 L180.6,285.88 L181.1,285.77 L181.5,285.65 L182.0,285.62 L182.5,285.59 L182.9,285.56 L183.4,285.49 L183.9,285.42 L184.3,285.35 L184.8,285.23 L185.2,285.11 L185.7,284.98 L186.2,284.87 L186.6,284.75 L187.1,284.63 L187.6,284.69 L188.0,284.76 L188.5,284.82 L188.9,284.65 L189.4,284.47 L189.9,284.27 L190.3,284.18 L190.8,284.08 L191.3,283.99 L191.7,283.88 L192.2,283.77 L192.7,283.65 L193.1,283.45 L193.6,283.24 L194.0,283.02 L194.5,282.95 L195.0,282.88 L195.4,282.80 L195.9,282.63 L196.4,282.43 L196.8,282.22 L197.3,282.01 L197.7,281.79 L198.2,281.55 L198.7,281.21 L199.1,280.86 L199.6,280.50 L200.1,280.24 L200.5,279.99 L201.0,279.73 L201.4,279.51 L201.9,279.29 L202.4,279.07 L202.8,278.74 L203.3,278.39 L203.8,278.04 L204.2,277.82 L204.7,277.59 L205.1,277.36 L205.6,277.06 L206.1,276.75 L206.5,276.43 L207.0,275.98 L207.5,275.52 L207.9,275.05 L208.4,274.75 L208.8,274.45 L209.3,274.15 L209.8,273.84 L210.2,273.52 L210.7,273.22 L211.2,272.82 L211.6,272.42 L212.1,272.03 L212.5,271.81 L213.0,271.60 L213.5,271.39 L213.9,271.13 L214.4,270.85 L214.9,270.57 L215.3,270.33 L215.8,270.09 L216.2,269.82 L216.7,269.46 L217.2,269.05 L217.6,268.58 L218.1,267.99 L218.6,267.24 L219.0,266.35 L219.5,265.76 L219.9,265.11 L220.4,264.42 L220.9,263.67 L221.3,262.83 L221.8,261.89 L222.3,260.90 L222.7,259.85 L223.2,258.76 L223.6,257.59 L224.1,256.34 L224.6,254.97 L225.0,253.48 L225.5,251.87 L226.0,250.14 L226.4,248.23 L226.9,246.08 L227.3,243.64 L227.8,241.00 L228.3,238.17 L228.7,235.20 L229.2,232.19 L229.7,229.15 L230.1,226.13 L230.6,223.19 L231.0,220.36 L231.5,217.54 L232.0,214.58 L232.4,211.43 L232.9,207.99 L233.4,204.22 L233.8,199.96 L234.3,195.12 L234.7,187.33 L235.2,179.66 L235.7,175.20 L236.1,171.57 L236.6,168.50 L237.1,165.71 L237.5,163.05 L238.0,160.16 L238.4,157.10 L238.9,153.77 L239.4,150.43 L239.8,147.08 L240.3,144.34 L240.8,141.65 L241.2,139.00 L241.7,135.77 L242.1,132.49 L242.6,129.18 L243.1,125.96 L243.5,122.68 L244.0,119.29 L244.5,115.54 L244.9,111.69 L245.4,107.90 L245.9,104.61 L246.3,101.52 L246.8,98.53 L247.2,96.37 L247.7,94.64 L248.2,93.13 L248.6,90.66 L249.1,88.37 L249.6,86.41 L250.0,85.50 L250.5,84.79 L250.9,84.42 L251.4,84.22 L251.9,84.15 L252.3,84.12 L252.8,83.54 L253.3,82.93 L253.7,82.30 L254.2,82.21 L254.6,82.13 L255.1,81.98 L255.6,82.12 L256.0,81.83 L256.5,81.22 L257.0,80.39 L257.4,80.26 L257.9,80.39 L258.3,80.73 L258.8,80.96 L259.3,81.09 L259.7,80.89 L260.2,80.74 L260.7,80.98 L261.1,82.01 L261.6,83.12 L262.0,84.16 L262.5,85.20 L263.0,86.32 L263.4,87.02 L263.9,87.02 L264.4,86.35 L264.8,85.45 L265.3,84.78 L265.7,84.07 L266.2,83.14 L266.7,82.34 L267.1,82.32 L267.6,82.90 L268.1,83.43 L268.5,84.07 L269.0,85.37 L269.4,87.56 L269.9,89.80 L270.4,92.21 L270.8,94.54 L271.3,97.25 L271.8,100.44 L272.2,104.50 L272.7,110.71 L273.1,118.22 L273.6,125.80 L274.1,132.55 L274.5,139.36 L275.0,146.10 L275.5,152.55 L275.9,158.41 L276.4,163.53 L276.8,167.83 L277.3,171.69 L277.8,175.08 L278.2,178.23 L278.7,181.24 L279.2,184.30 L279.6,187.42 L280.1,190.71 L280.5,194.08 L281.0,197.50 L281.5,200.94 L281.9,204.43 L282.4,207.86 L282.9,211.20 L283.3,214.49 L283.8,217.61 L284.2,220.65 L284.7,223.37 L285.2,226.04 L285.6,228.62 L286.1,231.44 L286.6,234.11 L287.0,236.56 L287.5,238.54 L287.9,240.24 L288.4,241.81 L288.9,243.36 L289.3,244.82 L289.8,246.20 L290.3,247.47 L290.7,248.66 L291.2,249.78 L291.6,250.93 L292.1,252.01 L292.6,253.04 L293.0,253.91 L293.5,254.76 L294.0,255.59 L294.4,256.36 L294.9,257.12 L295.4,257.86 L295.8,258.67 L296.3,259.47 L296.7,260.25 L297.2,261.06 L297.7,261.86 L298.1,262.64 L298.6,263.28 L299.1,263.90 L299.5,264.50 L300.0,265.05 L300.4,265.70 L300.9,266.45 L301.4,267.40 L301.8,268.34 L302.3,269.27 L302.8,270.13 L303.2,270.96 L303.7,271.78 L304.1,272.38 L304.6,272.95 L305.1,273.49 L305.5,274.06 L306.0,274.61 L306.5,275.12 L306.9,275.67 L307.4,276.20 L307.8,276.69 L308.3,277.23 L308.8,277.73 L309.2,278.20 L309.7,278.48 L310.2,278.71 L310.6,278.92 L311.1,279.15 L311.5,279.38 L312.0,279.59 L312.5,279.82 L312.9,280.04 L313.4,280.25 L313.9,280.61 L314.3,280.97 L314.8,281.32 L315.2,281.49 L315.7,281.63 L316.2,281.78 L316.6,281.99 L317.1,282.20 L317.6,282.40 L318.0,282.48 L318.5,282.54 L318.9,282.59 L319.4,282.72 L319.9,282.85 L320.3,282.98 L320.8,283.13 L321.3,283.27 L321.7,283.41 L322.2,283.53 L322.6,283.65 L323.1,283.76 L323.6,283.98 L324.0,284.20 L324.5,284.42 L325.0,284.48 L325.4,284.53 L325.9,284.57 L326.3,284.73 L326.8,284.89 L327.3,285.04 L327.7,285.12 L328.2,285.20 L328.7,285.27 L329.1,285.43 L329.6,285.59 L330.0,285.75 L330.5,285.85 L331.0,285.95 L331.4,286.05 L331.9,286.07 L332.4,286.07 L332.8,286.07 L333.3,286.20 L333.7,286.34 L334.2,286.47 L334.7,286.55 L335.1,286.62 L335.6,286.69 L336.1,286.78 L336.5,286.86 L337.0,286.94 L337.4,286.98 L337.9,287.01 L338.4,287.04 L338.8,287.03 L339.3,287.01 L339.8,287.00 L340.2,287.20 L340.7,287.42 L341.1,287.64 L341.6,287.76 L342.1,287.87 L342.5,287.98 L343.0,288.02 L343.5,288.05 L343.9,288.09 L344.4,288.09 L344.9,288.08 L345.3,288.08 L345.8,288.17 L346.2,288.27 L346.7,288.37 L347.2,288.50 L347.6,288.64 L348.1,288.77 L348.6,288.79 L349.0,288.79 L349.5,288.80 L349.9,288.85 L350.4,288.90 L350.9,288.95 L351.3,288.91 L351.8,288.87 L352.3,288.82 L352.7,288.96 L353.2,289.11 L353.6,289.26 L354.1,289.29 L354.6,289.31 L355.0,289.33 L355.5,289.38 L356.0,289.45 L356.4,289.58 L356.9,289.85 L357.3,290.23 L357.8,290.68 L358.3,291.05 L358.7,291.36 L359.2,291.52 L359.7,291.61 L360.1,291.50 L360.6,291.24 L361.0,290.87 L361.5,290.53 L362.0,290.27 L362.4,290.02 L362.9,289.83 L363.4,289.70 L363.8,289.69 L364.3,289.70 L364.7,289.72 L365.2,289.84 L365.7,289.96 L366.1,290.09 L366.6,290.04 L367.1,289.99 L367.5,289.93 L368.0,289.92 L368.4,289.90 L368.9,289.89 L369.4,289.89 L369.8,289.90 L370.3,289.91 L370.8,289.95 L371.2,290.00 L371.7,290.07 L372.1,290.15 L372.6,290.29 L373.1,290.52 L373.5,290.78 L374.0,291.04 L374.5,291.20 L374.9,291.16 L375.4,290.94 L375.8,290.61 L376.3,290.41 L376.8,290.29 L377.2,290.25 L377.7,290.16 L378.2,290.11 L378.6,290.08 L379.1,290.16 L379.5,290.28 L380.0,290.46 L380.5,290.61 L380.9,290.84 L381.4,291.11 L381.9,291.35 L382.3,291.44 L382.8,291.35 L383.2,291.10 L383.7,290.79 L384.2,290.53 L384.6,290.36 L385.1,290.28 L385.6,290.24 L386.0,290.21 L386.5,290.19 L386.9,290.17 L387.4,290.18 L387.9,290.19 L388.3,290.20 L388.8,290.28 L389.3,290.36 L389.7,290.44 L390.2,290.45 L390.6,290.44 L391.1,290.44 L391.6,290.35 L392.0,290.25 L392.5,290.15" stroke="#4a10e8"/>
<path d="M91.8,275.55 L92.3,275.66 L92.7,275.65 L93.2,275.65 L93.7,275.64 L94.1,275.50 L94.6,275.36 L95.0,275.22 L95.5,275.21 L96.0,275.19 L96.4,275.18 L96.9,275.14 L97.4,275.10 L97.8,275.06 L98.3,275.16 L98.7,275.27 L99.2,275.36 L99.7,275.29 L100.1,275.22 L100.6,275.14 L101.1,275.16 L101.5,275.17 L102.0,275.18 L102.4,275.19 L102.9,275.20 L103.4,275.20 L103.8,275.16 L104.3,275.11 L104.8,275.07 L105.2,275.09 L105.7,275.10 L106.1,275.12 L106.6,275.02 L107.1,274.92 L107.5,274.83 L108.0,274.88 L108.5,274.93 L108.9,274.98 L109.4,275.03 L109.8,275.08 L110.3,275.13 L110.8,275.05 L111.2,274.96 L111.7,274.87 L112.2,274.85 L112.6,274.83 L113.1,274.81 L113.5,274.95 L114.0,275.09 L114.5,275.23 L114.9,275.09 L115.4,274.95 L115.9,274.81 L116.3,274.82 L116.8,274.82 L117.2,274.82 L117.7,274.81 L118.2,274.79 L118.6,274.77 L119.1,274.82 L119.6,274.87 L120.0,274.91 L120.5,274.90 L120.9,274.89 L121.4,274.88 L121.9,274.71 L122.3,274.55 L122.8,274.39 L123.3,274.36 L123.7,274.34 L124.2,274.31 L124.6,274.29 L125.1,274.26 L125.6,274.24 L126.0,274.35 L126.5,274.46 L127.0,274.57 L127.4,274.57 L127.9,274.56 L128.3,274.55 L128.8,274.49 L129.3,274.43 L129.7,274.37 L130.2,274.30 L130.7,274.24 L131.1,274.17 L131.6,274.13 L132.0,274.09 L132.5,274.04 L133.0,274.05 L133.4,274.05 L133.9,274.06 L134.4,274.05 L134.8,274.03 L135.3,274.02 L135.7,274.02 L136.2,274.03 L136.7,274.03 L137.1,274.03 L137.6,274.04 L138.1,274.05 L138.5,273.95 L139.0,273.85 L139.4,273.76 L139.9,273.86 L140.4,273.96 L140.8,274.06 L141.3,273.86 L141.8,273.66 L142.2,273.46 L142.7,273.56 L143.2,273.66 L143.6,273.76 L144.1,273.81 L144.5,273.87 L145.0,273.92 L145.5,273.75 L145.9,273.59 L146.4,273.43 L146.9,273.40 L147.3,273.38 L147.8,273.36 L148.2,273.28 L148.7,273.21 L149.2,273.13 L149.6,273.11 L150.1,273.09 L150.6,273.07 L151.0,273.10 L151.5,273.13 L151.9,273.16 L152.4,273.06 L152.9,272.95 L153.3,272.86 L153.8,272.91 L154.3,272.97 L154.7,273.02 L155.2,272.93 L155.6,272.85 L156.1,272.77 L156.6,272.83 L157.0,272.89 L157.5,272.95 L158.0,272.87 L158.4,272.79 L158.9,272.72 L159.3,272.68 L159.8,272.71 L160.3,272.89 L160.7,273.25 L161.2,273.44 L161.7,273.28 L162.1,272.77 L162.6,272.37 L163.0,272.11 L163.5,271.97 L164.0,271.85 L164.4,271.74 L164.9,271.87 L165.4,272.01 L165.8,272.14 L166.3,272.12 L166.7,272.10 L167.2,272.08 L167.7,272.11 L168.1,272.15 L168.6,272.19 L169.1,272.05 L169.5,271.92 L170.0,271.79 L170.4,271.79 L170.9,271.78 L171.4,271.77 L171.8,271.72 L172.3,271.67 L172.8,271.62 L173.2,271.67 L173.7,271.71 L174.1,271.75 L174.6,271.68 L175.1,271.60 L175.5,271.53 L176.0,271.48 L176.5,271.43 L176.9,271.38 L177.4,271.24 L177.8,271.10 L178.3,270.96 L178.8,271.07 L179.2,271.18 L179.7,271.28 L180.2,271.15 L180.6,271.02 L181.1,270.89 L181.5,270.85 L182.0,270.81 L182.5,270.77 L182.9,270.76 L183.4,270.74 L183.9,270.73 L184.3,270.70 L184.8,270.68 L185.2,270.65 L185.7,270.49 L186.2,270.33 L186.6,270.16 L187.1,270.15 L187.6,270.13 L188.0,270.10 L188.5,269.92 L188.9,269.74 L189.4,269.55 L189.9,269.42 L190.3,269.29 L190.8,269.16 L191.3,269.23 L191.7,269.30 L192.2,269.35 L192.7,269.14 L193.1,268.93 L193.6,268.71 L194.0,268.62 L194.5,268.52 L195.0,268.41 L195.4,268.33 L195.9,268.24 L196.4,268.14 L196.8,267.94 L197.3,267.72 L197.7,267.49 L198.2,267.17 L198.7,266.85 L199.1,266.52 L199.6,266.22 L200.1,265.92 L200.5,265.63 L201.0,265.47 L201.4,265.31 L201.9,265.16 L202.4,264.87 L202.8,264.58 L203.3,264.28 L203.8,264.07 L204.2,263.85 L204.7,263.62 L205.1,263.31 L205.6,262.99 L206.1,262.66 L206.5,262.49 L207.0,262.30 L207.5,262.11 L207.9,261.82 L208.4,261.52 L208.8,261.21 L209.3,260.79 L209.8,260.38 L210.2,259.99 L210.7,259.82 L211.2,259.68 L211.6,259.55 L212.1,259.34 L212.5,259.15 L213.0,258.96 L213.5,258.73 L213.9,258.50 L214.4,258.27 L214.9,258.03 L215.3,257.79 L215.8,257.55 L216.2,257.43 L216.7,257.28 L217.2,257.10 L217.6,256.76 L218.1,256.36 L218.6,255.83 L219.0,255.26 L219.5,254.85 L219.9,254.38 L220.4,253.68 L220.9,252.87 L221.3,251.98 L221.8,251.29 L222.3,250.53 L222.7,249.72 L223.2,248.71 L223.6,247.64 L224.1,246.48 L224.6,245.26 L225.0,243.93 L225.5,242.50 L226.0,240.86 L226.4,239.10 L226.9,237.14 L227.3,235.04 L227.8,232.72 L228.3,230.23 L228.7,227.61 L229.2,224.92 L229.7,222.19 L230.1,219.53 L230.6,216.97 L231.0,214.52 L231.5,211.90 L232.0,209.20 L232.4,206.33 L232.9,203.19 L233.4,199.70 L233.8,195.77 L234.3,191.55 L234.7,184.71 L235.2,178.00 L235.7,174.21 L236.1,171.15 L236.6,168.59 L237.1,165.87 L237.5,163.17 L238.0,160.25 L238.4,157.48 L238.9,154.75 L239.4,152.05 L239.8,149.28 L240.3,146.49 L240.8,143.69 L241.2,140.86 L241.7,138.04 L242.1,135.23 L242.6,132.75 L243.1,130.27 L243.5,127.73 L244.0,124.41 L244.5,120.89 L244.9,117.29 L245.4,114.24 L245.9,111.40 L246.3,108.71 L246.8,105.78 L247.2,103.04 L247.7,100.63 L248.2,99.38 L248.6,98.31 L249.1,97.48 L249.6,95.96 L250.0,94.63 L250.5,93.41 L250.9,92.35 L251.4,91.67 L251.9,91.13 L252.3,91.19 L252.8,91.28 L253.3,91.38 L253.7,91.60 L254.2,91.78 L254.6,91.91 L255.1,91.37 L255.6,90.75 L256.0,89.74 L256.5,88.80 L257.0,88.16 L257.4,88.22 L257.9,88.66 L258.3,89.16 L258.8,89.59 L259.3,89.63 L259.7,89.70 L260.2,89.87 L260.7,90.08 L261.1,90.64 L261.6,91.31 L262.0,92.79 L262.5,94.60 L263.0,96.38 L263.4,97.38 L263.9,97.49 L264.4,96.85 L264.8,95.64 L265.3,94.50 L265.7,93.29 L266.2,92.75 L266.7,92.49 L267.1,92.95 L267.6,93.04 L268.1,93.22 L268.5,93.56 L269.0,94.54 L269.4,95.88 L269.9,97.28 L270.4,99.10 L270.8,101.21 L271.3,103.68 L271.8,106.81 L272.2,110.69 L272.7,116.47 L273.1,123.07 L273.6,129.77 L274.1,135.75 L274.5,142.03 L275.0,148.29 L275.5,154.27 L275.9,159.57 L276.4,164.06 L276.8,167.83 L277.3,171.04 L277.8,173.96 L278.2,176.69 L278.7,179.49 L279.2,182.26 L279.6,185.08 L280.1,188.09 L280.5,191.23 L281.0,194.41 L281.5,197.41 L281.9,200.40 L282.4,203.35 L282.9,206.31 L283.3,209.15 L283.8,211.84 L284.2,214.44 L284.7,217.04 L285.2,219.61 L285.6,222.17 L286.1,224.62 L286.6,226.91 L287.0,228.97 L287.5,230.80 L287.9,232.38 L288.4,233.87 L288.9,235.27 L289.3,236.58 L289.8,237.68 L290.3,238.71 L290.7,239.67 L291.2,240.60 L291.6,241.46 L292.1,242.27 L292.6,243.27 L293.0,244.23 L293.5,245.17 L294.0,245.83 L294.4,246.47 L294.9,247.10 L295.4,247.88 L295.8,248.64 L296.3,249.38 L296.7,250.05 L297.2,250.71 L297.7,251.34 L298.1,251.88 L298.6,252.41 L299.1,252.91 L299.5,253.49 L300.0,254.05 L300.4,254.68 L300.9,255.25 L301.4,255.80 L301.8,256.36 L302.3,257.15 L302.8,257.92 L303.2,258.67 L303.7,259.19 L304.1,259.69 L304.6,260.17 L305.1,260.76 L305.5,261.33 L306.0,261.88 L306.5,262.45 L306.9,262.99 L307.4,263.50 L307.8,263.80 L308.3,264.08 L308.8,264.34 L309.2,264.68 L309.7,264.99 L310.2,265.27 L310.6,265.54 L311.1,265.80 L311.5,266.05 L312.0,266.33 L312.5,266.61 L312.9,266.87 L313.4,266.86 L313.9,266.85 L314.3,266.84 L314.8,267.01 L315.2,267.17 L315.7,267.33 L316.2,267.55 L316.6,267.76 L317.1,267.96 L317.6,268.04 L318.0,268.12 L318.5,268.19 L318.9,268.30 L319.4,268.40 L319.9,268.51 L320.3,268.71 L320.8,268.91 L321.3,269.10 L321.7,269.02 L322.2,268.94 L322.6,268.88 L323.1,269.23 L323.6,269.58 L324.0,269.93 L324.5,270.00 L325.0,270.06 L325.4,270.13 L325.9,270.18 L326.3,270.22 L326.8,270.27 L327.3,270.37 L327.7,270.48 L328.2,270.58 L328.7,270.70 L329.1,270.82 L329.6,270.94 L330.0,271.05 L330.5,271.16 L331.0,271.27 L331.4,271.22 L331.9,271.18 L332.4,271.13 L332.8,271.39 L333.3,271.64 L333.7,271.88 L334.2,271.90 L334.7,271.92 L335.1,271.94 L335.6,271.99 L336.1,272.04 L336.5,272.09 L337.0,272.12 L337.4,272.15 L337.9,272.18 L338.4,272.20 L338.8,272.21 L339.3,272.22 L339.8,272.38 L340.2,272.54 L340.7,272.70 L341.1,272.79 L341.6,272.89 L342.1,272.98 L342.5,273.00 L343.0,273.03 L343.5,273.05 L343.9,273.12 L344.4,273.18 L344.9,273.25 L345.3,273.31 L345.8,273.38 L346.2,273.45 L346.7,273.41 L347.2,273.37 L347.6,273.33 L348.1,273.50 L348.6,273.66 L349.0,273.83 L349.5,273.88 L349.9,273.92 L350.4,273.97 L350.9,274.06 L351.3,274.15 L351.8,274.24 L352.3,274.30 L352.7,274.37 L353.2,274.43 L353.6,274.37 L354.1,274.32 L354.6,274.27 L355.0,274.47 L355.5,274.68 L356.0,274.91 L356.4,275.07 L356.9,275.30 L357.3,275.61 L357.8,275.90 L358.3,276.22 L358.7,276.49 L359.2,276.67 L359.7,276.63 L360.1,276.39 L360.6,276.16 L361.0,275.87 L361.5,275.62 L362.0,275.24 L362.4,274.95 L362.9,274.75 L363.4,274.79 L363.8,274.86 L364.3,274.95 L364.7,275.02 L365.2,275.10 L365.7,275.17 L366.1,275.13 L366.6,275.09 L367.1,275.04 L367.5,275.02 L368.0,275.00 L368.4,274.98 L368.9,275.01 L369.4,275.04 L369.8,275.07 L370.3,275.13 L370.8,275.20 L371.2,275.27 L371.7,275.36 L372.1,275.50 L372.6,275.70 L373.1,275.80 L373.5,275.96 L374.0,276.13 L374.5,276.40 L374.9,276.49 L375.4,276.40 L375.8,276.07 L376.3,275.75 L376.8,275.49 L377.2,275.37 L377.7,275.31 L378.2,275.30 L378.6,275.45 L379.1,275.61 L379.5,275.80 L380.0,275.81 L380.5,275.90 L380.9,276.07 L381.4,276.25 L381.9,276.37 L382.3,276.36 L382.8,276.39 L383.2,276.27 L383.7,276.09 L384.2,275.79 L384.6,275.57 L385.1,275.44 L385.6,275.40 L386.0,275.40 L386.5,275.41 L386.9,275.47 L387.4,275.53 L387.9,275.59 L388.3,275.58 L388.8,275.57 L389.3,275.56 L389.7,275.57 L390.2,275.57 L390.6,275.57 L391.1,275.48 L391.6,275.38 L392.0,275.29 L392.5,275.40" stroke="#4a10e8"/>
<path d="M91.8,260.82 L92.3,260.72 L92.7,260.63 L93.2,260.55 L93.7,260.47 L94.1,260.42 L94.6,260.42 L95.0,260.42 L95.5,260.41 L96.0,260.39 L96.4,260.36 L96.9,260.36 L97.4,260.42 L97.8,260.49 L98.3,260.51 L98.7,260.44 L99.2,260.37 L99.7,260.30 L100.1,260.22 L100.6,260.14 L101.1,260.11 L101.5,260.19 L102.0,260.26 L102.4,260.30 L102.9,260.27 L103.4,260.24 L103.8,260.25 L104.3,260.35 L104.8,260.45 L105.2,260.54 L105.7,260.60 L106.1,260.67 L106.6,260.67 L107.1,260.56 L107.5,260.45 L108.0,260.37 L108.5,260.34 L108.9,260.32 L109.4,260.28 L109.8,260.19 L110.3,260.11 L110.8,260.07 L111.2,260.15 L111.7,260.22 L112.2,260.26 L112.6,260.22 L113.1,260.17 L113.5,260.14 L114.0,260.13 L114.5,260.11 L114.9,260.07 L115.4,259.96 L115.9,259.85 L116.3,259.80 L116.8,259.86 L117.2,259.92 L117.7,259.97 L118.2,259.99 L118.6,260.00 L119.1,260.00 L119.6,259.96 L120.0,259.92 L120.5,259.88 L120.9,259.85 L121.4,259.82 L121.9,259.78 L122.3,259.72 L122.8,259.67 L123.3,259.65 L123.7,259.73 L124.2,259.80 L124.6,259.80 L125.1,259.65 L125.6,259.50 L126.0,259.40 L126.5,259.42 L127.0,259.44 L127.4,259.45 L127.9,259.45 L128.3,259.45 L128.8,259.44 L129.3,259.42 L129.7,259.39 L130.2,259.38 L130.7,259.42 L131.1,259.45 L131.6,259.49 L132.0,259.54 L132.5,259.59 L133.0,259.60 L133.4,259.53 L133.9,259.46 L134.4,259.41 L134.8,259.41 L135.3,259.40 L135.7,259.36 L136.2,259.24 L136.7,259.12 L137.1,259.07 L137.6,259.16 L138.1,259.25 L138.5,259.28 L139.0,259.19 L139.4,259.10 L139.9,259.03 L140.4,258.99 L140.8,258.95 L141.3,258.96 L141.8,259.06 L142.2,259.16 L142.7,259.19 L143.2,259.09 L143.6,258.99 L144.1,258.90 L144.5,258.85 L145.0,258.79 L145.5,258.72 L145.9,258.62 L146.4,258.52 L146.9,258.48 L147.3,258.57 L147.8,258.65 L148.2,258.68 L148.7,258.57 L149.2,258.45 L149.6,258.38 L150.1,258.36 L150.6,258.35 L151.0,258.36 L151.5,258.40 L151.9,258.43 L152.4,258.42 L152.9,258.28 L153.3,258.14 L153.8,258.04 L154.3,258.02 L154.7,258.00 L155.2,258.00 L155.6,258.04 L156.1,258.07 L156.6,258.07 L157.0,257.97 L157.5,257.88 L158.0,257.80 L158.4,257.78 L158.9,257.75 L159.3,257.76 L159.8,257.88 L160.3,258.15 L160.7,258.51 L161.2,258.70 L161.7,258.53 L162.1,258.15 L162.6,257.78 L163.0,257.56 L163.5,257.44 L164.0,257.39 L164.4,257.35 L164.9,257.30 L165.4,257.25 L165.8,257.20 L166.3,257.16 L166.7,257.11 L167.2,257.07 L167.7,257.02 L168.1,256.96 L168.6,256.89 L169.1,256.86 L169.5,256.87 L170.0,256.89 L170.4,256.90 L170.9,256.91 L171.4,256.92 L171.8,256.92 L172.3,256.92 L172.8,256.92 L173.2,256.87 L173.7,256.72 L174.1,256.57 L174.6,256.50 L175.1,256.61 L175.5,256.72 L176.0,256.78 L176.5,256.72 L176.9,256.67 L177.4,256.60 L177.8,256.51 L178.3,256.42 L178.8,256.37 L179.2,256.42 L179.7,256.47 L180.2,256.42 L180.6,256.15 L181.1,255.89 L181.5,255.73 L182.0,255.78 L182.5,255.84 L182.9,255.88 L183.4,255.91 L183.9,255.94 L184.3,255.96 L184.8,255.94 L185.2,255.93 L185.7,255.89 L186.2,255.81 L186.6,255.73 L187.1,255.64 L187.6,255.53 L188.0,255.42 L188.5,255.34 L188.9,255.32 L189.4,255.30 L189.9,255.22 L190.3,255.02 L190.8,254.82 L191.3,254.63 L191.7,254.50 L192.2,254.36 L192.7,254.28 L193.1,254.32 L193.6,254.37 L194.0,254.33 L194.5,254.15 L195.0,253.96 L195.4,253.77 L195.9,253.58 L196.4,253.37 L196.8,253.22 L197.3,253.19 L197.7,253.15 L198.2,253.01 L198.7,252.67 L199.1,252.33 L199.6,252.05 L200.1,251.92 L200.5,251.78 L201.0,251.67 L201.4,251.63 L201.9,251.59 L202.4,251.44 L202.8,251.09 L203.3,250.73 L203.8,250.43 L204.2,250.27 L204.7,250.09 L205.1,249.85 L205.6,249.46 L206.1,249.06 L206.5,248.70 L207.0,248.45 L207.5,248.19 L207.9,247.92 L208.4,247.67 L208.8,247.42 L209.3,247.13 L209.8,246.79 L210.2,246.46 L210.7,246.15 L211.2,245.84 L211.6,245.57 L212.1,245.40 L212.5,245.43 L213.0,245.49 L213.5,245.52 L213.9,245.47 L214.4,245.43 L214.9,245.38 L215.3,245.28 L215.8,245.17 L216.2,245.09 L216.7,245.07 L217.2,245.01 L217.6,244.91 L218.1,244.78 L218.6,244.51 L219.0,244.11 L219.5,243.71 L219.9,243.25 L220.4,242.76 L220.9,242.18 L221.3,241.51 L221.8,240.76 L222.3,239.95 L222.7,239.09 L223.2,238.13 L223.6,236.96 L224.1,235.70 L224.6,234.41 L225.0,233.15 L225.5,231.79 L226.0,230.35 L226.4,228.85 L226.9,227.14 L227.3,225.12 L227.8,222.77 L228.3,220.24 L228.7,217.62 L229.2,214.98 L229.7,212.32 L230.1,209.64 L230.6,207.00 L231.0,204.45 L231.5,201.85 L232.0,199.04 L232.4,196.05 L232.9,192.91 L233.4,189.65 L233.8,185.96 L234.3,181.70 L234.7,174.71 L235.2,167.81 L235.7,163.88 L236.1,160.91 L236.6,158.45 L237.1,156.13 L237.5,153.52 L238.0,150.70 L238.4,147.86 L238.9,145.39 L239.4,142.98 L239.8,140.42 L240.3,137.48 L240.8,134.52 L241.2,131.57 L241.7,128.69 L242.1,125.81 L242.6,123.05 L243.1,120.61 L243.5,118.14 L244.0,115.36 L244.5,111.85 L244.9,108.23 L245.4,104.90 L245.9,102.30 L246.3,99.87 L246.8,97.49 L247.2,95.17 L247.7,93.18 L248.2,91.15 L248.6,88.80 L249.1,86.65 L249.6,85.08 L250.0,84.32 L250.5,83.69 L250.9,83.16 L251.4,82.60 L251.9,82.17 L252.3,82.03 L252.8,82.46 L253.3,82.90 L253.7,83.19 L254.2,83.16 L254.6,83.10 L255.1,82.96 L255.6,82.69 L256.0,82.03 L256.5,81.01 L257.0,80.15 L257.4,79.96 L257.9,79.91 L258.3,79.74 L258.8,79.50 L259.3,79.45 L259.7,79.92 L260.2,80.49 L260.7,81.31 L261.1,82.14 L261.6,83.05 L262.0,84.18 L262.5,86.22 L263.0,88.24 L263.4,89.38 L263.9,88.80 L264.4,87.50 L264.8,86.03 L265.3,84.96 L265.7,83.80 L266.2,82.57 L266.7,81.95 L267.1,82.07 L267.6,82.65 L268.1,83.04 L268.5,83.57 L269.0,84.85 L269.4,86.73 L269.9,88.64 L270.4,90.67 L270.8,92.85 L271.3,95.37 L271.8,98.18 L272.2,101.49 L272.7,106.75 L273.1,113.43 L273.6,120.62 L274.1,126.99 L274.5,133.11 L275.0,138.74 L275.5,144.18 L275.9,149.25 L276.4,153.73 L276.8,157.50 L277.3,160.88 L277.8,163.98 L278.2,166.86 L278.7,169.59 L279.2,172.26 L279.6,174.97 L280.1,177.88 L280.5,181.03 L281.0,184.21 L281.5,187.38 L281.9,190.45 L282.4,193.48 L282.9,196.43 L283.3,199.27 L283.8,201.96 L284.2,204.51 L284.7,206.93 L285.2,209.32 L285.6,211.71 L286.1,214.12 L286.6,216.37 L287.0,218.44 L287.5,220.29 L287.9,221.90 L288.4,223.38 L288.9,224.72 L289.3,225.98 L289.8,227.18 L290.3,228.34 L290.7,229.43 L291.2,230.42 L291.6,231.30 L292.1,232.11 L292.6,232.91 L293.0,233.75 L293.5,234.58 L294.0,235.37 L294.4,236.14 L294.9,236.88 L295.4,237.59 L295.8,238.23 L296.3,238.86 L296.7,239.47 L297.2,240.10 L297.7,240.71 L298.1,241.25 L298.6,241.65 L299.1,242.03 L299.5,242.43 L300.0,242.92 L300.4,243.43 L300.9,243.99 L301.4,244.58 L301.8,245.16 L302.3,245.71 L302.8,246.19 L303.2,246.66 L303.7,247.10 L304.1,247.51 L304.6,247.90 L305.1,248.26 L305.5,248.60 L306.0,248.93 L306.5,249.30 L306.9,249.79 L307.4,250.26 L307.8,250.64 L308.3,250.86 L308.8,251.06 L309.2,251.28 L309.7,251.57 L310.2,251.84 L310.6,252.06 L311.1,252.21 L311.5,252.36 L312.0,252.48 L312.5,252.58 L312.9,252.67 L313.4,252.82 L313.9,253.09 L314.3,253.37 L314.8,253.58 L315.2,253.66 L315.7,253.75 L316.2,253.82 L316.6,253.88 L317.1,253.94 L317.6,253.98 L318.0,254.02 L318.5,254.06 L318.9,254.15 L319.4,254.35 L319.9,254.56 L320.3,254.69 L320.8,254.67 L321.3,254.64 L321.7,254.67 L322.2,254.81 L322.6,254.95 L323.1,255.06 L323.6,255.13 L324.0,255.20 L324.5,255.30 L325.0,255.47 L325.4,255.64 L325.9,255.75 L326.3,255.73 L326.8,255.71 L327.3,255.73 L327.7,255.85 L328.2,255.97 L328.7,256.07 L329.1,256.13 L329.6,256.19 L330.0,256.26 L330.5,256.35 L331.0,256.44 L331.4,256.56 L331.9,256.73 L332.4,256.90 L332.8,257.02 L333.3,257.05 L333.7,257.07 L334.2,257.11 L334.7,257.19 L335.1,257.26 L335.6,257.32 L336.1,257.34 L336.5,257.36 L337.0,257.37 L337.4,257.36 L337.9,257.35 L338.4,257.38 L338.8,257.50 L339.3,257.62 L339.8,257.73 L340.2,257.83 L340.7,257.93 L341.1,258.00 L341.6,258.01 L342.1,258.03 L342.5,258.04 L343.0,258.05 L343.5,258.07 L343.9,258.16 L344.4,258.40 L344.9,258.64 L345.3,258.80 L345.8,258.81 L346.2,258.82 L346.7,258.83 L347.2,258.87 L347.6,258.91 L348.1,258.94 L348.6,258.94 L349.0,258.95 L349.5,259.00 L349.9,259.14 L350.4,259.28 L350.9,259.41 L351.3,259.50 L351.8,259.60 L352.3,259.67 L352.7,259.70 L353.2,259.73 L353.6,259.76 L354.1,259.79 L354.6,259.83 L355.0,259.86 L355.5,259.90 L356.0,259.97 L356.4,260.09 L356.9,260.29 L357.3,260.58 L357.8,260.94 L358.3,261.33 L358.7,261.67 L359.2,261.91 L359.7,262.02 L360.1,261.92 L360.6,261.63 L361.0,261.18 L361.5,260.76 L362.0,260.47 L362.4,260.36 L362.9,260.31 L363.4,260.32 L363.8,260.35 L364.3,260.40 L364.7,260.46 L365.2,260.55 L365.7,260.63 L366.1,260.68 L366.6,260.63 L367.1,260.59 L367.5,260.54 L368.0,260.47 L368.4,260.40 L368.9,260.35 L369.4,260.36 L369.8,260.37 L370.3,260.41 L370.8,260.52 L371.2,260.64 L371.7,260.68 L372.1,260.55 L372.6,260.47 L373.1,260.62 L373.5,261.11 L374.0,261.59 L374.5,261.91 L374.9,261.91 L375.4,261.73 L375.8,261.41 L376.3,261.02 L376.8,260.69 L377.2,260.50 L377.7,260.49 L378.2,260.52 L378.6,260.54 L379.1,260.52 L379.5,260.53 L380.0,260.59 L380.5,260.76 L380.9,261.01 L381.4,261.35 L381.9,261.74 L382.3,261.99 L382.8,261.97 L383.2,261.63 L383.7,261.24 L384.2,260.91 L384.6,260.73 L385.1,260.63 L385.6,260.59 L386.0,260.61 L386.5,260.64 L386.9,260.66 L387.4,260.67 L387.9,260.68 L388.3,260.67 L388.8,260.59 L389.3,260.52 L389.7,260.47 L390.2,260.48 L390.6,260.49 L391.1,260.51 L391.6,260.55 L392.0,260.59 L392.5,260.60" stroke="#4a10e8"/>
<path d="M91.8,245.95 L92.3,245.98 L92.7,246.01 L93.2,246.03 L93.7,246.04 L94.1,246.05 L94.6,246.06 L95.0,246.06 L95.5,246.07 L96.0,246.05 L96.4,245.92 L96.9,245.80 L97.4,245.69 L97.8,245.64 L98.3,245.60 L98.7,245.57 L99.2,245.60 L99.7,245.63 L100.1,245.66 L100.6,245.66 L101.1,245.65 L101.5,245.65 L102.0,245.64 L102.4,245.63 L102.9,245.62 L103.4,245.64 L103.8,245.65 L104.3,245.64 L104.8,245.57 L105.2,245.49 L105.7,245.45 L106.1,245.54 L106.6,245.63 L107.1,245.67 L107.5,245.55 L108.0,245.43 L108.5,245.35 L108.9,245.41 L109.4,245.47 L109.8,245.51 L110.3,245.49 L110.8,245.47 L111.2,245.46 L111.7,245.52 L112.2,245.57 L112.6,245.59 L113.1,245.50 L113.5,245.41 L114.0,245.30 L114.5,245.15 L114.9,245.00 L115.4,244.91 L115.9,245.04 L116.3,245.17 L116.8,245.27 L117.2,245.27 L117.7,245.27 L118.2,245.26 L118.6,245.20 L119.1,245.14 L119.6,245.08 L120.0,245.02 L120.5,244.97 L120.9,244.93 L121.4,244.91 L121.9,244.89 L122.3,244.89 L122.8,244.97 L123.3,245.05 L123.7,245.12 L124.2,245.13 L124.6,245.14 L125.1,245.14 L125.6,245.11 L126.0,245.09 L126.5,245.05 L127.0,244.97 L127.4,244.89 L127.9,244.86 L128.3,244.95 L128.8,245.04 L129.3,245.06 L129.7,244.84 L130.2,244.61 L130.7,244.47 L131.1,244.57 L131.6,244.68 L132.0,244.75 L132.5,244.71 L133.0,244.66 L133.4,244.60 L133.9,244.47 L134.4,244.35 L134.8,244.28 L135.3,244.41 L135.7,244.54 L136.2,244.62 L136.7,244.55 L137.1,244.47 L137.6,244.41 L138.1,244.43 L138.5,244.45 L139.0,244.44 L139.4,244.34 L139.9,244.25 L140.4,244.18 L140.8,244.23 L141.3,244.28 L141.8,244.30 L142.2,244.22 L142.7,244.14 L143.2,244.09 L143.6,244.12 L144.1,244.16 L144.5,244.15 L145.0,244.02 L145.5,243.89 L145.9,243.80 L146.4,243.85 L146.9,243.91 L147.3,243.96 L147.8,243.97 L148.2,243.98 L148.7,243.97 L149.2,243.85 L149.6,243.72 L150.1,243.65 L150.6,243.76 L151.0,243.86 L151.5,243.89 L151.9,243.64 L152.4,243.39 L152.9,243.21 L153.3,243.24 L153.8,243.27 L154.3,243.29 L154.7,243.27 L155.2,243.24 L155.6,243.21 L156.1,243.19 L156.6,243.17 L157.0,243.13 L157.5,243.03 L158.0,242.93 L158.4,242.87 L158.9,242.90 L159.3,242.96 L159.8,243.07 L160.3,243.30 L160.7,243.62 L161.2,243.78 L161.7,243.59 L162.1,243.24 L162.6,242.97 L163.0,242.79 L163.5,242.69 L164.0,242.60 L164.4,242.49 L164.9,242.38 L165.4,242.32 L165.8,242.44 L166.3,242.56 L166.7,242.63 L167.2,242.49 L167.7,242.35 L168.1,242.24 L168.6,242.25 L169.1,242.26 L169.5,242.26 L170.0,242.22 L170.4,242.17 L170.9,242.12 L171.4,242.03 L171.8,241.94 L172.3,241.88 L172.8,241.90 L173.2,241.91 L173.7,241.94 L174.1,242.01 L174.6,242.08 L175.1,242.12 L175.5,242.03 L176.0,241.95 L176.5,241.89 L176.9,241.94 L177.4,241.99 L177.8,242.00 L178.3,241.87 L178.8,241.74 L179.2,241.64 L179.7,241.67 L180.2,241.70 L180.6,241.68 L181.1,241.50 L181.5,241.31 L182.0,241.17 L182.5,241.19 L182.9,241.21 L183.4,241.25 L183.9,241.37 L184.3,241.49 L184.8,241.52 L185.2,241.24 L185.7,240.96 L186.2,240.75 L186.6,240.80 L187.1,240.84 L187.6,240.86 L188.0,240.80 L188.5,240.73 L188.9,240.63 L189.4,240.43 L189.9,240.24 L190.3,240.06 L190.8,239.91 L191.3,239.76 L191.7,239.62 L192.2,239.52 L192.7,239.41 L193.1,239.33 L193.6,239.38 L194.0,239.42 L194.5,239.44 L195.0,239.35 L195.4,239.25 L195.9,239.12 L196.4,238.85 L196.8,238.56 L197.3,238.30 L197.7,238.19 L198.2,238.06 L198.7,237.94 L199.1,237.83 L199.6,237.72 L200.1,237.56 L200.5,237.20 L201.0,236.85 L201.4,236.57 L201.9,236.49 L202.4,236.40 L202.8,236.29 L203.3,236.08 L203.8,235.86 L204.2,235.65 L204.7,235.50 L205.1,235.35 L205.6,235.14 L206.1,234.81 L206.5,234.46 L207.0,234.12 L207.5,233.83 L207.9,233.54 L208.4,233.23 L208.8,232.92 L209.3,232.62 L209.8,232.34 L210.2,232.13 L210.7,231.95 L211.2,231.80 L211.6,231.64 L212.1,231.53 L212.5,231.44 L213.0,231.36 L213.5,231.30 L213.9,231.28 L214.4,231.34 L214.9,231.41 L215.3,231.48 L215.8,231.49 L216.2,231.48 L216.7,231.45 L217.2,231.41 L217.6,231.32 L218.1,231.17 L218.6,230.90 L219.0,230.51 L219.5,230.11 L219.9,229.63 L220.4,229.12 L220.9,228.51 L221.3,227.85 L221.8,227.10 L222.3,226.26 L222.7,225.28 L223.2,224.25 L223.6,223.17 L224.1,222.08 L224.6,220.90 L225.0,219.63 L225.5,218.28 L226.0,216.83 L226.4,215.23 L226.9,213.33 L227.3,211.14 L227.8,208.73 L228.3,206.14 L228.7,203.41 L229.2,200.62 L229.7,197.85 L230.1,195.08 L230.6,192.39 L231.0,189.70 L231.5,187.01 L232.0,184.31 L232.4,181.68 L232.9,178.80 L233.4,175.48 L233.8,171.42 L234.3,166.81 L234.7,159.54 L235.2,152.50 L235.7,148.42 L236.1,145.12 L236.6,142.47 L237.1,140.11 L237.5,137.75 L238.0,135.04 L238.4,132.18 L238.9,129.25 L239.4,125.96 L239.8,122.65 L240.3,119.47 L240.8,116.88 L241.2,114.31 L241.7,111.72 L242.1,108.93 L242.6,106.12 L243.1,103.32 L243.5,100.63 L244.0,97.86 L244.5,94.81 L244.9,91.20 L245.4,87.63 L245.9,84.39 L246.3,81.86 L246.8,79.46 L247.2,77.21 L247.7,75.03 L248.2,73.02 L248.6,71.09 L249.1,69.18 L249.6,67.57 L250.0,66.18 L250.5,65.01 L250.9,64.14 L251.4,63.79 L251.9,64.00 L252.3,64.25 L252.8,64.55 L253.3,64.92 L253.7,65.27 L254.2,65.39 L254.6,64.79 L255.1,64.15 L255.6,63.62 L256.0,63.35 L256.5,62.79 L257.0,62.27 L257.4,61.47 L257.9,60.95 L258.3,60.83 L258.8,61.69 L259.3,62.55 L259.7,63.40 L260.2,64.18 L260.7,65.41 L261.1,66.96 L261.6,68.44 L262.0,69.84 L262.5,71.50 L263.0,72.96 L263.4,73.84 L263.9,73.69 L264.4,72.65 L264.8,71.18 L265.3,69.72 L265.7,68.14 L266.2,66.30 L266.7,64.83 L267.1,64.47 L267.6,64.77 L268.1,65.32 L268.5,66.39 L269.0,68.14 L269.4,70.07 L269.9,71.48 L270.4,73.10 L270.8,74.99 L271.3,77.10 L271.8,79.69 L272.2,83.23 L272.7,89.19 L273.1,96.30 L273.6,103.38 L274.1,109.44 L274.5,115.58 L275.0,121.82 L275.5,128.03 L275.9,133.65 L276.4,138.40 L276.8,142.33 L277.3,145.86 L277.8,149.01 L278.2,151.76 L278.7,154.39 L279.2,157.03 L279.6,159.83 L280.1,162.78 L280.5,165.86 L281.0,168.94 L281.5,172.05 L281.9,175.18 L282.4,178.39 L282.9,181.51 L283.3,184.47 L283.8,187.19 L284.2,189.83 L284.7,192.46 L285.2,195.00 L285.6,197.47 L286.1,199.86 L286.6,202.19 L287.0,204.32 L287.5,206.23 L287.9,207.89 L288.4,209.44 L288.9,210.90 L289.3,212.26 L289.8,213.55 L290.3,214.73 L290.7,215.73 L291.2,216.66 L291.6,217.57 L292.1,218.55 L292.6,219.47 L293.0,220.31 L293.5,220.97 L294.0,221.61 L294.4,222.27 L294.9,223.05 L295.4,223.80 L295.8,224.51 L296.3,225.15 L296.7,225.77 L297.2,226.35 L297.7,226.87 L298.1,227.36 L298.6,227.86 L299.1,228.45 L299.5,229.01 L300.0,229.52 L300.4,229.97 L300.9,230.43 L301.4,230.91 L301.8,231.46 L302.3,232.00 L302.8,232.50 L303.2,232.90 L303.7,233.29 L304.1,233.67 L304.6,234.06 L305.1,234.44 L305.5,234.81 L306.0,235.18 L306.5,235.53 L306.9,235.85 L307.4,236.07 L307.8,236.27 L308.3,236.49 L308.8,236.84 L309.2,237.16 L309.7,237.43 L310.2,237.55 L310.6,237.66 L311.1,237.79 L311.5,238.02 L312.0,238.24 L312.5,238.43 L312.9,238.53 L313.4,238.62 L313.9,238.75 L314.3,239.00 L314.8,239.24 L315.2,239.41 L315.7,239.33 L316.2,239.25 L316.6,239.21 L317.1,239.33 L317.6,239.46 L318.0,239.57 L318.5,239.65 L318.9,239.74 L319.4,239.83 L319.9,239.96 L320.3,240.09 L320.8,240.20 L321.3,240.27 L321.7,240.34 L322.2,240.41 L322.6,240.48 L323.1,240.55 L323.6,240.62 L324.0,240.69 L324.5,240.76 L325.0,240.82 L325.4,240.81 L325.9,240.80 L326.3,240.85 L326.8,241.09 L327.3,241.33 L327.7,241.46 L328.2,241.25 L328.7,241.04 L329.1,240.93 L329.6,241.13 L330.0,241.34 L330.5,241.53 L331.0,241.66 L331.4,241.79 L331.9,241.88 L332.4,241.82 L332.8,241.75 L333.3,241.75 L333.7,241.99 L334.2,242.24 L334.7,242.42 L335.1,242.44 L335.6,242.45 L336.1,242.50 L336.5,242.68 L337.0,242.87 L337.4,242.98 L337.9,242.85 L338.4,242.72 L338.8,242.66 L339.3,242.82 L339.8,242.99 L340.2,243.12 L340.7,243.15 L341.1,243.18 L341.6,243.21 L342.1,243.23 L342.5,243.26 L343.0,243.32 L343.5,243.50 L343.9,243.68 L344.4,243.81 L344.9,243.78 L345.3,243.76 L345.8,243.75 L346.2,243.83 L346.7,243.91 L347.2,243.96 L347.6,243.95 L348.1,243.93 L348.6,243.94 L349.0,244.04 L349.5,244.13 L349.9,244.26 L350.4,244.51 L350.9,244.76 L351.3,244.93 L351.8,244.84 L352.3,244.75 L352.7,244.71 L353.2,244.89 L353.6,245.07 L354.1,245.20 L354.6,245.21 L355.0,245.23 L355.5,245.26 L356.0,245.32 L356.4,245.43 L356.9,245.59 L357.3,245.76 L357.8,246.02 L358.3,246.39 L358.7,247.01 L359.2,247.49 L359.7,247.67 L360.1,247.39 L360.6,246.95 L361.0,246.50 L361.5,246.19 L362.0,245.97 L362.4,245.81 L362.9,245.66 L363.4,245.56 L363.8,245.50 L364.3,245.49 L364.7,245.49 L365.2,245.50 L365.7,245.57 L366.1,245.63 L366.6,245.70 L367.1,245.76 L367.5,245.82 L368.0,245.84 L368.4,245.74 L368.9,245.64 L369.4,245.58 L369.8,245.64 L370.3,245.71 L370.8,245.74 L371.2,245.67 L371.7,245.62 L372.1,245.63 L372.6,245.77 L373.1,245.99 L373.5,246.27 L374.0,246.56 L374.5,246.74 L374.9,246.76 L375.4,246.68 L375.8,246.50 L376.3,246.30 L376.8,246.12 L377.2,246.03 L377.7,246.00 L378.2,245.96 L378.6,245.94 L379.1,245.94 L379.5,245.95 L380.0,246.01 L380.5,246.16 L380.9,246.41 L381.4,246.69 L381.9,246.92 L382.3,247.01 L382.8,246.92 L383.2,246.68 L383.7,246.39 L384.2,246.14 L384.6,245.96 L385.1,245.83 L385.6,245.76 L386.0,245.73 L386.5,245.77 L386.9,245.82 L387.4,245.85 L387.9,245.78 L388.3,245.72 L388.8,245.67 L389.3,245.66 L389.7,245.66 L390.2,245.66 L390.6,245.66 L391.1,245.66 L391.6,245.69 L392.0,245.83 L392.5,245.97" stroke="#4a10e8"/>
<path d="M91.8,230.87 L92.3,231.08 L92.7,231.24 L93.2,231.27 L93.7,231.30 L94.1,231.28 L94.6,231.12 L95.0,230.96 L95.5,230.84 L96.0,230.84 L96.4,230.83 L96.9,230.85 L97.4,230.93 L97.8,231.01 L98.3,231.06 L98.7,231.03 L99.2,230.99 L99.7,230.96 L100.1,230.97 L100.6,230.98 L101.1,230.96 L101.5,230.90 L102.0,230.84 L102.4,230.81 L102.9,230.85 L103.4,230.90 L103.8,230.91 L104.3,230.83 L104.8,230.76 L105.2,230.70 L105.7,230.68 L106.1,230.67 L106.6,230.67 L107.1,230.71 L107.5,230.75 L108.0,230.78 L108.5,230.78 L108.9,230.78 L109.4,230.75 L109.8,230.65 L110.3,230.55 L110.8,230.48 L111.2,230.50 L111.7,230.52 L112.2,230.52 L112.6,230.43 L113.1,230.35 L113.5,230.31 L114.0,230.42 L114.5,230.52 L114.9,230.59 L115.4,230.54 L115.9,230.49 L116.3,230.46 L116.8,230.48 L117.2,230.50 L117.7,230.50 L118.2,230.44 L118.6,230.38 L119.1,230.32 L119.6,230.29 L120.0,230.25 L120.5,230.23 L120.9,230.26 L121.4,230.28 L121.9,230.28 L122.3,230.22 L122.8,230.15 L123.3,230.09 L123.7,230.07 L124.2,230.05 L124.6,230.03 L125.1,230.03 L125.6,230.03 L126.0,230.04 L126.5,230.09 L127.0,230.14 L127.4,230.17 L127.9,230.17 L128.3,230.16 L128.8,230.13 L129.3,230.05 L129.7,229.97 L130.2,229.91 L130.7,229.89 L131.1,229.87 L131.6,229.85 L132.0,229.81 L132.5,229.77 L133.0,229.73 L133.4,229.70 L133.9,229.68 L134.4,229.67 L134.8,229.69 L135.3,229.71 L135.7,229.71 L136.2,229.64 L136.7,229.58 L137.1,229.55 L137.6,229.65 L138.1,229.75 L138.5,229.81 L139.0,229.77 L139.4,229.73 L139.9,229.68 L140.4,229.63 L140.8,229.57 L141.3,229.54 L141.8,229.58 L142.2,229.63 L142.7,229.60 L143.2,229.35 L143.6,229.09 L144.1,228.92 L144.5,228.97 L145.0,229.02 L145.5,229.05 L145.9,229.04 L146.4,229.02 L146.9,229.01 L147.3,229.02 L147.8,229.02 L148.2,229.00 L148.7,228.90 L149.2,228.81 L149.6,228.75 L150.1,228.81 L150.6,228.86 L151.0,228.88 L151.5,228.79 L151.9,228.70 L152.4,228.63 L152.9,228.61 L153.3,228.59 L153.8,228.56 L154.3,228.50 L154.7,228.45 L155.2,228.43 L155.6,228.51 L156.1,228.60 L156.6,228.65 L157.0,228.61 L157.5,228.56 L158.0,228.52 L158.4,228.49 L158.9,228.47 L159.3,228.46 L159.8,228.54 L160.3,228.77 L160.7,229.10 L161.2,229.22 L161.7,228.99 L162.1,228.59 L162.6,228.29 L163.0,228.15 L163.5,228.06 L164.0,227.98 L164.4,227.91 L164.9,227.84 L165.4,227.80 L165.8,227.76 L166.3,227.72 L166.7,227.64 L167.2,227.56 L167.7,227.50 L168.1,227.52 L168.6,227.54 L169.1,227.54 L169.5,227.49 L170.0,227.43 L170.4,227.36 L170.9,227.24 L171.4,227.13 L171.8,227.09 L172.3,227.26 L172.8,227.43 L173.2,227.52 L173.7,227.38 L174.1,227.23 L174.6,227.15 L175.1,227.24 L175.5,227.34 L176.0,227.37 L176.5,227.24 L176.9,227.11 L177.4,227.00 L177.8,226.95 L178.3,226.90 L178.8,226.85 L179.2,226.84 L179.7,226.83 L180.2,226.82 L180.6,226.79 L181.1,226.76 L181.5,226.75 L182.0,226.78 L182.5,226.80 L182.9,226.79 L183.4,226.66 L183.9,226.52 L184.3,226.44 L184.8,226.47 L185.2,226.50 L185.7,226.48 L186.2,226.36 L186.6,226.23 L187.1,226.12 L187.6,226.07 L188.0,226.03 L188.5,226.01 L188.9,226.08 L189.4,226.15 L189.9,226.11 L190.3,225.78 L190.8,225.45 L191.3,225.19 L191.7,225.15 L192.2,225.10 L192.7,225.05 L193.1,225.02 L193.6,224.99 L194.0,224.92 L194.5,224.75 L195.0,224.58 L195.4,224.41 L195.9,224.28 L196.4,224.15 L196.8,224.02 L197.3,223.96 L197.7,223.89 L198.2,223.77 L198.7,223.53 L199.1,223.28 L199.6,223.06 L200.1,222.93 L200.5,222.81 L201.0,222.66 L201.4,222.43 L201.9,222.20 L202.4,222.00 L202.8,221.87 L203.3,221.73 L203.8,221.58 L204.2,221.40 L204.7,221.21 L205.1,221.00 L205.6,220.75 L206.1,220.48 L206.5,220.21 L207.0,219.98 L207.5,219.74 L207.9,219.51 L208.4,219.32 L208.8,219.14 L209.3,218.94 L209.8,218.65 L210.2,218.40 L210.7,218.19 L211.2,218.07 L211.6,217.99 L212.1,217.95 L212.5,217.91 L213.0,217.92 L213.5,217.95 L213.9,218.01 L214.4,218.08 L214.9,218.17 L215.3,218.33 L215.8,218.47 L216.2,218.61 L216.7,218.74 L217.2,218.83 L217.6,218.86 L218.1,218.73 L218.6,218.48 L219.0,218.15 L219.5,217.82 L219.9,217.44 L220.4,216.99 L220.9,216.36 L221.3,215.63 L221.8,214.83 L222.3,214.04 L222.7,213.19 L223.2,212.29 L223.6,211.29 L224.1,210.20 L224.6,209.00 L225.0,207.68 L225.5,206.26 L226.0,204.72 L226.4,203.09 L226.9,201.24 L227.3,199.13 L227.8,196.85 L228.3,194.39 L228.7,191.71 L229.2,188.68 L229.7,185.60 L230.1,182.61 L230.6,179.93 L231.0,177.37 L231.5,174.79 L232.0,172.06 L232.4,169.15 L232.9,165.98 L233.4,162.46 L233.8,158.49 L234.3,154.01 L234.7,146.94 L235.2,140.01 L235.7,136.02 L236.1,132.63 L236.6,129.75 L237.1,127.14 L237.5,124.54 L238.0,121.73 L238.4,118.76 L238.9,115.84 L239.4,112.94 L239.8,110.05 L240.3,107.19 L240.8,104.30 L241.2,101.44 L241.7,98.61 L242.1,95.79 L242.6,92.97 L243.1,90.13 L243.5,87.24 L244.0,84.17 L244.5,80.70 L244.9,77.14 L245.4,73.79 L245.9,71.15 L246.3,68.69 L246.8,66.20 L247.2,63.46 L247.7,61.04 L248.2,58.98 L248.6,57.63 L249.1,56.56 L249.6,55.55 L250.0,53.99 L250.5,52.53 L250.9,51.42 L251.4,50.85 L251.9,50.40 L252.3,50.17 L252.8,50.44 L253.3,50.71 L253.7,50.80 L254.2,50.41 L254.6,49.99 L255.1,49.72 L255.6,49.95 L256.0,49.78 L256.5,49.13 L257.0,48.26 L257.4,48.09 L257.9,48.06 L258.3,47.71 L258.8,47.35 L259.3,47.32 L259.7,48.29 L260.2,49.42 L260.7,50.91 L261.1,52.47 L261.6,54.11 L262.0,55.59 L262.5,57.15 L263.0,58.65 L263.4,59.68 L263.9,60.03 L264.4,59.51 L264.8,58.31 L265.3,56.31 L265.7,54.14 L266.2,51.95 L266.7,50.74 L267.1,50.33 L267.6,50.77 L268.1,51.83 L268.5,53.10 L269.0,54.79 L269.4,56.18 L269.9,57.66 L270.4,59.21 L270.8,60.66 L271.3,62.54 L271.8,65.28 L272.2,69.80 L272.7,76.24 L273.1,83.55 L273.6,90.33 L274.1,96.39 L274.5,102.60 L275.0,109.00 L275.5,115.11 L275.9,120.60 L276.4,125.08 L276.8,128.83 L277.3,132.28 L277.8,135.68 L278.2,138.84 L278.7,141.79 L279.2,144.49 L279.6,147.25 L280.1,150.18 L280.5,153.29 L281.0,156.44 L281.5,159.65 L281.9,162.92 L282.4,166.14 L282.9,169.23 L283.3,172.13 L283.8,174.88 L284.2,177.54 L284.7,180.20 L285.2,182.81 L285.6,185.35 L286.1,187.79 L286.6,190.06 L287.0,192.18 L287.5,194.16 L287.9,195.88 L288.4,197.43 L288.9,198.74 L289.3,199.96 L289.8,201.13 L290.3,202.32 L290.7,203.44 L291.2,204.53 L291.6,205.67 L292.1,206.74 L292.6,207.72 L293.0,208.53 L293.5,209.32 L294.0,210.03 L294.4,210.55 L294.9,211.05 L295.4,211.63 L295.8,212.49 L296.3,213.33 L296.7,214.07 L297.2,214.57 L297.7,215.04 L298.1,215.48 L298.6,215.91 L299.1,216.31 L299.5,216.75 L300.0,217.34 L300.4,217.90 L300.9,218.37 L301.4,218.61 L301.8,218.84 L302.3,219.11 L302.8,219.54 L303.2,219.95 L303.7,220.36 L304.1,220.75 L304.6,221.12 L305.1,221.49 L305.5,221.83 L306.0,222.15 L306.5,222.43 L306.9,222.60 L307.4,222.75 L307.8,222.88 L308.3,223.02 L308.8,223.14 L309.2,223.25 L309.7,223.37 L310.2,223.48 L310.6,223.63 L311.1,223.90 L311.5,224.17 L312.0,224.36 L312.5,224.32 L312.9,224.27 L313.4,224.27 L313.9,224.41 L314.3,224.55 L314.8,224.66 L315.2,224.72 L315.7,224.78 L316.2,224.82 L316.6,224.84 L317.1,224.86 L317.6,224.90 L318.0,225.01 L318.5,225.12 L318.9,225.22 L319.4,225.31 L319.9,225.41 L320.3,225.47 L320.8,225.48 L321.3,225.48 L321.7,225.52 L322.2,225.67 L322.6,225.82 L323.1,225.96 L323.6,226.05 L324.0,226.15 L324.5,226.20 L325.0,226.13 L325.4,226.06 L325.9,226.03 L326.3,226.11 L326.8,226.20 L327.3,226.29 L327.7,226.40 L328.2,226.51 L328.7,226.60 L329.1,226.65 L329.6,226.70 L330.0,226.78 L330.5,226.93 L331.0,227.08 L331.4,227.19 L331.9,227.21 L332.4,227.22 L332.8,227.24 L333.3,227.28 L333.7,227.31 L334.2,227.38 L334.7,227.52 L335.1,227.66 L335.6,227.77 L336.1,227.81 L336.5,227.85 L337.0,227.91 L337.4,228.05 L337.9,228.18 L338.4,228.31 L338.8,228.40 L339.3,228.50 L339.8,228.56 L340.2,228.53 L340.7,228.50 L341.1,228.49 L341.6,228.54 L342.1,228.59 L342.5,228.64 L343.0,228.69 L343.5,228.75 L343.9,228.78 L344.4,228.75 L344.9,228.72 L345.3,228.71 L345.8,228.76 L346.2,228.80 L346.7,228.88 L347.2,229.04 L347.6,229.20 L348.1,229.31 L348.6,229.31 L349.0,229.30 L349.5,229.33 L349.9,229.47 L350.4,229.61 L350.9,229.72 L351.3,229.76 L351.8,229.80 L352.3,229.86 L352.7,229.97 L353.2,230.08 L353.6,230.15 L354.1,230.10 L354.6,230.05 L355.0,230.07 L355.5,230.29 L356.0,230.53 L356.4,230.75 L356.9,230.84 L357.3,231.02 L357.8,231.35 L358.3,231.95 L358.7,232.49 L359.2,232.84 L359.7,232.82 L360.1,232.60 L360.6,232.23 L361.0,231.80 L361.5,231.41 L362.0,231.13 L362.4,231.01 L362.9,230.97 L363.4,230.94 L363.8,230.82 L364.3,230.71 L364.7,230.62 L365.2,230.61 L365.7,230.59 L366.1,230.59 L366.6,230.65 L367.1,230.70 L367.5,230.73 L368.0,230.71 L368.4,230.68 L368.9,230.67 L369.4,230.72 L369.8,230.77 L370.3,230.83 L370.8,230.93 L371.2,231.04 L371.7,231.11 L372.1,231.06 L372.6,231.08 L373.1,231.21 L373.5,231.47 L374.0,231.74 L374.5,231.92 L374.9,231.99 L375.4,231.89 L375.8,231.65 L376.3,231.33 L376.8,231.08 L377.2,230.94 L377.7,230.97 L378.2,231.05 L378.6,231.12 L379.1,231.15 L379.5,231.21 L380.0,231.28 L380.5,231.30 L380.9,231.41 L381.4,231.64 L381.9,232.08 L382.3,232.37 L382.8,232.38 L383.2,231.96 L383.7,231.50 L384.2,231.12 L384.6,230.99 L385.1,230.93 L385.6,230.94 L386.0,231.00 L386.5,231.07 L386.9,231.11 L387.4,231.06 L387.9,231.00 L388.3,230.99 L388.8,231.11 L389.3,231.22 L389.7,231.28 L390.2,231.18 L390.6,231.07 L391.1,231.01 L391.6,231.08 L392.0,231.14 L392.5,231.18" stroke="#4a10e8"/>
</g>
<line x1="222.5" y1="437" x2="222.5" y2="546.7" stroke="#000" stroke-width="1.1" stroke-dasharray="8.8,4.8"/>
<rect x="91.8" y="28.9" width="300.7" height="542.4" fill="none" stroke="#000" stroke-width="1.2"/>
<path d="M103.37,571.3v-3M103.37,28.9v3M114.93,571.3v-6M114.93,28.9v6M126.50,571.3v-3M126.50,28.9v3M138.06,571.3v-3M138.06,28.9v3M149.63,571.3v-3M149.63,28.9v3M161.19,571.3v-6M161.19,28.9v6M172.76,571.3v-3M172.76,28.9v3M184.32,571.3v-3M184.32,28.9v3M195.89,571.3v-3M195.89,28.9v3M207.45,571.3v-6M207.45,28.9v6M219.02,571.3v-3M219.02,28.9v3M230.58,571.3v-3M230.58,28.9v3M242.15,571.3v-3M242.15,28.9v3M253.72,571.3v-6M253.72,28.9v6M265.28,571.3v-3M265.28,28.9v3M276.85,571.3v-3M276.85,28.9v3M288.41,571.3v-3M288.41,28.9v3M299.98,571.3v-6M299.98,28.9v6M311.54,571.3v-3M311.54,28.9v3M323.11,571.3v-3M323.11,28.9v3M334.67,571.3v-3M334.67,28.9v3M346.24,571.3v-6M346.24,28.9v6M357.80,571.3v-3M357.80,28.9v3M369.37,571.3v-3M369.37,28.9v3M380.93,571.3v-3M380.93,28.9v3M91.8,546.65h3M392.5,546.65h-3M91.8,521.99h3M392.5,521.99h-3M91.8,497.34h3M392.5,497.34h-3M91.8,472.68h6M392.5,472.68h-6M91.8,448.03h3M392.5,448.03h-3M91.8,423.37h3M392.5,423.37h-3M91.8,398.72h3M392.5,398.72h-3M91.8,374.06h6M392.5,374.06h-6M91.8,349.41h3M392.5,349.41h-3M91.8,324.75h3M392.5,324.75h-3M91.8,300.10h3M392.5,300.10h-3M91.8,275.45h6M392.5,275.45h-6M91.8,250.79h3M392.5,250.79h-3M91.8,226.14h3M392.5,226.14h-3M91.8,201.48h3M392.5,201.48h-3M91.8,176.83h6M392.5,176.83h-6M91.8,152.17h3M392.5,152.17h-3M91.8,127.52h3M392.5,127.52h-3M91.8,102.86h3M392.5,102.86h-3M91.8,78.21h6M392.5,78.21h-6M91.8,53.55h3M392.5,53.55h-3" stroke="#000" stroke-width="1.2" fill="none"/>
<g font-family="Liberation Sans, sans-serif" fill="#000" stroke="#000" stroke-width="0.25">
<text x="95.13" y="593.90" font-size="17.50">−600</text>
<text x="141.39" y="593.90" font-size="17.50">−400</text>
<text x="187.65" y="593.90" font-size="17.50">−200</text>
<text x="248.84" y="593.90" font-size="17.50">0</text>
<text x="285.28" y="593.90" font-size="17.50">200</text>
<text x="331.78" y="593.90" font-size="17.50">400</text>
<text x="377.80" y="593.90" font-size="17.50">600</text>
<text x="77.34" y="572.00" font-size="17.50">0</text>
<text x="67.61" y="479.28" font-size="17.50">20</text>
<text x="67.61" y="380.66" font-size="17.50">40</text>
<text x="67.61" y="282.05" font-size="17.50">60</text>
<text x="67.61" y="183.43" font-size="17.50">80</text>
<text x="57.88" y="84.81" font-size="17.50">100</text>
<text x="174.23" y="612.60" font-size="17.22">VELOCITY [km/s]</text>
<text transform="translate(44.6,367.44) rotate(-90)" font-size="17.57">RELATIVE FLUX</text>
<text x="104.01" y="87.70" font-size="17.55">TW HYA</text>
<text x="102.96" y="107.60" font-size="17.53">H−ALPHA</text>
<text x="102.77" y="216.40" font-size="16.65">2006 APR 17</text>
<text x="102.77" y="320.30" font-size="16.65">2006 APR 16</text>
<text x="102.77" y="472.90" font-size="16.65">2006 APR 15</text>
<text x="334.34" y="216.30" font-size="15.33">8.3 hr</text>
<text x="334.34" y="325.00" font-size="15.33">8.3 hr</text>
<text x="334.34" y="483.00" font-size="15.33">8.0 hr</text>
</g>
</svg>
</body></html>
